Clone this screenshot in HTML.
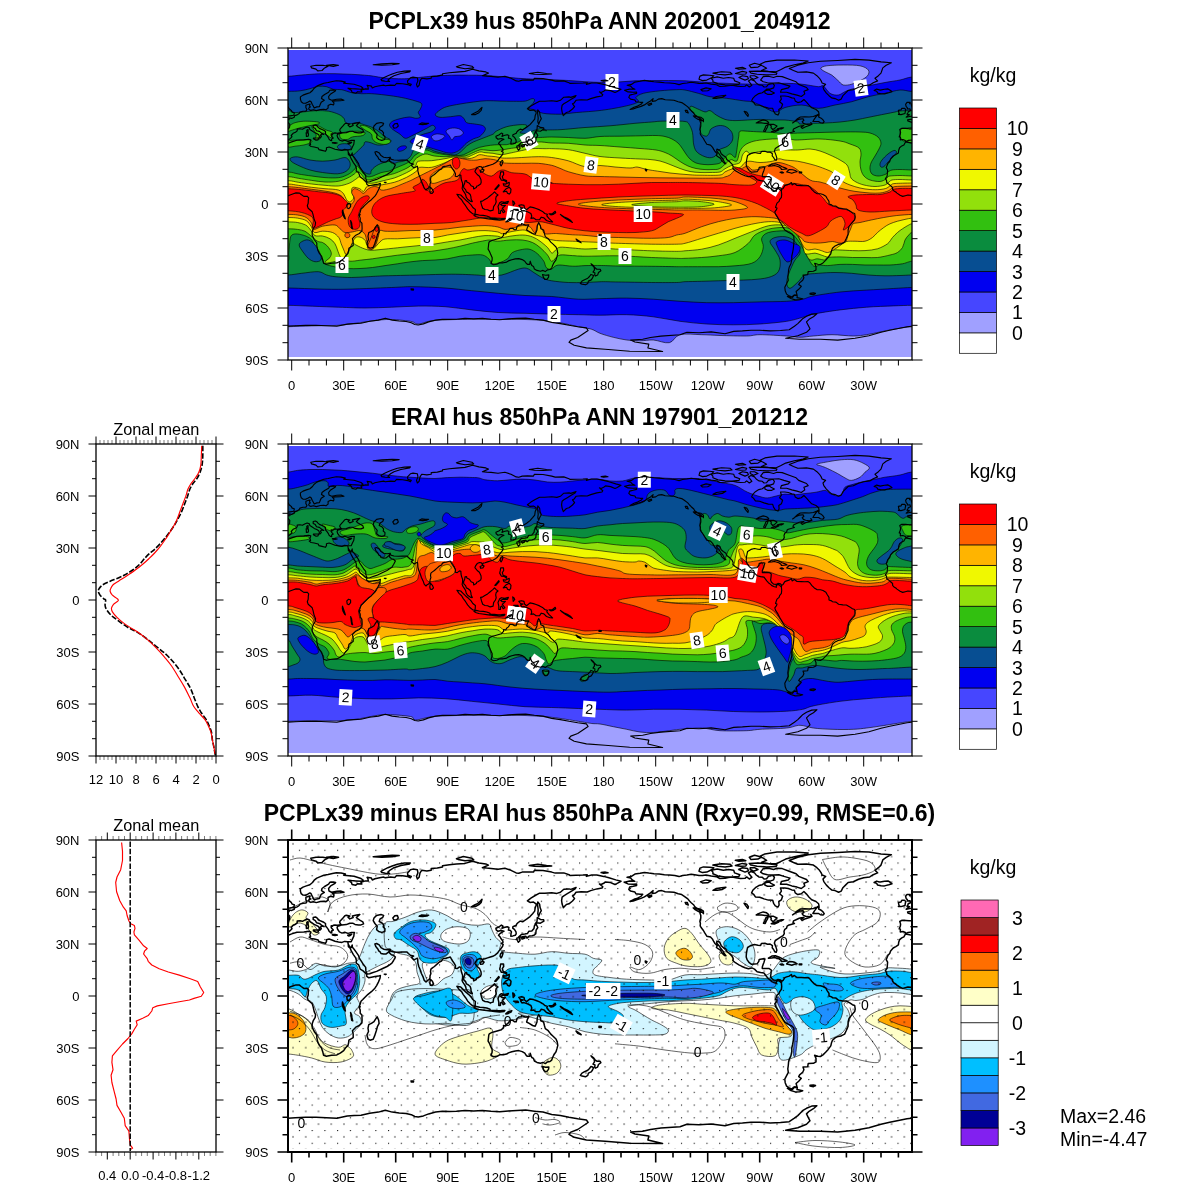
<!DOCTYPE html>
<html lang="en">
<head>
<meta charset="utf-8">
<title>hus 850hPa ANN</title>
<style>html,body{margin:0;padding:0;background:#fff}body{width:1200px;height:1200px;overflow:hidden}svg{display:block}</style>
</head>
<body>
<svg width="1200" height="1200" viewBox="0 0 1200 1200" font-family="'Liberation Sans', sans-serif" fill="#000">
<rect x="0" y="0" width="1200" height="1200" fill="#fff"/>
<defs><path id="coast" d="M281.5 141.9L288.2 143.2L291.7 141.9L296.9 140.2L303.8 139.9L308.7 139.3L310.8 139.9L309.9 142.5L310.6 144.5L309.2 145.1L311.1 146.5L314.2 147L318.2 148L318.9 149.6L322 150.4L325.5 151.3L326.5 149.4L326.4 147.7L329.1 147L331.9 148L335 149.2L338.5 149.9L342 150.4L344.6 149.4L347.7 149.7L348.2 152L348.4 154.6L349.9 155.8L351.3 158.9L353.4 162.6L355.7 165.9L356.4 168.5L356.2 171.1L358.6 172.8L360.2 177.1L363.1 178.9L365.7 181.5L366.8 182.3L366.6 184.1L368.8 185.8L371.4 185.3L374.9 184.6L378.4 184.1L380.4 183.4L380.1 186L378.4 190.1L376.6 193.6L374.9 196.2L371.4 199.7L368 202.3L364.5 205.7L362.8 207.5L361 209.2L360.2 212.1L359 215.3L360.2 217.9L360.2 221.3L361.9 223.1L362.1 228.3L361.9 230.9L359.3 233.5L355.8 235.2L352.4 238.7L353.2 242.1L353.2 245.6L348.9 248.2L348.6 250.8L348 253.4L345.4 256L343.7 258.6L340.2 261.2L336.8 262.9L331.6 263.3L326.4 264.3L323.6 263.3L322.9 260.3L321.5 256L319.4 253.4L317.7 249.9L316.8 245.6L316.8 243L314.2 239.5L312.2 235.2L312.2 231.7L313.4 228.3L315.1 225.7L315.6 222.7L314.2 219.6L313 214.4L312.2 211.8L308.2 208.3L307.3 205.7L308.2 203.1L308.3 200.2L308.7 197.9L307.1 196.2L303.8 196.4L301.2 194.5L299.5 193.1L296 192.9L293.4 193.8L290 195L288.2 195.7L286.5 195.2L283.9 195L281.3 195.7L278.7 196.4L276.1 195.3L273 193.1L271.8 192L270 191L268.6 189.3L268.6 187.5L266.6 185.8L265.7 184.9L262.8 182.7L262.6 180.6L261.4 178.5L263.1 176.3L263.4 172.8L263.6 170.2L262.2 167.6L264 163.3L265.7 161.5L266.6 158.9L269.2 156L271.8 154.6L274.4 152.9L274.7 150.3L275.6 147.7L277.8 145.9L279.9 144.9L281.5 141.9M905.5 141.9L912.2 143.2L915.7 141.9L920.9 140.2L927.8 139.9L932.7 139.3L934.8 139.9L933.9 142.5L934.6 144.5L933.2 145.1L935.1 146.5L938.2 147L942.2 148L942.9 149.6L946 150.4L949.5 151.3L950.5 149.4L950.4 147.7L953.1 147L955.9 148L959 149.2L962.5 149.9L966 150.4L968.6 149.4L971.7 149.7L972.2 152L972.4 154.6L973.9 155.8L975.3 158.9L977.4 162.6L979.7 165.9L980.4 168.5L980.2 171.1L982.6 172.8L984.2 177.1L987.1 178.9L989.7 181.5L990.8 182.3L990.6 184.1L992.8 185.8L995.4 185.3L998.9 184.6L1002.4 184.1L1004.4 183.4L1004.1 186L1002.4 190.1L1000.6 193.6L998.9 196.2L995.4 199.7L992 202.3L988.5 205.7L986.8 207.5L985 209.2L984.2 212.1L983 215.3L984.2 217.9L984.2 221.3L985.9 223.1L986.1 228.3L985.9 230.9L983.3 233.5L979.8 235.2L976.4 238.7L977.2 242.1L977.2 245.6L972.9 248.2L972.6 250.8L972 253.4L969.4 256L967.7 258.6L964.2 261.2L960.8 262.9L955.6 263.3L950.4 264.3L947.6 263.3L946.9 260.3L945.5 256L943.4 253.4L941.7 249.9L940.8 245.6L940.8 243L938.2 239.5L936.2 235.2L936.2 231.7L937.4 228.3L939.1 225.7L939.6 222.7L938.2 219.6L937 214.4L936.2 211.8L932.2 208.3L931.3 205.7L932.2 203.1L932.3 200.2L932.7 197.9L931.1 196.2L927.8 196.4L925.2 194.5L923.5 193.1L920 192.9L917.4 193.8L914 195L912.2 195.7L910.5 195.2L907.9 195L905.3 195.7L902.7 196.4L900.1 195.3L897 193.1L895.8 192L894 191L892.6 189.3L892.6 187.5L890.6 185.8L889.7 184.9L886.8 182.7L886.6 180.6L885.4 178.5L887.1 176.3L887.4 172.8L887.6 170.2L886.2 167.6L888 163.3L889.7 161.5L890.6 158.9L893.2 156L895.8 154.6L898.4 152.9L898.7 150.3L899.6 147.7L901.8 145.9L903.9 144.9L905.5 141.9M347.7 149.7L351.2 149.7L352.4 147.1L353.8 144.2L354.1 141.6L354.4 140.4L351.5 140.4L348 141.4L344.7 140.2L342 141.1L339.4 139.9L337.6 137.3L337.1 135.5L337.6 134.3L339.4 133.8L342 132.9L346.3 132.6L349.8 131.2L352.7 131.2L355 132.4L358.4 132.9L361 132.9L363.6 131.9L362.8 129.8L360.2 128.3L357.6 126.7L356.4 125.5L358.1 123.9L359.8 122.4L356.7 122.9L352.4 123.9L353.2 125.5L349.8 126.9L348 125.1L349.8 124.1L346.3 123.2L344.9 123.7L343.2 125.7L341.4 127.7L340.1 129.1L339.7 130.3L340.6 132.1L342 132.8L339.4 132.9L337.1 133.3L335 132.9L333.3 133.3L332.4 134.3L331.2 133.8L331.2 135.5L331.9 136.6L333.3 138.1L331.6 139L331.7 140.7L330.4 140.4L329.1 139.3L328.4 137.6L327.2 135.9L325.5 133.8L325.5 131.5L323.8 130.3L322 129.5L319.4 128.4L317.7 126.9L316.8 125.7L315.4 125L313.2 125.5L313.2 127.4L315.3 128.6L316.5 130.7L319.4 131.4L321.5 133.1L323.8 134.5L321.5 134L320.5 135.2L321.3 136.6L319.8 138.1L319.1 137.6L319.4 136.4L318.7 134.7L316.8 133.6L314.2 132.4L312.2 131L309.9 129.6L309.4 127.9L307.1 127L304.7 128.1L302.4 129.3L300 128.8L297.2 129.1L297.2 130.9L295.5 132.2L293.1 133.3L291.2 135.5L292 136.7L290.7 138.1L288.6 139.9L284.1 140.4L282.3 141.4L280.8 140.2L278.9 139.5L276.3 139.9L276.4 137.3L275.2 136.9L276.3 134.3L276.6 132.1L275.8 129.5L277.8 128.3L281.6 128.4L285.1 128.8L288.6 128.8L289.6 126.9L289.8 124.3L287.9 122.4L283.9 121L283.6 119.9L286.5 119.4L289.1 119.6L288.8 117.9L291.7 118.4L294.3 117.2L294.5 115.8L297.2 114.9L299.2 113.5L300 112.1L303 111.3L305.9 111.1L307 109.5L305.9 107.8L305.9 105.2L308.7 104.3L310.1 104L309.4 106.1L310.4 106.9L308.7 108.1L309 109.5L310.8 110.4L313.4 109.7L316.3 110.6L320.3 109.5L323.8 109.2L326 109.7L328.1 108.1L328.1 105.5L330.7 104.2L333.6 104.9L334 102.9L332.4 101.4L335 100.9L340.2 100.7L344 100.2L341.1 99.1L336.8 99.3L331.6 100.2L329 99L328.6 96.5L330.7 93.9L335 91.3L335.6 90.5L333.3 89.9L329.8 90.3L328.6 92.2L324.6 94.5L322 96.5L321.5 98.6L324.3 100.3L321.2 102.3L320.3 104.3L319.4 106.6L316.8 106.9L314.2 108L313.5 106.6L312.2 104.2L311.1 101.7L309.9 100.9L308.2 101.9L305.6 103.3L303 103.1L301.2 101.7L300.4 99.1L300.4 96.9L303 95.1L306.4 93.9L309.9 92.7L312.5 90.5L314.2 88.2L316.8 86.1L320.3 84.6L323.8 83.2L328.1 82.5L332.4 81.5L336.4 80.8L341.1 81.1L345.4 82.1L343.7 83.2L348.9 83.7L354.1 84.2L361 86.5L363.1 88.2L361 89.3L355.8 88.9L351.5 88.6L348 88.2L351.5 90.5L352 92.4L355.8 93.2L357.6 91.7L361.9 92L361 90.3L365.4 88.9L368.3 89.1L368 87L367.1 85.3L371.4 86.1L372.3 88L374.9 86.8L378.4 86L383.6 85.1L385.3 85.8L390.5 85.1L394.8 85.4L396.6 83.4L402.6 83.7L407.8 84.6L410.4 85.8L411.3 84.4L407.8 83.2L407.5 80.9L410.4 77.8L413 77.1L417.4 77.8L417.9 80.9L416.5 84.4L417.4 87L419.1 85.3L420 80.9L421.7 78.3L426.9 78.9L431.2 78.3L431.2 76.6L437.3 76.1L442.5 74.9L442.5 73.7L449.4 72.8L456.4 72.1L465 71.4L472.5 69.3L478.9 70.9L485.8 71.9L488.4 73.1L482.4 75.7L486.7 76.1L491 76.4L498 77.3L504.9 76.3L511 78.3L516.2 80.9L518.8 81.3L522.2 80.1L527.4 79.9L533.5 80.1L534.4 78.3L543 78.5L551.7 80.1L555.2 81.1L563.8 80.9L569 82.7L569.9 83.4L576 83.2L582.9 83L587.2 82.7L586.4 84.4L591.6 83L596.8 83L603.7 84.4L608.9 85.8L615.8 87.9L621 89.3L616.7 91.7L615 92.5L610.6 90.6L605.4 89.9L603.7 91.3L601.1 92.5L599.4 91.9L602.8 94.8L602 96L596.8 96.9L590.7 98.6L587.2 100L581.2 99.7L576 100.3L574.2 102.9L572.5 103.8L574.6 106.6L572.5 109L569 111.8L566.4 112.5L563.3 115.6L562.1 112.1L561.6 108.7L562.1 105.2L563.8 103.8L567.3 101.7L571.6 99.1L575.1 96.9L576 95.5L570.8 97.4L569 96.9L563.8 97.2L560.4 100.3L556.9 101.4L551.7 100.7L544.8 101.2L539.6 101.2L535.2 103.5L530.9 106.1L527.4 108.8L530 110.4L533.5 110.1L536.1 111.8L536.1 113.5L535.2 115.6L534.7 119.1L532.6 121.7L530 124.6L526.6 127.2L522.6 129.8L520.2 129.1L518.2 130.5L516.7 132.1L516.3 133.3L512.9 134.8L512.7 136.1L514.4 137.3L516 139.9L516.2 141.9L515.3 143.2L512.9 143.9L510.8 144.2L511 141.6L511.5 139.9L510.4 138.5L508.4 138.1L508.9 135.5L507.2 134.7L504 135.5L502 136.4L502.8 133.8L501.4 133.1L498.8 135L495.9 136.2L496.2 137.8L498 139.3L501.1 138.5L504 139.2L501.4 140.6L500 141.6L498.5 143.3L500.2 145.1L501.3 147.1L502.8 148.9L503 150.4L501.4 151.3L503.2 152.3L502.5 154.6L500.6 156.9L499 158.9L497.4 161.2L495 163.1L492.8 164.3L489.6 165.3L487.6 165.9L485 166.7L483.1 167.1L482.4 168.8L481.5 166.7L479.4 166.6L477.2 167.6L475.4 170.2L474.9 171.6L477.2 174.5L479.4 176.3L481 179.7L481.2 182.3L480.6 184.1L478 185.8L476.8 186.1L476.3 187.5L473.7 188.9L473.4 186.7L471.1 185.8L469.4 183.2L466.8 182L466.6 180.6L465 180.9L464.7 183.2L463.6 185.8L463.8 187.9L465.6 189.6L466.4 191.9L468.2 192.7L470.2 194.5L470.9 196.7L471.1 199.1L472.3 201.6L470.8 201.4L467.6 199.3L466.2 197.1L465.6 194.5L464.5 192.6L462.8 190.1L462.1 188.4L462.6 185.8L462.6 183.2L461.6 180.6L461 178L460.9 175.4L459.5 174.9L457.2 176.6L455.2 176.3L455.5 173.7L454.1 171.1L452.6 169L451.2 166.7L450.3 165L448.6 165.5L446 166.2L444.2 166.4L442.5 167.1L441.6 169L439.4 170L437.3 171.9L434.4 174.5L432.4 175.9L430.9 177.1L430.5 179.7L430.9 181.5L430 184.1L430 186.1L428.6 187.9L427.2 188.7L426 190L424.3 188.4L423.1 184.9L421.4 181.5L420.3 178L418.8 174.5L417.9 171.1L417.7 167.6L417.4 166.2L413.9 167.9L411.3 165.3L413.6 164.1L410.4 163.3L408.4 161.5L407 160L402.6 160.1L398.3 160.3L394 160L391 159.3L390.2 157.2L387 157.7L383.6 157.2L381 155.6L379.2 152.9L376.6 151.5L374.9 152L375.8 154.6L378 157.2L378.7 158.9L380.1 159.8L381 161.5L383.6 162.1L386.2 161.9L388.8 159.8L389.5 158.4L389.6 161L391.4 162.7L393.4 163.3L395.4 165L393.6 168.5L391.9 171.1L389.6 172.8L387 174.5L382.2 176.8L376.6 179.4L372.3 180.8L369.7 181.8L367.1 182L365.9 178.9L365.7 175.4L363.6 172.8L361.6 169.7L359.6 166.7L358.4 163.3L356.2 160.1L354.1 157.2L352.4 155.3L352.2 152.9L351.2 155.5L349.9 154.8L348.9 153.4L348.2 152M971.7 149.7L975.2 149.7L976.4 147.1L977.8 144.2L978.1 141.6L978.4 140.4L975.5 140.4L972 141.4L968.7 140.2L966 141.1L963.4 139.9L961.6 137.3L961.1 135.5L961.6 134.3L963.4 133.8L966 132.9L970.3 132.6L973.8 131.2L976.7 131.2L979 132.4L982.4 132.9L985 132.9L987.6 131.9L986.8 129.8L984.2 128.3L981.6 126.7L980.4 125.5L982.1 123.9L983.8 122.4L980.7 122.9L976.4 123.9L977.2 125.5L973.8 126.9L972 125.1L973.8 124.1L970.3 123.2L968.9 123.7L967.2 125.7L965.4 127.7L964.1 129.1L963.7 130.3L964.6 132.1L966 132.8L963.4 132.9L961.1 133.3L959 132.9L957.3 133.3L956.4 134.3L955.2 133.8L955.2 135.5L955.9 136.6L957.3 138.1L955.6 139L955.7 140.7L954.4 140.4L953.1 139.3L952.4 137.6L951.2 135.9L949.5 133.8L949.5 131.5L947.8 130.3L946 129.5L943.4 128.4L941.7 126.9L940.8 125.7L939.4 125L937.2 125.5L937.2 127.4L939.3 128.6L940.5 130.7L943.4 131.4L945.5 133.1L947.8 134.5L945.5 134L944.5 135.2L945.3 136.6L943.8 138.1L943.1 137.6L943.4 136.4L942.7 134.7L940.8 133.6L938.2 132.4L936.2 131L933.9 129.6L933.4 127.9L931.1 127L928.7 128.1L926.4 129.3L924 128.8L921.2 129.1L921.2 130.9L919.5 132.2L917.1 133.3L915.2 135.5L916 136.7L914.7 138.1L912.6 139.9L908.1 140.4L906.3 141.4L904.8 140.2L902.9 139.5L900.3 139.9L900.4 137.3L899.2 136.9L900.3 134.3L900.6 132.1L899.8 129.5L901.8 128.3L905.6 128.4L909.1 128.8L912.6 128.8L913.6 126.9L913.8 124.3L911.9 122.4L907.9 121L907.6 119.9L910.5 119.4L913.1 119.6L912.8 117.9L915.7 118.4L918.3 117.2L918.5 115.8L921.2 114.9L923.2 113.5L924 112.1L927 111.3L929.9 111.1L931 109.5L929.9 107.8L929.9 105.2L932.7 104.3L934.1 104L933.4 106.1L934.4 106.9L932.7 108.1L933 109.5L934.8 110.4L937.4 109.7L940.3 110.6L944.3 109.5L947.8 109.2L950 109.7L952.1 108.1L952.1 105.5L954.7 104.2L957.6 104.9L958 102.9L956.4 101.4L959 100.9L964.2 100.7L968 100.2L965.1 99.1L960.8 99.3L955.6 100.2L953 99L952.6 96.5L954.7 93.9L959 91.3L959.6 90.5L957.3 89.9L953.8 90.3L952.6 92.2L948.6 94.5L946 96.5L945.5 98.6L948.3 100.3L945.2 102.3L944.3 104.3L943.4 106.6L940.8 106.9L938.2 108L937.5 106.6L936.2 104.2L935.1 101.7L933.9 100.9L932.2 101.9L929.6 103.3L927 103.1L925.2 101.7L924.4 99.1L924.4 96.9L927 95.1L930.4 93.9L933.9 92.7L936.5 90.5L938.2 88.2L940.8 86.1L944.3 84.6L947.8 83.2L952.1 82.5L956.4 81.5L960.4 80.8L965.1 81.1L969.4 82.1L967.7 83.2L972.9 83.7L978.1 84.2L985 86.5L987.1 88.2L985 89.3L979.8 88.9L975.5 88.6L972 88.2L975.5 90.5L976 92.4L979.8 93.2L981.6 91.7L985.9 92L985 90.3L989.4 88.9L992.3 89.1L992 87L991.1 85.3L995.4 86.1L996.3 88L998.9 86.8L1002.4 86L1007.6 85.1L1009.3 85.8L1014.5 85.1L1018.8 85.4L1020.6 83.4L1026.6 83.7L1031.8 84.6L1034.4 85.8L1035.3 84.4L1031.8 83.2L1031.5 80.9L1034.4 77.8L1037 77.1L1041.4 77.8L1041.9 80.9L1040.5 84.4L1041.4 87L1043.1 85.3L1044 80.9L1045.7 78.3L1050.9 78.9L1055.2 78.3L1055.2 76.6L1061.3 76.1L1066.5 74.9L1066.5 73.7L1073.4 72.8L1080.4 72.1L1089 71.4L1096.5 69.3L1102.9 70.9L1109.8 71.9L1112.4 73.1L1106.4 75.7L1110.7 76.1L1115 76.4L1122 77.3L1128.9 76.3L1135 78.3L1140.2 80.9L1142.8 81.3L1146.2 80.1L1151.4 79.9L1157.5 80.1L1158.4 78.3L1167 78.5L1175.7 80.1L1179.2 81.1L1187.8 80.9L1193 82.7L1193.9 83.4L1200 83.2L1206.9 83L1211.2 82.7L1210.4 84.4L1215.6 83L1220.8 83L1227.7 84.4L1232.9 85.8L1239.8 87.9L1245 89.3L1240.7 91.7L1239 92.5L1234.6 90.6L1229.4 89.9L1227.7 91.3L1225.1 92.5L1223.4 91.9L1226.8 94.8L1226 96L1220.8 96.9L1214.7 98.6L1211.2 100L1205.2 99.7L1200 100.3L1198.2 102.9L1196.5 103.8L1198.6 106.6L1196.5 109L1193 111.8L1190.4 112.5L1187.3 115.6L1186.1 112.1L1185.6 108.7L1186.1 105.2L1187.8 103.8L1191.3 101.7L1195.6 99.1L1199.1 96.9L1200 95.5L1194.8 97.4L1193 96.9L1187.8 97.2L1184.4 100.3L1180.9 101.4L1175.7 100.7L1168.8 101.2L1163.6 101.2L1159.2 103.5L1154.9 106.1L1151.4 108.8L1154 110.4L1157.5 110.1L1160.1 111.8L1160.1 113.5L1159.2 115.6L1158.7 119.1L1156.6 121.7L1154 124.6L1150.6 127.2L1146.6 129.8L1144.2 129.1L1142.2 130.5L1140.7 132.1L1140.3 133.3L1136.9 134.8L1136.7 136.1L1138.4 137.3L1140 139.9L1140.2 141.9L1139.3 143.2L1136.9 143.9L1134.8 144.2L1135 141.6L1135.5 139.9L1134.4 138.5L1132.4 138.1L1132.9 135.5L1131.2 134.7L1128 135.5L1126 136.4L1126.8 133.8L1125.4 133.1L1122.8 135L1119.9 136.2L1120.2 137.8L1122 139.3L1125.1 138.5L1128 139.2L1125.4 140.6L1124 141.6L1122.5 143.3L1124.2 145.1L1125.3 147.1L1126.8 148.9L1127 150.4L1125.4 151.3L1127.2 152.3L1126.5 154.6L1124.6 156.9L1123 158.9L1121.4 161.2L1119 163.1L1116.8 164.3L1113.6 165.3L1111.6 165.9L1109 166.7L1107.1 167.1L1106.4 168.8L1105.5 166.7L1103.4 166.6L1101.2 167.6L1099.4 170.2L1098.9 171.6L1101.2 174.5L1103.4 176.3L1105 179.7L1105.2 182.3L1104.6 184.1L1102 185.8L1100.8 186.1L1100.3 187.5L1097.7 188.9L1097.4 186.7L1095.1 185.8L1093.4 183.2L1090.8 182L1090.6 180.6L1089 180.9L1088.7 183.2L1087.6 185.8L1087.8 187.9L1089.6 189.6L1090.4 191.9L1092.2 192.7L1094.2 194.5L1094.9 196.7L1095.1 199.1L1096.3 201.6L1094.8 201.4L1091.6 199.3L1090.2 197.1L1089.6 194.5L1088.5 192.6L1086.8 190.1L1086.1 188.4L1086.6 185.8L1086.6 183.2L1085.6 180.6L1085 178L1084.9 175.4L1083.5 174.9L1081.2 176.6L1079.2 176.3L1079.5 173.7L1078.1 171.1L1076.6 169L1075.2 166.7L1074.3 165L1072.6 165.5L1070 166.2L1068.2 166.4L1066.5 167.1L1065.6 169L1063.4 170L1061.3 171.9L1058.4 174.5L1056.4 175.9L1054.9 177.1L1054.5 179.7L1054.9 181.5L1054 184.1L1054 186.1L1052.6 187.9L1051.2 188.7L1050 190L1048.3 188.4L1047.1 184.9L1045.4 181.5L1044.3 178L1042.8 174.5L1041.9 171.1L1041.7 167.6L1041.4 166.2L1037.9 167.9L1035.3 165.3L1037.6 164.1L1034.4 163.3L1032.4 161.5L1031 160L1026.6 160.1L1022.3 160.3L1018 160L1015 159.3L1014.2 157.2L1011 157.7L1007.6 157.2L1005 155.6L1003.2 152.9L1000.6 151.5L998.9 152L999.8 154.6L1002 157.2L1002.7 158.9L1004.1 159.8L1005 161.5L1007.6 162.1L1010.2 161.9L1012.8 159.8L1013.5 158.4L1013.6 161L1015.4 162.7L1017.4 163.3L1019.4 165L1017.6 168.5L1015.9 171.1L1013.6 172.8L1011 174.5L1006.2 176.8L1000.6 179.4L996.3 180.8L993.7 181.8L991.1 182L989.9 178.9L989.7 175.4L987.6 172.8L985.6 169.7L983.6 166.7L982.4 163.3L980.2 160.1L978.1 157.2L976.4 155.3L976.2 152.9L975.2 155.5L973.9 154.8L972.9 153.4L972.2 152M781.4 191L779.6 189.3L777.9 188.4L776.2 189.8L776.5 191.3L774.4 190.7L771.8 189.6L770.6 188.4L768.4 186.7L767 185.1L764.9 182.3L764 181.1L760.6 180.6L757.1 179.7L754.5 177.1L751.9 175.9L748.4 176.8L745 175.7L741.5 174.2L738.9 172.8L735.4 170.7L732.8 168.5L733.2 166.7L732 164.1L729.4 161.5L726.8 159.5L725.9 157.2L723.3 155.5L721.2 153.7L719.8 150.3L716.9 149.1L716.7 151.1L719 153.7L720.7 156.3L722.8 158.9L724.2 161.5L725.9 163.8L724.7 163.6L721.6 160.7L720.7 158.4L718.1 156.7L716.4 155.5L717.2 153.7L715 151.5L713.4 148.9L712.6 147.3L710.5 145.1L706.8 144.2L704.6 140.7L703.4 138.5L701.1 135.5L700.2 133.8L700.4 131.2L699.9 129.5L700.8 126L700.8 123.4L699.7 120.3L702.5 120.3L703.4 121.7L703.4 119.1L700.8 117.3L697.3 116.5L694.7 114.7L693.8 113L691.2 110.7L689.5 109L687.8 106.9L684.3 104.3L681.7 102.6L678.2 101.7L673.9 100.3L669.6 100L665.2 99.7L661.8 98.6L658.3 99.1L655.7 100.9L652.2 101.4L653.1 98.6L650.5 100.9L647.9 102.6L644.4 104.9L641 106.4L636.6 107.8L633.2 109L630 109.5L634 107.3L637.5 106.1L641 104.3L642.7 102.3L640.1 102.3L635.8 101.7L634.9 100L630.6 99.1L628.8 97.4L629.7 95.1L633.2 94.3L636.6 93.4L636.6 92L633.2 92.2L628 91.9L624.5 90.3L629.7 89.1L634.9 89.3L632.3 87.9L630.6 86.1L627.1 85.3L631.4 84.4L634.9 82.1L640.1 81.3L644.4 80.4L648.8 81.1L654 81.8L659.2 82.1L664.4 82.7L669.6 83L674.8 83.5L679.1 84.6L682.6 83.5L686.9 83L691.2 82.3L694.7 82.7L699 83.4L702.5 83.5L706 83L711.2 84.1L716.4 84.7L719.8 86.5L725 86.3L728.5 85.6L732 85.1L737.2 86.1L740.6 86.5L745 86.3L746.7 84.9L749.3 87L751.9 85.3L750.2 83.2L748.4 80.9L751 79.5L754.5 80.9L756.2 83L758.8 84.9L762.3 85.3L764 87L766.6 86.7L768.4 84.4L772.7 83.2L774.4 85.3L773.6 87.9L770.1 89.1L766.6 89.1L764.9 90.8L762.3 92.7L758.8 93.6L755.4 95.7L752.8 98.3L751.6 100.9L753.6 102.3L755.4 104.9L759.7 105.2L764 106.9L768.4 108.1L772.7 108.3L773.6 111.3L775.3 113.9L777.9 115.1L779.1 113L778.8 109.5L781.4 107.8L782.6 104.3L779.6 101.7L781.4 99.1L780.5 96L784.8 96L788.3 96.5L791.8 97.9L794.4 98.3L795.2 100.9L797.8 102.6L801.3 101.7L803.9 99.5L806.5 102.1L809.1 105.2L811.7 107.8L816 109.5L818.6 111.8L819 113.9L816.9 115.1L813.4 116.5L809.1 117L804.8 116.8L800.4 117L797 119.1L794.4 121.7L792.6 122.9L795.2 121.1L799.6 119.1L803 118.7L803.9 120.3L802.2 121.7L803.4 123.4L805.6 124.3L809.1 124.8L811.7 124.3L810.8 122.5L812 124.3L809.4 125.5L805.6 126.7L802.2 128.4L801 127.2L803.9 125.5L801.3 125.7L799.2 126.3L796.1 127.7L793.5 128.9L793 130.7L794.4 131.5L791.8 132.2L788.3 133.3L787.1 134.1L786.6 136.1L784.8 137.3L784 139.5L784.3 141.6L783.1 143.7L780.5 145.2L777.9 146.8L775.3 148.5L774.4 151.1L775.8 154.6L776.9 158.1L776.2 160.3L774.8 159.8L773.6 157.5L772.2 155.8L772.4 153.7L770.1 152L767.5 152.3L764.9 151.3L761.4 151.5L760.6 153.4L758 153.2L754.5 152.5L751 153.4L747.6 155.5L747 158.1L746.4 161.5L746.2 165L747.2 167.9L749.3 170.7L751.6 172.3L754.5 171.9L757.1 171.8L758.8 169.3L759.2 167.4L763.2 166.7L764.9 167.1L764 170.2L763.2 172.3L762.3 174.9L762.3 176.6L765.8 176.6L769.2 176.6L771.3 178L771 181.5L770.6 184.1L771.5 186.3L773.6 188.1L776.2 188.4L777.9 187.4L780.5 187.9L781.7 189.3M781.7 189.3L783.1 188.4L784.8 185.6L786.6 184.9L789.2 184.1L791.4 182.5L792.1 184.9L794.4 183.5L797 185.5L801.3 185.6L804.8 185.8L808.2 185.6L810 187L811.7 189.3L814.3 191.9L816.9 193.6L820.4 193.8L823 194.5L825.9 196.2L827.3 198.8L829 201.4L829 204L831.6 204.9L832.5 205.7L836 206.1L838.6 208.3L842.9 208.9L846.4 209L849.8 210.9L852.4 212.7L854.7 213.5L855.2 217L854.7 219.6L851.6 223.1L849 226.5L848.1 230L848.1 234.3L846.4 238.3L844.6 242.1L841.2 243.9L838.2 244.4L835.1 245.9L832.5 248.2L831.5 250.8L830.8 253.9L828.2 257.4L825.6 260.3L823 262.9L820.4 264.5L817.8 264.3L814.6 263.3L816 266.4L816 269.9L813.4 271.3L808.2 271.6L807.7 274.7L803 275.1L803.9 277.7L802.7 280.3L799.6 282.9L798.7 284.6L801.3 286.3L798.7 289.3L796.1 291.5L797 294.7L794.4 295L792.6 297.3L789.2 295.9L786.6 294.1L785.2 290.7L784.8 287.2L786.6 283.7L788.3 280.3L787.8 276.8L788.3 273.3L788.6 269.9L789.2 267.3L790.9 263.8L791.8 259.5L791.8 256L792.6 252.5L793.2 249.1L793.7 244.7L794 240.4L793.8 236.1L791.8 234L788.3 232.3L784.8 230L783.1 227.4L781.7 224.8L779.6 221.3L777.9 217.9L775.6 214.4L774.8 211.8L776.5 209.7L777 208L775.5 207.5L776.2 205.4L777 203.1L779.1 201.4L779.6 199.7L781.4 197.4L781.7 194.5L781.4 191ZM488.8 243L489.3 241.8L491.9 240.4L494.5 239.7L498 238.7L501.4 237.8L503.7 235.2L503.5 233.5L505.8 234L506.6 232.3L508.4 230.9L510.1 228.3L512.7 228.3L514.4 229.7L516.2 229.7L517 226.5L518.8 225.1L521.4 224.8L521.5 223.6L525.7 225.1L528.8 224.8L527.4 227.4L526.6 230L529.2 231.4L532.6 233.5L535.2 234.3L537 230L537.3 225.7L538.7 222.5L540.4 225.7L540.8 228.8L543.6 230L544.4 233.5L545.3 236.6L548.2 238.7L550.8 242.1L553.1 244.2L556 247L557.2 249.9L557.8 253.4L556.9 256.9L556 259.8L554 262.6L552.6 265.5L551.7 268.1L550 269.5L547.4 269.9L545.3 271.6L543 270.4L540.4 271.3L537 270.4L534.4 269L533.5 266.4L531.8 265.5L530.9 263.3L530.2 261.2L529.7 264.3L527.4 264.3L526.2 263.3L524.8 261.2L522.2 259.6L518.8 258.6L515.3 258.9L511.8 259.8L508.4 260.9L506.6 262.1L503.2 262.8L499.7 262.8L496.8 264.3L493.6 264.7L491 263.5L492.1 260.3L492.2 257.7L491 255.1L489.6 251.7L488.1 249.1L488.4 246.5L488.8 243ZM789.2 68.5L797.8 65.3L808.2 62.7L820.4 61.3L837.7 60.5L855 59.4L868.9 60.1L881 61.9L891.4 62.7L886.2 65.3L882.8 67.9L881.9 70.5L881 73.1L878.4 75.7L875 78.3L877.6 80.9L873.2 82.7L869.8 84.9L863.7 85.8L858.5 87.3L853.3 89.8L848.1 90.5L845.5 93.1L842.9 95.7L841.2 99.1L838.6 100.2L835.1 98.6L831.6 97.9L829 95.7L826.4 93.1L823.8 89.6L823 87L825.6 84.4L822.1 83L821.2 80.9L819.5 78.3L816.9 75.7L813.4 73.1L806.5 71.9L797.8 72.3L793.5 70.5L789.2 68.5ZM-336.6 326.2L-328.8 325.7L-318.4 325.3L-308 325.3L-297.6 325.7L-287.2 326.2L-276.8 324.1L-269.9 323.6L-263 323.3L-254.3 321.3L-245.6 320.1L-238.7 318.2L-231.8 320.1L-224.8 321L-217.9 321.5L-212.7 322.7L-209.2 324.5L-205.8 325L-200.6 323.9L-195.4 321.9L-188.4 320.1L-181.5 319.3L-174.6 319.4L-167.6 319.3L-159 318.4L-150.3 318.9L-141.6 318.4L-133 319.3L-124.3 319.8L-115.6 318.9L-107 318.4L-98.3 318.1L-89.6 319.3L-81 320.1L-72.3 322.4L-63.6 323.6L-55 325.3L-46.3 326.7L-37.6 327.9L-35.9 330.5L-41.1 334L-46.3 337.5L-53.2 340.1L-55 342.3L-49.8 345.3L-37.6 347.9L-18.9 349.3L5.7 351.3L38.6 351.5L23.9 348L24.8 344.1L10.9 342L6.7 340.1L18.7 339.2L26.5 337.5L36.9 336.1L56 334.7L62.9 332.3L75 332.8L87.2 331.9L101 333.7L109.7 331.4L118.4 330.9L127 330.2L135.7 330.2L146.1 330.9L156.5 330.5L165.2 329.7L170.4 326.2L173.8 323.6L176.4 321L179 318.4L182.5 316.3L187.7 314.1L192.9 313.7L189.4 316.7L185.1 319.3L182.5 321.9L184.2 325.3L186 328.8L182.5 332.3L173.8 335.7L161.7 338.3L175.6 339.2L196.4 339.2L213.7 340.1L231 338.3L244.9 335.7L257 332.3L265.7 330.2L274.4 328.5L283 326.7L287.4 326.2L295.2 325.7M287.4 326.2L295.2 325.7L305.6 325.3L316 325.3L326.4 325.7L336.8 326.2L347.2 324.1L354.1 323.6L361 323.3L369.7 321.3L378.4 320.1L385.3 318.2L392.2 320.1L399.2 321L406.1 321.5L411.3 322.7L414.8 324.5L418.2 325L423.4 323.9L428.6 321.9L435.6 320.1L442.5 319.3L449.4 319.4L456.4 319.3L465 318.4L473.7 318.9L482.4 318.4L491 319.3L499.7 319.8L508.4 318.9L517 318.4L525.7 318.1L534.4 319.3L543 320.1L551.7 322.4L560.4 323.6L569 325.3L577.7 326.7L586.4 327.9L588.1 330.5L582.9 334L577.7 337.5L570.8 340.1L569 342.3L574.2 345.3L586.4 347.9L605.1 349.3L629.7 351.3L662.6 351.5L647.9 348L648.8 344.1L634.9 342L630.7 340.1L642.7 339.2L650.5 337.5L660.9 336.1L680 334.7L686.9 332.3L699 332.8L711.2 331.9L725 333.7L733.7 331.4L742.4 330.9L751 330.2L759.7 330.2L770.1 330.9L780.5 330.5L789.2 329.7L794.4 326.2L797.8 323.6L800.4 321L803 318.4L806.5 316.3L811.7 314.1L816.9 313.7L813.4 316.7L809.1 319.3L806.5 321.9L808.2 325.3L810 328.8L806.5 332.3L797.8 335.7L785.7 338.3L799.6 339.2L820.4 339.2L837.7 340.1L855 338.3L868.9 335.7L881 332.3L889.7 330.2L898.4 328.5L907 326.7L911.4 326.2L919.2 325.7M911.4 326.2L919.2 325.7L929.6 325.3L940 325.3L950.4 325.7L960.8 326.2L971.2 324.1L978.1 323.6L985 323.3L993.7 321.3L1002.4 320.1L1009.3 318.2L1016.2 320.1L1023.2 321L1030.1 321.5L1035.3 322.7L1038.8 324.5L1042.2 325L1047.4 323.9L1052.6 321.9L1059.6 320.1L1066.5 319.3L1073.4 319.4L1080.4 319.3L1089 318.4L1097.7 318.9L1106.4 318.4L1115 319.3L1123.7 319.8L1132.4 318.9L1141 318.4L1149.7 318.1L1158.4 319.3L1167 320.1L1175.7 322.4L1184.4 323.6L1193 325.3L1201.7 326.7L1210.4 327.9L1212.1 330.5L1206.9 334L1201.7 337.5L1194.8 340.1L1193 342.3L1198.2 345.3L1210.4 347.9L1229.1 349.3L1253.7 351.3L1286.6 351.5L1271.9 348L1272.8 344.1L1258.9 342L1254.7 340.1L1266.7 339.2L1274.5 337.5L1284.9 336.1L1304 334.7L1310.9 332.3L1323 332.8L1335.2 331.9L1349 333.7L1357.7 331.4L1366.4 330.9L1375 330.2L1383.7 330.2L1394.1 330.9L1404.5 330.5L1413.2 329.7L1418.4 326.2L1421.8 323.6L1424.4 321L1427 318.4L1430.5 316.3L1435.7 314.1L1440.9 313.7L1437.4 316.7L1433.1 319.3L1430.5 321.9L1432.2 325.3L1434 328.8L1430.5 332.3L1421.8 335.7L1409.7 338.3L1423.6 339.2L1444.4 339.2L1461.7 340.1L1479 338.3L1492.9 335.7L1505 332.3L1513.7 330.2L1522.4 328.5L1531 326.7L1535.4 326.2L1543.2 325.7M377.2 224.8L378.7 228.3L379.1 231.4L377.5 234.3L376.3 238.7L374.6 243.9L373.2 247.3L370 248.2L368 247L366.9 243L368.5 239.5L368 236.1L368.8 232.6L371.4 231.4L374 229.7L375.4 227.4L377.2 224.8ZM430.4 187.2L432.4 189.3L433.5 191.9L432.1 193.4L430.4 193.3L429.8 191L430.4 187.2ZM282.2 117.2L285.6 116.5L290 115.9L293.8 115.3L294.3 112.8L292.2 112.1L291.2 110.4L289.1 108.7L288.2 106.9L287.4 105.2L288.2 104L285.6 103.8L286.2 102.4L283 102.4L281.6 104.3L282.2 106.6L283.4 107.8L283.4 109L286 108.8L286.5 110.7L284.2 111.8L283.9 113L283 114.2L285.6 114.7L283.9 115.6L282.2 117.2ZM906.2 117.2L909.6 116.5L914 115.9L917.8 115.3L918.3 112.8L916.2 112.1L915.2 110.4L913.1 108.7L912.2 106.9L911.4 105.2L912.2 104L909.6 103.8L910.2 102.4L907 102.4L905.6 104.3L906.2 106.6L907.4 107.8L907.4 109L910 108.8L910.5 110.7L908.2 111.8L907.9 113L907 114.2L909.6 114.7L907.9 115.6L906.2 117.2ZM905 113.5L905.3 111.3L905.8 109.5L904.4 108.3L901.8 108.3L901 109.9L898.4 110.4L898.7 112.1L899.2 113.9L898.4 114.4L901 114.6L905 113.5ZM877.6 93.1L876.7 91.3L874.1 90.5L876.7 89.1L880.2 90.1L884.5 89.3L888 88.9L890.6 90.5L892 91.7L888.8 92.7L884.5 93.9L881 93.8L877.6 93.1ZM310.8 66.2L316 65.3L322.9 65.3L328.1 66.2L324.6 67.9L322 70.5L317.7 70.9L316 69.1L311.6 67.9L310.8 66.2ZM326.4 65.3L333.3 64.6L338.5 65.3L333.3 66.5L326.4 65.3ZM381 79.5L383.6 77.8L387.9 75.7L392.2 74L397.4 72.3L404.4 71.1L410.4 70.9L409.6 71.9L400.9 73.5L394 75.7L390.5 77.8L387.9 80.1L389.6 81.5L385.3 81.3L381.8 80.6L381 79.5ZM373.2 64.8L381.8 63.9L392.2 63.3L399.2 63.6L392.2 64.8L381.8 65.2L373.2 64.8ZM456.4 66.7L463.3 64.5L472 66.2L473.7 67.9L465 68.8L458.1 67.4L456.4 66.7ZM529.2 73.5L537.8 72.3L546.5 73.5L551.7 74L543 74.5L534.4 74.3L529.2 73.5ZM601.1 80.6L605.4 80.1L608 80.8L603.7 81.3L601.1 80.6ZM537.8 109.9L539.6 112.1L540.1 115.6L541.3 118.7L539.6 121.7L538.7 124.3L537.8 121.7L538.2 118.2L537.8 114.7L537.5 111.8L537.8 109.9ZM534.9 132.1L537 129.5L537.3 125.5L540.4 127.4L543.6 127.7L543.9 129.1L540.4 131.2L537 130.7L534.9 132.1ZM518.6 145.1L521.4 142.5L524.8 142.1L527.4 141.6L528.8 139.3L531.8 139L534 136.4L534.4 133.8L536.1 132.2L537.8 135.5L536.1 138.1L535.8 141.6L534.4 143L532.3 143.7L529.2 144L527.1 145.9L525.7 144.2L522.2 144.7L518.6 145.1ZM517 145.9L519.6 145.6L520 148.5L518.4 150.3L517.4 148.5L516.7 147.1L517 145.9ZM521.4 145.4L524.8 144.7L524.3 146.3L522.2 147.1L521.4 145.4ZM502.3 160.3L503 161.5L502 164.5L501.1 165.9L500 164.1L500.6 161.9L502.3 160.3ZM480.1 170.5L482.9 169.2L484.1 170L482.9 171.9L480.6 172.3L480.1 170.5ZM500.7 171.9L503.5 171.9L503.7 174.5L502.3 176.6L503.2 179.4L506.6 180.6L506.6 182.2L504 180.4L501.4 180.3L500.7 178.9L499.7 177.1L500.2 174.9L500.7 171.9ZM503.2 191.9L505.8 189.1L509.2 187.2L511 189.3L510.6 192.7L509.2 194.1L507.5 193.3L506.6 191.3L503.2 191.9ZM505.8 184.1L509.2 182.3L509.2 184.9L508 186.3L505.8 186.3L504 185.8L503.2 183.7L505.8 184.1ZM494.8 189.3L498.8 184.6L499.2 185.6L495.9 189.3L494.8 189.3ZM480.6 201.4L482.4 201.1L484.4 199.7L487.6 197.9L490.2 195.7L492.8 193.6L494.5 191.9L496.2 193.6L498 195L496.2 196.5L495.7 198.8L496.2 201.9L495.4 204L493.6 206.6L493.1 210.1L490.2 210.9L487.6 209.7L485 209.5L482.7 208.3L481.5 204.9L480.6 201.4ZM456.9 194.3L460.7 195L463.3 197.6L465.9 200.2L468.5 202.3L471.1 204.9L472.8 207.5L475.4 209.5L475.1 214.1L472.8 213.9L470.2 211.8L467.6 208.9L465.6 205.7L463.3 202.6L461.6 199.7L459 197.4L456.9 194.3ZM474 215.6L476.3 214.4L479.8 215.3L483.2 215.4L486.7 216L490 217.3L490.2 219.1L486.7 218.6L482.4 218L478.9 217.5L476.3 216.8L474 215.6ZM491 218.4L494.5 218.4L498 218.7L501.4 218.6L504.9 218.4L504 219.6L499.7 220.1L494.5 219.6L491 219.1L491 218.4ZM505.8 221.9L508.4 219.6L511.8 218.6L511 220.1L507.5 221.7L505.8 221.9ZM498.8 213.5L498.8 210.1L498 206.6L499.7 202.8L501.4 201.7L504.9 202.4L508.4 201.4L507.5 203.3L503.2 203.3L500.6 204.3L502.3 205.7L505.4 205.4L503.7 207.1L502.3 208.3L503.7 210.1L504.9 211.8L503.2 212.7L501.8 210.1L500.6 210.9L500.4 213.5L498.8 213.5ZM512.7 200.9L513.9 201.7L514.8 203.5L513.2 205.4L513 203L512.7 200.9ZM513.6 209.2L517.9 209.2L518.4 210.4L515.3 210.1L513.6 209.2ZM518.8 205.4L521.4 204.7L524 205.4L524.5 208L526.6 209.7L530 206.9L533.5 207.6L536.1 208.5L539.6 209.9L543 211.8L544.8 213.5L547.4 214.4L546.8 215.8L549.1 218.7L552.6 221.9L550 221.7L546.5 220.5L543.9 217.9L541.3 217.2L539.6 219.6L536.1 219.8L533.5 217.9L530.9 218.4L531.8 216.1L530.9 213.5L527.4 211.8L524 210.6L521.9 210.9L520.5 208.9L523.1 208L520.5 207.5L518.8 205.4ZM549.1 213.7L552.6 213.5L555.2 211.3L555.7 212.7L553.4 214.4L550.8 214.9L549.1 213.7ZM560.4 214.4L563.8 216.7L567.3 218.2L570.8 220.5L572.5 222.5L569.9 221L565.6 218.4L562.1 216.1L560.4 214.4ZM576 239L580.3 241.8L581.2 242.8L577.7 241.3L576 239ZM599 234.3L601.4 234.5L601.1 235.5L599 235.4L599 234.3ZM591 263.8L593.3 265.5L595 267.8L596.8 269.2L600.2 269.2L600.9 270.7L598.5 272.5L597.6 275.1L595.4 276.1L594.7 274.7L595 273L593 272.1L594.5 269.9L594.2 267.3L591.6 264.7L591 263.8ZM591 274.4L593.6 275.6L592.4 278.2L591.2 279.9L588.4 281.1L587.8 283.4L585.5 284.8L582 284.1L580.3 283.4L582 281.1L584.6 279.7L587.8 278.2L589.5 276.5L591 274.4ZM542.5 274.5L545.6 275.2L548.8 274.9L548.6 277.1L547 279.4L544.8 279.4L543.6 277.7L542.5 274.5ZM768.4 166.2L771.8 164.1L775.3 163.8L778.8 165L782.2 166.7L785.7 168.1L787.1 169L781.4 169.5L781 168.3L778.8 166.7L774.4 165.5L771.8 165.9L768.4 166.2ZM786.7 171.9L789.2 169.5L792.6 169.7L795.2 170.5L797.1 171.8L794.4 172.3L791.8 173.3L789.2 172.5L786.7 171.9ZM780 172.3L782.2 171.9L783.6 172.8L781.7 173.1L780 172.3ZM799.2 171.9L801.8 172.1L801.6 172.8L799.2 172.8L799.2 171.9ZM812.9 121.5L814.3 119.1L816.9 115.6L819.2 114.7L818.6 117L821.2 118.2L823 119.9L824.2 121.7L823 123.1L820.4 122.7L818.6 121.5L816 121.5L812.9 121.5ZM693.3 115.9L697.3 116.8L700.8 119.1L701.6 120.1L698.2 119.4L694.7 117.3L693.3 115.9ZM685.2 110.4L687.2 110.4L688.3 113L686 112.1L685.2 110.4ZM647.9 104.3L651.4 103.1L651.7 104.3L649.1 105.5L647.9 104.3ZM777 76.3L782.2 76.6L789.2 79.2L796.1 81.8L798.7 84.4L806.5 87.5L808.2 89.6L803.9 91.3L804.8 93.9L801.3 96.5L797 95.1L791.8 93.9L786.6 92.2L780.5 92.2L781.4 89.6L788.3 87.9L790 86.1L784 84.4L778.8 82.7L773.6 83L767.5 82.7L763.2 81.8L760.6 80.1L763.2 76.6L768.4 76.3L773.6 77.5L777 76.3ZM764.9 90.8L769.2 89.9L771 91.3L774.4 93.1L771.8 94.3L767.5 94.3L764.9 93.1L764.9 90.8ZM712.9 81.8L718.1 83.9L725 84.9L732 85.1L738.9 84.4L739.8 82.7L734.6 80.9L733.7 78.3L728.5 77.5L723.3 78.2L717.2 76.9L711.2 78.3L712.9 80.1L712.9 81.8ZM699 79.2L702.5 80.6L706.8 80.1L712 77.5L713.8 75.7L709.4 75.2L703.4 74.9L699.9 76.1L699 79.2ZM738.9 77.5L745 80.1L748.4 78.7L747.6 76.6L742.4 75.7L738.9 77.5ZM750.2 75.7L754.5 75.7L758 77.5L753.6 79.2L750.2 77.5L750.2 75.7ZM749.3 71.4L758 71.1L768.4 71.7L777 73L776.2 74.5L766.6 74.9L757.1 74.3L751 73.1L749.3 71.4ZM759.7 64.5L764.9 61.9L777 60.1L794.4 60L808.2 61L803 63.1L794.4 64.8L785.7 67.1L780.5 69.7L776.2 71.7L768.4 71.4L761.4 70.5L766.6 68.3L763.2 66.2L759.7 64.5ZM749.3 65.3L754.5 63.3L761.4 65L758 67.1L751 67.6L749.3 65.3ZM712.9 73.1L721.6 71.7L730.2 72.3L732 74L725 74.9L718.1 74.3L712.9 73.1ZM735.4 73.5L742.4 71.4L746.7 72.3L745.8 74L740.6 74.3L735.4 73.5ZM735.4 68.3L742.4 67.4L745.8 68.8L738.9 69.3L735.4 68.3ZM376.6 123.4L381 122.5L383.6 123.4L382.7 125.5L380.1 126.9L379.2 129.5L381.8 130.7L383.6 132.9L383.2 135L385 136.7L384.8 139.5L381.8 140.4L378.7 139.5L376.6 137.6L377.2 134.3L374.9 131.5L373.2 128.6L374 126L376.6 123.4ZM392.8 126L394.8 123.7L397.4 123.4L398.3 126L396.6 127.7L394 128.1L392.8 126ZM471.6 114.6L474.6 113L478 111.3L480.6 108.7L482 107.3L481.2 110.4L478.9 112.7L475.4 114.6L471.6 114.6ZM419.1 124.3L421.7 122.9L425.2 123.2L428.6 123.2L426.9 124.1L422.6 124.6L419.1 124.3ZM346.8 204.9L348.6 203.3L350.6 204L350.6 206.6L348.9 208.7L347.2 208L346.8 204.9ZM342.5 210.1L343.4 212.7L344.6 216.1L345.4 218.9L344.6 218.2L343 215.3L342.3 212.3L342.5 210.1ZM350.6 220.6L351.7 223.1L352 226.5L352.7 228.8L351.7 228.3L351.2 224.8L350.6 220.6ZM756.2 122.9L759.7 121.1L763.2 119.9L766.6 120.8L768.7 122.5L768.4 123.4L764.9 123.4L761.4 122.9L756.2 122.9ZM763.5 131.2L764.9 128.6L765.8 126L768.4 124.3L767.5 126.9L766.1 129.5L765.2 131.5L763.5 131.2ZM769.2 124.3L773.6 124.3L777 126L776.2 126.9L774.1 128.9L772.7 129.5L771 127.7L771.3 126L769.2 124.3ZM771.3 131.7L774.4 132.1L778.8 130L777 129.8L773.6 130.7L771.3 131.7ZM777.4 128.9L781.4 128.9L783.6 127.7L781.4 127.7L777.4 128.9ZM744.1 111.3L745.8 113.9L747.9 116.5L748.4 114.7L746.7 112.1L744.1 111.3ZM700.8 89.6L706 87.9L711.2 88.7L707.7 90.8L702.5 91L700.8 89.6ZM712.9 98.3L716.4 96.5L721.6 95.7L725.9 95.3L722.4 97.4L717.2 98.3L712.9 98.3ZM332.4 142.5L335 142.6L337.3 143L335 143.5L332.4 143L332.4 142.5ZM347.7 143.3L349.8 142.6L351.7 142.3L350.6 143.3L348.9 144L347.7 143.3ZM313.4 138.1L316 138L318.7 137.8L318 139.9L316 140.2L313.4 138.8L313.4 138.1ZM306.1 132.9L308.2 132.6L308.5 134.7L308.2 136.2L306.4 136.4L306.3 134.3L306.1 132.9ZM306.8 130.3L308 129.5L308.2 131.2L307.6 132.2L306.8 131.5L306.8 130.3ZM810 293.3L813.4 292.9L815.5 293.4L813.4 294.7L810 294.1L810 293.3ZM793.5 295.3L797.3 295.5L797 297.6L802.7 298.8L799.6 299.7L795.2 299.9L790.9 298.5L787.4 296.4L791.8 297.3L793.5 295.3ZM411 288.9L413.6 289.1L413.4 290.1L411.3 290L411 288.9ZM645.3 169L647 169.7L646.2 171.1L645.3 170L645.3 169ZM384.3 182.2L386.2 182.2L385.3 182.7L384.3 182.2ZM359.6 214.1L360.2 214.7L359.8 215.3L359.6 214.1Z"/></defs>
<clipPath id="clip0"><rect x="288" y="50" width="624" height="307"/></clipPath>
<g clip-path="url(#clip0)" stroke-linejoin="round">
<rect x="280" y="43" width="640" height="322" fill="#4646ff"/>
<path d="M270 76.3C273 76.3 282.7 76.6 288 76.3C293.3 76.1 296.6 75.4 301.7 75C306.7 74.6 312.8 74.1 318.3 73.8C323.9 73.6 329.4 73.6 335 73.7C340.6 73.8 346.1 74 351.7 74.3C357.2 74.6 363.9 75.1 368.3 75.5C372.8 75.9 375 76.5 378.3 77C381.7 77.5 384.4 78 388.3 78.3C392.2 78.6 397.8 78.8 401.7 78.8C405.6 78.8 408.1 78.6 411.7 78.3C415.3 78 419.4 77.4 423.3 77C427.2 76.6 430.3 76.3 435 76C439.7 75.7 446.1 75.3 451.7 75.2C457.2 75 462.8 75.1 468.3 75.2C473.9 75.2 479.4 75.2 485 75.5C490.6 75.8 496.1 76.2 501.7 76.7C507.2 77.1 512.8 77.9 518.3 78.3C523.9 78.8 529.4 78.9 535 79.2C540.6 79.4 546.1 79.4 551.7 79.7C557.2 79.9 562.8 80.2 568.3 80.5C573.9 80.8 579.4 81.3 585 81.7C590.6 82 596.1 82.4 601.7 82.5C607.2 82.6 612.8 82.3 618.3 82C623.9 81.7 629.4 81.1 635 80.8C640.6 80.6 646.1 80.6 651.7 80.5C657.2 80.4 662.8 80.4 668.3 80.5C673.9 80.6 679.4 80.6 685 80.8C690.6 81.1 696.1 81.6 701.7 82C707.2 82.4 712.8 82.7 718.3 83C723.9 83.3 729.4 83.5 735 83.7C740.6 83.9 746.1 84.1 751.7 84.2C757.2 84.2 762.8 84.3 768.3 84.2C773.9 84 779.4 83.3 785 83.3C790.6 83.3 796.1 83.6 801.7 84.2C807.2 84.7 814.7 86.4 818.3 86.7C821.9 86.9 821.4 84.7 823.3 85.8C825.3 86.9 827.5 91.8 830 93.3C832.5 94.9 835.8 95.3 838.3 95C840.8 94.7 842.8 92.6 845 91.7C847.2 90.7 847.8 90.1 851.7 89.2C855.6 88.2 862.8 86.9 868.3 85.8C873.9 84.7 879.7 83.5 885 82.5C890.3 81.5 895.5 80.9 900 80C904.5 79.1 907 77.5 912 77C917 76.5 927 77 930 77L930 305.3C927 305.3 918.1 305.2 912 305.3C905.9 305.4 900.9 305.6 893.3 305.9C885.8 306.2 875.6 306.5 866.7 307.2C857.8 307.9 848.9 308.7 840 309.9C831.1 311 819.6 312.9 813.3 314.1C807.1 315.4 807.1 316.1 802.7 317.3C798.2 318.5 793.8 320.2 786.7 321.3C779.6 322.4 768.9 323.4 760 324C751.1 324.6 742.2 324.8 733.3 324.8C724.4 324.8 715.6 324.6 706.7 324C697.8 323.4 688.9 322.5 680 321.3C671.1 320.1 662.2 317.9 653.3 316.8C644.4 315.7 635.6 314.9 626.7 314.7C617.8 314.4 608.1 315.2 600 315.2C591.9 315.2 586.4 314.8 578.3 314.7C570.3 314.5 560.6 314.4 551.7 314.1C542.8 313.9 533.9 313.6 525 313.3C516.1 313.1 507.2 313.1 498.3 312.5C489.4 312 480.6 310.8 471.7 309.9C462.8 308.9 453.9 307.3 445 306.7C436.1 306 427.2 306 418.3 306.1C409.4 306.2 400.6 306.9 391.7 307.2C382.8 307.5 373.9 308 365 308C356.1 308 351.1 307.6 338.3 307.2C325.5 306.8 299.6 305.6 288.2 305.3C276.8 305 273 305.3 270 305.3Z" fill="#0000f0" stroke="#000" stroke-width="0.6"/>
<path d="M270 326.7C273 326.7 281.3 326.8 288.2 326.7C295.1 326.5 303.3 326.1 311.7 325.9C320 325.6 330.3 325.9 338.3 325.3C346.3 324.8 351.7 323.6 359.7 322.7C367.7 321.7 377.9 319.7 386.3 319.5C394.8 319.2 405 320.6 410.3 321.3C415.7 322.1 414.3 324.1 418.3 324C422.3 323.9 425.4 321.3 434.3 320.5C443.2 319.7 461 319.4 471.7 319.2C482.3 319 489.4 319.4 498.3 319.5C507.2 319.5 516.1 319.2 525 319.5C533.9 319.8 542.8 320.1 551.7 321.3C560.6 322.5 571.7 325.3 578.3 326.7C585 328 588.1 328.2 591.7 329.3C595.3 330.4 596.4 332 600 333.3C603.6 334.7 608.9 336.2 613.3 337.3C617.8 338.4 622.2 339.4 626.7 340C631.1 340.6 635.6 340.8 640 340.8C644.4 340.8 648.4 339.7 653.3 340C658.2 340.3 664.9 343.6 669.3 342.7C673.8 341.8 674.7 336 680 334.7C685.3 333.3 694.7 334.5 701.3 334.7C708 334.8 712.4 335.2 720 335.5C727.6 335.7 740 336.1 746.7 336C753.3 335.9 753.3 334.7 760 334.7C766.7 334.7 780 335.6 786.7 336C793.3 336.4 795.6 337.3 800 337.3C804.4 337.3 808 336.4 813.3 336C818.7 335.6 825.3 334.7 832 334.7C838.7 334.7 847.6 336 853.3 336C859.1 336 862.2 335.3 866.7 334.7C871.1 334 875.6 332.9 880 332C884.4 331.1 888 330.2 893.3 329.3C898.7 328.4 905.9 327.1 912 326.7C918.1 326.2 927 326.7 930 326.7L930 380 L270 380 Z" fill="#a0a0ff" stroke="#000" stroke-width="0.6"/>
<path d="M820.8 68.3C821.1 67.4 822.9 66.4 826.7 65.8C830.4 65.3 837.8 65 843.3 65C848.9 65 855.8 65 860 65.8C864.2 66.7 867.1 68.3 868.3 70C869.6 71.7 868.9 74 867.5 75.8C866.1 77.6 862.6 79.4 860 80.8C857.4 82.2 854.4 83.5 851.7 84.2C848.9 84.9 845.6 85.6 843.3 85C841.1 84.4 840.3 82.5 838.3 80.8C836.4 79.2 833.9 76.5 831.7 75C829.4 73.5 826.8 72.8 825 71.7C823.2 70.6 820.6 69.3 820.8 68.3Z" fill="#a0a0ff" stroke="#000" stroke-width="0.6"/>
<path d="M270 91.3C273 91.3 283 91.4 288 91.3C293 91.3 296.3 91.3 300 90.8C303.7 90.4 306.9 89.4 310 88.7C313.1 87.9 315.6 86.7 318.3 86.3C321.1 86 324.2 86.2 326.7 86.7C329.2 87.2 330.8 88.8 333.3 89.3C335.8 89.8 338.6 89.1 341.7 89.7C344.7 90.2 348.3 92 351.7 92.7C355 93.3 358.3 93.5 361.7 93.7C365 93.8 367.8 93.4 371.7 93.7C375.6 93.9 380 94.4 385 95C390 95.6 396.7 96.5 401.7 97.5C406.7 98.5 411.7 99.8 415 100.8C418.3 101.9 420.8 102.3 421.7 103.7C422.6 105.1 420.9 107.7 420.3 109.2C419.8 110.6 418.3 111.2 418.3 112.5C418.3 113.8 420.8 116 420.3 117C419.9 118 417.7 118.3 415.8 118.3C414 118.3 411.8 116.9 409.2 117C406.5 117.1 402.8 117.9 400 118.7C397.2 119.4 394.2 120.3 392.5 121.3C390.8 122.4 389.5 123.7 389.5 125C389.5 126.3 390.8 127.6 392.5 129.2C394.2 130.7 397.9 132.6 400 134.2C402.1 135.7 403.4 138.1 405.3 138.3C407.3 138.6 409.2 136.9 411.7 135.8C414.1 134.7 417.5 132.9 420 131.7C422.5 130.4 424.6 129.4 426.7 128.3C428.7 127.3 431.1 125.4 432.5 125.3C433.9 125.3 435.5 126.9 435.3 128C435.2 129.1 433.7 130.6 431.7 131.7C429.7 132.7 426.3 133.1 423.3 134.2C420.4 135.2 416.3 136.8 414.2 138C412 139.2 410.5 140.4 410.3 141.3C410.2 142.3 410.6 142.8 413.3 143.7C416.1 144.6 423.3 145.8 426.7 146.7C430 147.5 431.1 148 433.3 148.7C435.6 149.3 437.8 150 440 150.7C442.2 151.3 444.4 152.3 446.7 152.7C448.9 153 451.1 153.4 453.3 152.9C455.6 152.4 457.8 151.3 460 149.6C462.2 147.9 464.4 144.7 466.7 142.9C468.9 141.2 471.1 140 473.3 138.9C475.6 137.8 478 137.8 480 136.3C482 134.7 484.9 131.4 485.3 129.6C485.8 127.8 484.4 126.5 482.7 125.6C480.9 124.7 477.3 124.5 474.7 124C472 123.5 468.4 123.6 466.7 122.7C464.9 121.8 465.1 119.8 464 118.7C462.9 117.5 462.2 116.1 460 115.7C457.8 115.4 454 116.4 450.7 116.7C447.3 116.9 442.6 117.7 440 117.3C437.4 117 435.3 115.9 435.3 114.7C435.3 113.4 438.1 111.3 440 110C441.9 108.7 443.3 107.7 446.7 106.7C450 105.7 455.6 104.8 460 104C464.4 103.2 468.9 102.6 473.3 102C477.8 101.4 482.2 100.8 486.7 100.7C491.1 100.5 495.6 101 500 101.1C504.4 101.2 509.1 101.3 513.3 101.3C517.6 101.3 522.2 101.5 525.3 101.1C528.4 100.6 530.4 98.8 532 98.7C533.6 98.5 534.7 99 534.7 100C534.7 101 533.1 103.3 532 104.7C530.9 106 527.5 107.1 528 108C528.5 108.9 532.4 109.1 535 110C537.6 110.9 539.2 112.6 543.3 113.3C547.5 114 554.4 114.3 560 114.2C565.6 114 569.7 113.1 576.7 112.5C583.6 111.9 593.3 111.4 601.7 110.3C610 109.2 620.6 107.3 626.7 105.8C632.8 104.4 636.8 103.1 638.3 101.7C639.9 100.3 635 98.9 635.8 97.5C636.7 96.1 639.3 94.4 643.3 93.3C647.4 92.2 654.4 91.4 660 90.8C665.6 90.2 672.5 89.8 676.7 89.7C680.8 89.5 681.4 89.4 685 90C688.6 90.6 694.2 92.2 698.3 93.3C702.5 94.4 705.3 95.8 710 96.7C714.7 97.5 721.1 97.6 726.7 98.3C732.2 99 739.2 100.3 743.3 100.8C747.5 101.4 748.9 101 751.7 101.7C754.4 102.4 756.1 103.3 760 105C763.9 106.7 770.8 111.6 775 112C779.2 112.4 780.6 108.7 785 107.5C789.4 106.3 796.1 104.9 801.7 105C807.2 105.1 812.8 108.3 818.3 108.3C823.9 108.3 829.4 106.1 835 105C840.6 103.9 846.1 103.1 851.7 101.7C857.2 100.3 862.8 98.1 868.3 96.7C873.9 95.3 879.7 94.4 885 93.3C890.3 92.2 895.5 90.3 900 90C904.5 89.7 907 91.2 912 91.5C917 91.8 927 91.5 930 91.5L930 287.5C927 287.5 918.1 287.3 912 287.5C905.9 287.6 900.9 288.1 893.3 288.5C885.8 289 875.6 289.6 866.7 290.1C857.8 290.7 848.9 291 840 292C831.1 293 819.6 294.8 813.3 296C807.1 297.2 807.1 298.3 802.7 299.2C798.2 300.1 793.8 300.9 786.7 301.3C779.6 301.8 768.9 301.6 760 301.9C751.1 302.1 742.2 302.5 733.3 302.7C724.4 302.8 715.6 302.9 706.7 302.7C697.8 302.4 688.9 301.9 680 301.3C671.1 300.8 662.2 299.7 653.3 299.2C644.4 298.7 635.6 298.2 626.7 298.1C617.8 298 608.1 298.5 600 298.7C591.9 298.8 586.4 299.6 578.3 299.2C570.3 298.8 560.6 297.2 551.7 296.5C542.8 295.9 533.9 296 525 295.5C516.1 294.9 507.2 294.1 498.3 293.3C489.4 292.5 480.6 291.6 471.7 290.7C462.8 289.8 454.8 288.7 445 288C435.2 287.3 421.9 286.8 413 286.7C404.1 286.6 404.1 287 391.7 287.5C379.2 287.9 355.6 289.2 338.3 289.3C321.1 289.4 299.6 288.2 288.2 288C276.8 287.8 273 288 270 288Z" fill="#074e92" stroke="#000" stroke-width="0.6"/>
<path d="M270 110.6C273 110.6 284.2 110.3 288.1 110.6C292.1 110.9 291.1 112.3 293.8 112.5C296.4 112.7 300 112.2 303.8 111.9C307.5 111.6 312.1 110.7 316.2 110.6C320.4 110.5 325 110.6 328.8 111.2C332.5 111.9 336.2 113.2 338.8 114.4C341.2 115.5 342.6 116.8 343.8 118.1C344.9 119.5 344.6 121.6 345.6 122.5C346.7 123.4 348 123.7 350 123.8C352 123.8 355 122.5 357.5 122.8C360 123 362.5 124.2 365 125C367.5 125.8 370 126.2 372.5 127.5C375 128.8 377.9 130.9 380 132.5C382.1 134.1 383.3 135.7 385 136.9C386.7 138 389.1 138.5 390 139.4C390.9 140.2 391.5 141 390.6 141.9C389.8 142.7 387.2 143.9 385 144.4C382.8 144.9 380 145.3 377.5 145C375 144.7 372.1 143 370 142.5C367.9 142 366 141.5 365 141.9C364 142.3 364.6 143.9 363.8 145C362.9 146.1 361.5 147.3 360 148.8C358.5 150.2 356.1 152.5 355 153.8C353.9 155 352.3 154 353.1 156.2C353.9 158.5 357.7 164.6 359.7 167.3C361.6 170.1 363.2 171.6 365 172.7C366.8 173.8 369.2 174.4 370.3 174C371.4 173.6 370.3 171.6 371.7 170C373 168.4 375.4 166.1 378.3 164.7C381.2 163.2 386.3 161.6 389 161.3C391.7 161.1 392.8 163.2 394.3 163.3C395.9 163.4 396.6 162.4 398.3 162C400.1 161.6 403 161.6 405 160.7C407 159.8 409 158.2 410.3 156.7C411.7 155.1 412.2 152.4 413 151.3C413.8 150.2 412.5 150.4 415 150C417.5 149.6 424.7 148.4 428 148.7C431.3 148.9 432.2 150.6 434.7 151.3C437.1 152.1 440 152.8 442.7 153.3C445.3 153.9 448.4 154.4 450.7 154.7C452.9 154.9 454.2 155.2 456 154.7C457.8 154.1 459.6 152.8 461.3 151.3C463.1 149.9 464.7 147.6 466.7 146C468.7 144.4 471.1 143.1 473.3 142C475.6 140.9 477.8 140.2 480 139.3C482.2 138.4 484.4 137.6 486.7 136.7C488.9 135.8 491.8 134.9 493.3 134C494.9 133.1 493.8 132.6 496 131.3C498.2 130.1 502.7 127.8 506.7 126.7C510.7 125.6 516.7 124.9 520 124.7C523.3 124.4 526 124.6 526.7 125.3C527.3 126.1 525.1 128.1 524 129.3C522.9 130.6 519.3 132 520 132.7C520.7 133.3 525.8 133.7 528 133.3C530.2 133 531.1 131.4 533.3 130.7C535.6 129.9 539.1 128.7 541.3 128.7C543.6 128.7 546.3 130.4 546.7 130.7C547 130.9 541.1 130.2 543.3 130C545.6 129.8 553.1 130.1 560 129.7C566.9 129.3 576.7 128.1 585 127.5C593.3 126.9 601.7 126.5 610 125.8C618.3 125.1 628.1 124 635 123.3C641.9 122.7 647.5 122.3 651.7 122C655.8 121.7 656.5 121.4 660 121.2C663.5 121.1 668.3 121 672.5 121C676.7 121 682.3 121 685 121.5C687.7 122 687.5 121.9 688.8 123.8C690 125.6 691.7 129 692.5 132.5C693.3 136 692.9 141.7 693.8 145C694.6 148.3 695.2 150.4 697.5 152.5C699.8 154.6 704.6 156.9 707.5 157.5C710.4 158.1 713.1 157.5 715 156.2C716.9 155 716.7 151.7 718.8 150C720.8 148.3 725.2 147.9 727.5 146.2C729.8 144.6 731.8 142.3 732.5 140C733.2 137.7 732.9 134.7 731.9 132.5C730.8 130.3 728.4 128 726.2 126.9C724.1 125.7 721.2 125.3 718.8 125.6C716.2 125.9 712.9 127.4 711.2 128.8C709.6 130.1 709.6 132.5 708.8 133.8C707.9 135 707.5 136.2 706.2 136.2C705 136.2 702.3 135.4 701.2 133.8C700.2 132.1 700 128.5 700 126.2C700 124 702.1 121.9 701.2 120C700.4 118.1 696.9 116.9 695 115C693.1 113.1 690.6 110.2 690 108.8C689.4 107.3 690 106.2 691.2 106.2C692.5 106.2 695.2 107.8 697.5 108.8C699.8 109.7 702.9 111.6 705 111.9C707.1 112.2 708.1 110.1 710 110.6C711.9 111.1 713.8 113.5 716.2 115C718.8 116.5 721.9 118.4 725 119.4C728.1 120.3 731.2 120.5 735 120.6C738.8 120.7 743.3 120.2 747.5 120C751.7 119.8 755.8 119.4 760 119.4C764.2 119.4 768.3 119.9 772.5 120C776.7 120.1 780.8 119.7 785 120C789.2 120.3 795 121.2 797.5 121.9C800 122.5 797.9 123.7 800 124C802.1 124.3 805.8 123.7 810 123.5C814.2 123.3 820 123.2 825 123C830 122.8 835 122.5 840 122C845 121.5 850 120.8 855 120C860 119.2 865 118 870 117C875 116 880.8 114.8 885 114C889.2 113.2 892.5 112.5 895 112C897.5 111.5 897.2 111.2 900 111C902.8 110.8 907 110.6 912 110.5C917 110.4 927 110.5 930 110.5L930 275C927 275 917 274.9 912 275C907 275.1 904.5 275.4 900 275.5C895.5 275.6 890.3 275.9 885 275.8C879.7 275.8 873.9 275.4 868.3 275C862.8 274.6 857.2 273.8 851.7 273.3C846.1 272.9 840.6 272.5 835 272.5C829.4 272.5 823.3 272.9 818.3 273.3C813.3 273.8 808.3 273.6 805 275C801.7 276.4 800.8 279.4 798.3 281.7C795.8 283.9 791.9 288.1 790 288.3C788.1 288.6 786.9 285.6 786.7 283.3C786.4 281.1 787.5 277.8 788.3 275C789.2 272.2 790.6 269.2 791.7 266.7C792.8 264.2 793.6 262.2 795 260C796.4 257.8 799.4 255.6 800 253.3C800.6 251.1 799.4 248.9 798.3 246.7C797.2 244.4 795.6 241.7 793.3 240C791.1 238.3 788.1 237.1 785 236.7C781.9 236.3 777.5 236.7 775 237.5C772.5 238.3 770 239.6 770 241.7C770 243.8 773.3 246.9 775 250C776.7 253.1 779.4 256.4 780 260C780.6 263.6 780.3 268.8 778.3 271.7C776.4 274.6 772.8 276.2 768.3 277.5C763.9 278.8 757.2 279.2 751.7 279.7C746.1 280.1 740.6 280.1 735 280.3C729.4 280.5 723.9 280.7 718.3 280.8C712.8 281 707.2 281.2 701.7 281.3C696.1 281.5 689.2 281.5 685 281.7C680.8 281.9 682.2 282.4 676.7 282.5C671.1 282.6 661.4 282.6 651.7 282.5C641.9 282.4 626.7 282.1 618.3 282C610 281.9 607.2 281.6 601.7 281.7C596.1 281.8 590.6 282.4 585 282.5C579.4 282.6 573.9 282.8 568.3 282.5C562.8 282.2 555.8 281.5 551.7 280.8C547.5 280.1 546.1 279.6 543.3 278.3C540.6 277.1 537.8 275 535 273.3C532.2 271.7 529.4 269 526.7 268.3C523.9 267.6 522.5 268.1 518.3 269.2C514.2 270.3 507.2 273.9 501.7 275C496.1 276.1 489.2 275.8 485 275.8C480.8 275.8 482.2 275.3 476.7 275C471.1 274.7 461.4 274.2 451.7 274.2C441.9 274.2 429.4 274.7 418.3 275C407.2 275.3 393.3 275.6 385 275.8C376.7 276.1 373.9 276.4 368.3 276.7C362.8 276.9 357.2 277.5 351.7 277.5C346.1 277.5 339.2 277.1 335 276.7C330.8 276.2 329.4 275.8 326.7 275C323.9 274.2 322.5 271.9 318.3 271.7C314.2 271.4 306.7 272.8 301.7 273.3C296.6 273.9 293.3 274.7 288 275C282.7 275.3 273 275 270 275Z" fill="#0a8c3e" stroke="#000" stroke-width="0.6"/>
<path d="M270 172C273.1 172 283.6 171.7 288.3 172C293.1 172.3 294.4 173.3 298.3 174C302.2 174.7 307.2 175.4 311.7 176C316.1 176.6 320.6 177.3 325 177.6C329.4 177.9 334.8 178.1 338.3 177.7C341.9 177.4 344.1 176.3 346.3 175.3C348.6 174.4 350.2 173.1 351.7 172C353.1 170.9 354.1 169.7 355 168.7C355.9 167.7 356.2 166 357 166C357.8 166 358.6 167.3 359.7 168.7C360.8 170 362.3 172.7 363.7 174C365 175.3 366.1 176.3 367.7 176.7C369.2 177 370.8 176.7 373 176C375.2 175.3 378.3 173.5 381 172.7C383.7 171.8 386.6 171.8 389 171.1C391.4 170.3 393.4 169 395.7 168C397.9 167 400.3 166.2 402.3 165.3C404.3 164.4 406.1 163.7 407.7 162.7C409.2 161.7 410.4 160.6 411.7 159.3C412.9 158.1 412.8 156.9 415 155.3C417.2 153.8 421.8 150.4 425 150C428.2 149.6 431 151.9 434.3 152.7C437.7 153.4 441.4 154.2 445 154.7C448.6 155.2 452.6 155.6 455.7 155.6C458.8 155.6 461 155.5 463.7 154.7C466.3 153.8 469 151.9 471.7 150.7C474.3 149.4 476.6 148.2 479.7 147.3C482.8 146.4 487.2 145.8 490.3 145.3C493.4 144.9 495.7 144.8 498.3 144.7C501 144.6 504.1 144.9 506.3 144.7C508.6 144.4 509.7 143.8 511.7 143.3C513.7 142.9 516.1 142.9 518.3 142C520.6 141.1 522.8 139.1 525 138C527.2 136.9 530 135.4 531.7 135.3C533.3 135.2 531.7 137.2 535 137.5C538.3 137.8 546.1 137 551.7 137C557.2 137 562.8 137.3 568.3 137.5C573.9 137.7 579.7 138.5 585 138.3C590.3 138.2 594.2 136.9 600 136.5C605.8 136.1 613.3 136.3 620 136.2C626.7 136.1 634 135.9 640 135.8C646 135.7 651.8 135.4 656 135.5C660.2 135.6 662.3 135.9 665 136.5C667.7 137.1 669.8 137.9 672 139C674.2 140.1 676.3 141.5 678 143C679.7 144.5 680.7 146.2 682 148C683.3 149.8 684.7 152.2 686 154C687.3 155.8 688.3 157.5 690 159C691.7 160.5 693.7 162.1 696 163C698.3 163.9 701.3 164.2 704 164.5C706.7 164.8 709.3 164.8 712 164.5C714.7 164.2 717.8 164.2 720 163C722.2 161.8 723.3 159 725 157.5C726.7 156 728.3 153.8 730 153.8C731.7 153.8 734 157.5 735 157.5C736 157.5 735.8 155.8 736.2 153.8C736.7 151.7 737.1 147.9 737.5 145C737.9 142.1 738.3 138.5 738.8 136.2C739.2 134 738.5 132.1 740 131.2C741.5 130.4 744.2 131.1 747.5 131.2C750.8 131.4 755.8 131.7 760 131.9C764.2 132.1 768.3 132.2 772.5 132.5C776.7 132.8 780.8 133.6 785 133.8C789.2 133.9 791.7 133.3 797.5 133.1C803.3 132.9 812.9 132.7 820 132.5C827.1 132.3 833.3 132.1 840 132C846.7 131.9 855 131.8 860 132C865 132.2 867 132.2 870 133C873 133.8 876.2 135.3 878 137C879.8 138.7 880.8 141 881 143C881.2 145 880 146.8 879 149C878 151.2 876.3 153.7 875 156C873.7 158.3 871.8 160.8 871 163C870.2 165.2 869.8 167.2 870 169C870.2 170.8 870.7 172.8 872 174C873.3 175.2 875.8 175.9 878 176C880.2 176.1 883.3 175.2 885 174.5C886.7 173.8 886.8 172.8 888 172C889.2 171.2 890 170.4 892 170C894 169.6 896.7 169.5 900 169.5C903.3 169.5 907 169.9 912 170C917 170.1 927 170 930 170L930 260.6C928.5 260.6 924.3 260.5 921.2 260.6C918.2 260.7 914 261 911.9 261.2C909.8 261.5 910.3 261.5 908.8 261.9C907.2 262.3 905.6 263.2 902.5 263.8C899.4 264.3 894.2 264.8 890 265C885.8 265.2 881.7 265 877.5 265C873.3 265 869.2 265.1 865 265C860.8 264.9 856.7 264.5 852.5 264.4C848.3 264.3 844.2 264.2 840 264.4C835.8 264.6 830.8 265.5 827.5 265.6C824.2 265.7 822.5 265.1 820 265C817.5 264.9 815.8 268.6 812.5 265C809.2 261.4 803.5 248.6 800 243.3C796.5 238.1 794.2 235.4 791.7 233.3C789.2 231.2 788.9 231 785 230.8C781.1 230.7 772.2 231.2 768.3 232.5C764.4 233.8 762.5 236 761.7 238.3C760.8 240.7 763.6 243.6 763.3 246.7C763.1 249.7 761.9 253.9 760 256.7C758.1 259.4 755.8 261.8 751.7 263.3C747.5 264.9 740.6 265.3 735 265.8C729.4 266.4 723.9 266.5 718.3 266.7C712.8 266.8 707.2 266.7 701.7 266.7C696.1 266.7 689.2 266.7 685 266.7C680.8 266.7 682.2 266.7 676.7 266.7C671.1 266.6 661.4 266.4 651.7 266.3C641.9 266.2 626.7 266.1 618.3 266C610 265.9 607.2 265.6 601.7 265.5C596.1 265.4 589.9 265.5 585 265.6C580.1 265.8 576.7 266.4 572.5 266.2C568.3 266.1 562.9 265 560 265C557.1 265 556.5 265.5 555 266.2C553.5 267 552.7 269.2 551.2 269.4C549.8 269.6 547.5 268.9 546.2 267.5C545 266.1 545.2 263.5 543.8 261.2C542.3 259 539.8 255.7 537.5 253.8C535.2 251.8 532.5 250.1 530 249.4C527.5 248.6 525.4 248.9 522.5 249.4C519.6 249.9 515 250.9 512.5 252.5C510 254.1 509.6 257.1 507.5 258.8C505.4 260.4 502.5 261.7 500 262.5C497.5 263.3 494.4 264.4 492.5 263.8C490.6 263.1 490.4 260.2 488.8 258.8C487.1 257.3 485.2 255.6 482.5 255C479.8 254.4 476.2 254.8 472.5 255C468.8 255.2 464.2 255.6 460 256.2C455.8 256.9 451.7 258.1 447.5 258.8C443.3 259.4 439.2 259.7 435 260C430.8 260.3 426.7 260.3 422.5 260.6C418.3 260.9 414.2 261.4 410 261.9C405.8 262.4 401.7 263.1 397.5 263.8C393.3 264.4 389.2 265 385 265.6C380.8 266.2 376.7 267 372.5 267.5C368.3 268 364.2 268.3 360 268.5C355.8 268.7 351.7 268.8 347.5 268.5C343.3 268.2 338.8 267.6 335 266.9C331.2 266.1 327.1 265.1 325 264C322.9 262.9 323.5 261.7 322.5 260C321.5 258.3 320 256 318.8 253.8C317.5 251.5 316.1 248.5 315 246.2C313.9 244 313.3 241.7 311.9 240C310.4 238.3 308.6 237.2 306.2 236.2C303.9 235.2 299.9 234.2 297.5 234C295.1 233.8 293.1 234 291.9 235C290.6 236 290.5 237.1 290 240C289.5 242.9 289.2 249 288.8 252.5C288.3 256 290.4 259.8 287.2 261.2C284.1 262.7 272.9 261.2 270 261.2Z" fill="#32c010" stroke="#000" stroke-width="0.6"/>
<path d="M270 176.7C273.1 176.7 283.6 176.4 288.3 176.7C293.1 176.9 294.4 177.6 298.3 178.3C302.2 178.9 307.2 179.8 311.7 180.4C316.1 181 320.6 181.8 325 182C329.4 182.2 334.6 182 338.3 181.3C342.1 180.7 345 179.2 347.7 178C350.3 176.8 352.7 175.1 354.3 174C356 172.9 356.6 171.3 357.7 171.3C358.8 171.3 359.8 172.8 361 174C362.2 175.2 363.4 177.7 365 178.7C366.6 179.7 368.1 180.2 370.3 180C372.6 179.8 375.7 178.1 378.3 177.3C381 176.6 383.7 176.1 386.3 175.5C389 174.8 391.7 174.5 394.3 173.6C397 172.7 399.9 171.4 402.3 170.3C404.8 169.2 407.2 168.2 409 166.9C410.8 165.7 411.8 164.4 413 162.9C414.2 161.5 414.3 159.8 416.3 158.3C418.3 156.8 422 154.4 425 154C428 153.6 431 155.6 434.3 156C437.7 156.4 441.4 156.6 445 156.7C448.6 156.7 452.3 156.2 455.7 156.1C459 156 462.3 156.5 465 156C467.7 155.5 469.2 154.3 471.7 153.3C474.1 152.3 477.4 150.6 479.7 150C481.9 149.4 482.8 149.9 485 150C487.2 150.1 490.3 150.7 493 150.7C495.7 150.7 498.3 150.3 501 150C503.7 149.7 506.1 149.1 509 148.7C511.9 148.2 515.7 147.9 518.3 147.3C521 146.8 521.7 146.2 525 145.3C528.3 144.4 533.9 142.4 538.3 142C542.8 141.6 546.7 142.8 551.7 143C556.7 143.2 562.8 143 568.3 143.3C573.9 143.7 579.7 144.6 585 145C590.3 145.4 594.2 145.2 600 145.5C605.8 145.8 613.3 146.5 620 147C626.7 147.5 634 148 640 148.5C646 149 651.8 149.3 656 150C660.2 150.7 662.3 151.5 665 152.5C667.7 153.5 669.5 154.5 672 156C674.5 157.5 677.3 159.8 680 161.5C682.7 163.2 685.3 164.8 688 166C690.7 167.2 693.3 167.9 696 168.5C698.7 169.1 701.3 169.3 704 169.5C706.7 169.7 709.3 169.7 712 169.5C714.7 169.3 717 170.1 720 168.5C723 166.9 727.5 161.2 730 160C732.5 158.8 733.8 161.2 735 161.2C736.2 161.2 736.7 161.7 737.5 160C738.3 158.3 738.8 153.8 740 151.2C741.2 148.8 742.7 146.7 745 145C747.3 143.3 750.2 142.2 753.8 141.2C757.3 140.3 762.1 139.8 766.2 139.4C770.4 139 774.6 138.8 778.8 138.8C782.9 138.8 788.1 139.2 791.2 139.4C794.4 139.6 792.7 140.1 797.5 140C802.3 139.9 812.9 138.8 820 139C827.1 139.2 835 140.2 840 141C845 141.8 846.8 142.8 850 144C853.2 145.2 857.2 146.3 859 148C860.8 149.7 860.8 151.7 861 154C861.2 156.3 860 159.3 860 162C860 164.7 860.3 167.7 861 170C861.7 172.3 862.5 174.3 864 176C865.5 177.7 867.3 179.1 870 180C872.7 180.9 877.3 181.7 880 181.5C882.7 181.3 884.7 179.8 886 179C887.3 178.2 887.3 177.5 888 177C888.7 176.5 888 176.2 890 176C892 175.8 896.3 175.5 900 175.5C903.7 175.5 907 175.9 912 176C917 176.1 927 176 930 176L930 231.2C928.5 231.2 924.3 231 921.2 231.2C918.2 231.5 914 231.9 911.9 232.5C909.8 233.1 909.9 233.8 908.8 235C907.6 236.2 906 237.9 905 240C904 242.1 903.8 245.4 902.5 247.5C901.2 249.6 899.6 251.2 897.5 252.5C895.4 253.8 893.3 254.2 890 255C886.7 255.8 881.7 257.1 877.5 257.5C873.3 257.9 869.2 257.5 865 257.5C860.8 257.5 856.7 257.6 852.5 257.5C848.3 257.4 844.2 256.9 840 256.9C835.8 256.9 830 257 827.5 257.5C825 258 826.7 259.8 825 260C823.3 260.2 820.2 259 817.5 258.8C814.8 258.5 811.7 261.9 808.8 258.8C805.8 255.6 802.8 244.8 800 240C797.2 235.2 794.4 232.1 791.7 230C788.9 227.9 787.2 227.6 783.3 227.5C779.4 227.4 773.1 227.9 768.3 229.2C763.6 230.4 758.3 232.6 755 235C751.7 237.4 751.7 240.4 748.3 243.3C745 246.2 740 250.4 735 252.5C730 254.6 723.9 255 718.3 255.8C712.8 256.7 707.2 257.1 701.7 257.5C696.1 257.9 689.2 258.2 685 258.3C680.8 258.5 682.2 258.5 676.7 258.3C671.1 258.2 661.4 257.9 651.7 257.5C641.9 257.1 629.4 256 618.3 255.8C607.2 255.6 592.6 256.3 585 256.2C577.4 256.2 576.7 255.8 572.5 255.6C568.3 255.4 562.9 254.5 560 255C557.1 255.5 556.5 257.7 555 258.8C553.5 259.8 552.5 261.9 551.2 261.2C550 260.6 549.4 257.3 547.5 255C545.6 252.7 542.5 249.6 540 247.5C537.5 245.4 535.4 243.8 532.5 242.5C529.6 241.2 526.2 240.4 522.5 240C518.8 239.6 514.2 239.8 510 240C505.8 240.2 500.8 241.2 497.5 241.2C494.2 241.2 492.1 240.1 490 240C487.9 239.9 487.9 240.1 485 240.6C482.1 241.1 476.7 242.2 472.5 243.1C468.3 244.1 464.2 245.3 460 246.2C455.8 247.2 451.7 248 447.5 248.8C443.3 249.5 439.2 250.2 435 250.8C430.8 251.3 426.7 251.8 422.5 252.2C418.3 252.8 414.2 253.2 410 253.8C405.8 254.2 401.7 254.7 397.5 255.2C393.3 255.8 389.2 256.3 385 256.9C380.8 257.5 376.7 258.2 372.5 258.8C368.3 259.3 363.8 259.8 360 260.2C356.2 260.7 352.9 261.4 350 261.2C347.1 261.1 345 259.3 342.5 259.4C340 259.4 337.8 260.9 335 261.5C332.2 262.1 327.1 263.3 325.6 263.1C324.2 263 325.5 261.6 326.2 260.6C327 259.7 329.2 258.9 330 257.5C330.8 256.1 331.7 254.4 331.2 252.5C330.8 250.6 329 247.9 327.5 246.2C326 244.6 324.2 243.3 322.5 242.5C320.8 241.7 319.5 242.4 317.5 241.2C315.5 240.1 312.7 237.3 310.6 235.6C308.5 234 307.2 232.3 305 231.2C302.8 230.2 300.3 229.8 297.5 229.4C294.7 229 292.7 228.9 288.1 228.8C283.5 228.6 273 228.8 270 228.8Z" fill="#92e00c" stroke="#000" stroke-width="0.6"/>
<path d="M270 180.7C273.1 180.7 283.6 180.4 288.3 180.7C293.1 180.9 294.4 181.7 298.3 182.3C302.2 182.8 307.2 183.5 311.7 184C316.1 184.5 320.6 185 325 185.3C329.4 185.7 334.3 186.3 338.3 186C342.3 185.7 346.1 184.4 349 183.3C351.9 182.2 353.9 180.4 355.7 179.3C357.4 178.2 358.4 176.7 359.7 176.7C360.9 176.7 361.9 178.3 363 179.3C364.1 180.3 364.9 182 366.3 182.7C367.8 183.3 369.7 183.4 371.7 183.3C373.7 183.2 375.9 182.6 378.3 182C380.8 181.4 383.7 180.7 386.3 180C389 179.3 391.7 178.9 394.3 178C397 177.1 399.7 175.9 402.3 174.7C405 173.4 408.1 172.1 410.3 170.7C412.6 169.2 414.3 167.6 415.7 166C417 164.4 415.7 162.2 418.3 161.3C421 160.4 427.2 161.1 431.7 160.7C436.1 160.2 441 159.3 445 158.7C449 158 452.1 156.9 455.7 156.7C459.2 156.4 463.7 157.6 466.3 157.3C469 157.1 469.4 156.2 471.7 155.3C473.9 154.4 477.4 152.4 479.7 152C481.9 151.6 482.8 152.4 485 152.7C487.2 152.9 490.3 153 493 153.3C495.7 153.7 498.3 154.7 501 154.7C503.7 154.7 506.1 153.9 509 153.3C511.9 152.8 514.6 152.1 518.3 151.3C522.1 150.6 527.2 149.1 531.7 148.7C536.1 148.2 541.7 148.7 545 148.7C548.3 148.7 547.8 148.5 551.7 148.7C555.6 148.8 562.8 148.9 568.3 149.7C573.9 150.4 579.7 152.2 585 153.3C590.3 154.5 594.2 155.7 600 156.5C605.8 157.3 613.3 157.6 620 158C626.7 158.4 635 158.8 640 159C645 159.2 646.7 159.2 650 159.5C653.3 159.8 656.7 160.2 660 161C663.3 161.8 666.7 163.2 670 164.5C673.3 165.8 676.7 167.3 680 168.5C683.3 169.7 686.7 170.8 690 171.5C693.3 172.2 696.7 172.3 700 172.5C703.3 172.7 706.7 172.6 710 172.5C713.3 172.4 717.5 172.6 720 172C722.5 171.4 722.9 169.9 725 168.8C727.1 167.6 730 166 732.5 165C735 164 738.3 164.2 740 162.5C741.7 160.8 741.5 156.9 742.5 155C743.5 153.1 745 151.5 746.2 151.2C747.5 151 748.5 153.5 750 153.8C751.5 154 752.9 152.9 755 152.5C757.1 152.1 759.6 151.4 762.5 151.2C765.4 151.1 769.8 152.1 772.5 151.9C775.2 151.7 774.6 150.3 778.8 150C782.9 149.7 792.3 150.2 797.5 150C802.7 149.8 806.2 148.8 810 149C813.8 149.2 816.7 150 820 151C823.3 152 826.7 153.5 830 155C833.3 156.5 837.2 158.3 840 160C842.8 161.7 845.4 163 847 165C848.6 167 848.8 169.8 849.5 172C850.2 174.2 849.9 176.3 851 178C852.1 179.7 853.8 180.8 856 182C858.2 183.2 860.8 184.2 864 185C867.2 185.8 871.5 186.5 875 186.5C878.5 186.5 882.7 185.8 885 185C887.3 184.2 887.8 182.8 889 182C890.2 181.2 890.2 180.4 892 180C893.8 179.6 896.7 179.5 900 179.5C903.3 179.5 907 179.9 912 180C917 180.1 927 180 930 180L930 222.5C928.5 222.5 924.3 222.3 921.2 222.5C918.2 222.7 914 223.3 911.9 223.8C909.8 224.2 910.3 224.2 908.8 225C907.2 225.8 904.4 227.5 902.5 228.8C900.6 230 899.2 231 897.5 232.5C895.8 234 894.2 235.6 892.5 237.5C890.8 239.4 890 241.9 887.5 243.8C885 245.6 881.2 247.6 877.5 248.8C873.8 249.9 869.2 250.3 865 250.6C860.8 250.9 856.7 250.7 852.5 250.6C848.3 250.5 843.3 250.1 840 250C836.7 249.9 834.2 249.6 832.5 250.2C830.8 250.9 830.8 252.6 830 253.8C829.2 254.9 829 256.7 827.5 256.9C826 257.1 823.3 255.6 821.2 255C819.2 254.4 817.1 253.3 815 253.1C812.9 253 810.4 254 808.8 254C807.1 254 805.9 254.3 805 253.3C804.1 252.4 804.4 251.4 803.3 248.3C802.2 245.3 800.3 238.5 798.3 235C796.4 231.5 794.4 229.2 791.7 227.5C788.9 225.8 785.6 225.3 781.7 225C777.8 224.7 773.3 224.7 768.3 225.8C763.3 226.9 757.2 229.6 751.7 231.7C746.1 233.8 740.6 236.1 735 238.3C729.4 240.6 723.9 243.2 718.3 245C712.8 246.8 707.2 248.2 701.7 249.2C696.1 250.1 689.2 250.5 685 250.8C680.8 251.2 682.2 251.3 676.7 251.3C671.1 251.3 661.4 251.2 651.7 250.8C641.9 250.5 626.7 249.6 618.3 249.2C610 248.8 607.2 248.4 601.7 248.3C596.1 248.3 589.9 249.1 585 249C580.1 248.9 576.7 248.3 572.5 248C568.3 247.7 562.8 246.9 560 247.2C557.2 247.6 557 249 555.6 250C554.3 251 553.2 253.5 551.9 253.1C550.5 252.7 549.5 249.5 547.5 247.5C545.5 245.5 542.5 243 540 241.2C537.5 239.5 535.4 237.9 532.5 236.9C529.6 235.8 526.2 235.1 522.5 235C518.8 234.9 513.3 235.8 510 236.2C506.7 236.7 504.6 237.5 502.5 237.5C500.4 237.5 500.4 236.6 497.5 236.2C494.6 235.9 489.2 235.4 485 235.6C480.8 235.8 476.7 236.8 472.5 237.5C468.3 238.2 464.2 239.3 460 240C455.8 240.7 451.7 241.2 447.5 241.9C443.3 242.5 439.2 243.4 435 244C430.8 244.6 426.7 244.8 422.5 245.2C418.3 245.7 414.2 246.1 410 246.5C405.8 246.9 402.5 247.2 397.5 247.8C392.5 248.3 384.6 249.2 380 249.6C375.4 250 372.9 250.5 370 250.2C367.1 250 364.9 249 362.5 248.1C360.1 247.2 357.3 245.6 355.6 244.8C354 243.9 353.4 242.5 352.5 243.1C351.6 243.8 350.9 246.8 350 248.8C349.1 250.7 348 253.2 346.9 255C345.7 256.8 344.3 259.2 343.1 259.4C342 259.6 340.9 257.8 340 256.2C339.1 254.7 338.3 252.1 337.5 250C336.7 247.9 336.2 245.6 335 243.8C333.8 241.9 332.1 240 330 238.8C327.9 237.5 325 236.5 322.5 236C320 235.5 317 236.6 315 235.6C313 234.6 312.2 231.8 310.6 230C309.1 228.2 307.8 226.2 305.6 225C303.4 223.8 300.4 223 297.5 222.5C294.6 222 292.7 222 288.1 221.9C283.5 221.8 273 221.9 270 221.9Z" fill="#f0f800" stroke="#000" stroke-width="0.6"/>
<path d="M270 184C273.1 184 283.6 183.8 288.3 184C293.1 184.2 294.4 184.8 298.3 185.3C302.2 185.9 307.2 186.8 311.7 187.3C316.1 187.9 320.6 188.2 325 188.7C329.4 189.1 335.2 189.1 338.3 190C341.4 190.9 342.3 192.4 343.7 194C345 195.6 345.3 198 346.3 199.3C347.3 200.7 348.4 202.2 349.7 202C350.9 201.8 353.3 199.8 353.7 198C354 196.2 351.8 193.1 351.7 191.3C351.6 189.6 351.7 187.8 353 187.3C354.3 186.9 357.9 188 359.7 188.7C361.4 189.3 362.3 191.8 363.7 191.3C365 190.9 365.2 187 367.7 186C370.1 185 375.2 185.7 378.3 185.3C381.4 185 383.7 184.5 386.3 184C389 183.5 391.7 183 394.3 182.3C397 181.5 399.7 180.5 402.3 179.3C405 178.2 407.9 176.8 410.3 175.3C412.8 173.9 415.4 172 417 170.7C418.6 169.3 417.2 167.9 419.7 167.3C422.1 166.8 427.4 168.1 431.7 167.3C435.9 166.6 441 164.2 445 162.7C449 161.1 451.9 158.7 455.7 158C459.4 157.3 464.6 158.8 467.7 158.7C470.8 158.6 472.3 158 474.3 157.3C476.3 156.7 477.4 154.9 479.7 154.7C481.9 154.4 485 155.7 487.7 156C490.3 156.3 493.2 156.3 495.7 156.7C498.1 157 499.7 157.8 502.3 158C505 158.2 507.9 158.1 511.7 158C515.4 157.9 520.6 157.6 525 157.3C529.4 157.1 533.9 156.6 538.3 156.7C542.8 156.7 546.7 156.8 551.7 157.5C556.7 158.2 562.8 159.3 568.3 160.8C573.9 162.4 579.7 165.9 585 166.7C590.3 167.4 595 165.4 600 165.5C605 165.6 610 166.6 615 167C620 167.4 626.3 168 630 168C633.7 168 634.8 166.9 637 167C639.2 167.1 640.8 168 643 168.5C645.2 169 647.2 169.5 650 170C652.8 170.5 656.7 171 660 171.5C663.3 172 666.7 172.6 670 173C673.3 173.4 676.7 173.7 680 174C683.3 174.3 686.7 174.6 690 174.8C693.3 175 695 175.2 700 175.2C705 175.2 715.8 175.6 720 175C724.2 174.4 722.9 172.9 725 171.9C727.1 170.8 730 169.5 732.5 168.8C735 168 737.9 168.5 740 167.5C742.1 166.5 743.3 163.5 745 162.5C746.7 161.5 747.5 161.2 750 161.2C752.5 161.2 756.2 162.5 760 162.5C763.8 162.5 769.4 161.9 772.5 161.2C775.6 160.6 776.7 159 778.8 158.8C780.8 158.5 781.9 159.6 785 160C788.1 160.4 793.3 160.6 797.5 161.2C801.7 161.9 806.2 163 810 164C813.8 165 816.7 165.8 820 167C823.3 168.2 827.8 170 830 171C832.2 172 831 171.3 833 173C835 174.7 839.2 179 842 181C844.8 183 847 183.8 850 185C853 186.2 856.7 187.2 860 188C863.3 188.8 866.7 189.2 870 189.5C873.3 189.8 877.2 189.8 880 189.5C882.8 189.2 885.2 188.8 887 188C888.8 187.2 889.7 185.8 891 185C892.3 184.2 891.5 183.8 895 183.5C898.5 183.2 906.2 183.1 912 183C917.8 182.9 927 183 930 183L930 217.5C928.5 217.5 924.3 217.4 921.2 217.5C918.2 217.6 914.6 217.8 911.9 218.1C909.2 218.4 907.4 218.9 905 219.4C902.6 219.9 900 220.5 897.5 221.2C895 222 892.3 222.7 890 223.8C887.7 224.8 885.8 226 883.8 227.5C881.7 229 879.4 230.8 877.5 232.5C875.6 234.2 874.6 236 872.5 237.5C870.4 239 867.9 240.6 865 241.2C862.1 241.9 858.1 241.2 855 241.2C851.9 241.3 848.8 240.9 846.2 241.6C843.8 242.4 842.2 244.2 840 245.6C837.8 247.1 835.2 249.1 833.1 250.2C831 251.4 829.5 252.4 827.5 252.5C825.5 252.6 823.3 251.2 821.2 250.6C819.2 250 817.1 249.1 815 249C812.9 248.9 810.4 250.1 808.8 250C807.1 249.9 806.2 249.4 805 248.3C803.8 247.2 803.1 245.8 801.7 243.3C800.3 240.8 798.9 236.2 796.7 233.3C794.4 230.4 791.1 227.6 788.3 225.8C785.6 224 783.3 223.2 780 222.5C776.7 221.8 773.1 221.4 768.3 221.7C763.6 221.9 757.2 223.1 751.7 224.2C746.1 225.3 740.6 226.8 735 228.3C729.4 229.9 723.9 231.7 718.3 233.3C712.8 235 707.2 236.7 701.7 238.3C696.1 240 689.2 242.4 685 243.3C680.8 244.3 682.2 244 676.7 244.2C671.1 244.3 661.4 244.3 651.7 244.2C641.9 244 626.7 243.6 618.3 243.3C610 243.1 607.2 242.8 601.7 242.5C596.1 242.2 589.9 242 585 241.8C580.1 241.5 576.7 241.4 572.5 241.2C568.3 241.1 563.1 240.9 560 240.8C556.9 240.6 555.8 240.6 553.8 240.2C551.7 239.9 549.6 239.4 547.5 238.8C545.4 238.1 543.3 236.9 541.2 236.2C539.2 235.6 537.3 235.8 535 235C532.7 234.2 529.6 232.1 527.5 231.2C525.4 230.4 525.4 229.9 522.5 230C519.6 230.1 513.3 231.2 510 231.9C506.7 232.5 504.6 233.8 502.5 233.8C500.4 233.8 500.4 232.4 497.5 231.9C494.6 231.4 489.2 230.7 485 230.6C480.8 230.5 476.7 230.8 472.5 231.2C468.3 231.7 464.2 232.5 460 233.1C455.8 233.8 451.7 234.3 447.5 235C443.3 235.7 439.2 237.1 435 237.5C430.8 237.9 426.7 237.4 422.5 237.5C418.3 237.6 414.2 237.9 410 238.1C405.8 238.3 401.7 238.6 397.5 238.8C393.3 238.9 387.9 238.5 385 239C382.1 239.5 382.1 240.1 380 241.9C377.9 243.6 374.6 248.6 372.5 249.4C370.4 250.1 368.8 247.8 367.5 246.2C366.2 244.7 366.2 241.8 365 240.2C363.8 238.7 361.7 237.5 360 237.1C358.3 236.8 356.7 236.4 355 238.1C353.3 239.9 351.5 244.8 350 247.5C348.5 250.2 347.3 254 346.2 254.4C345.2 254.8 344.6 251.8 343.8 250C342.9 248.2 342.1 245.8 341.2 243.8C340.4 241.7 340.2 239.4 338.8 237.5C337.3 235.6 335.2 233.5 332.5 232.5C329.8 231.5 325.5 231.2 322.5 231.2C319.5 231.2 316.3 233.3 314.4 232.5C312.5 231.7 312.4 228.2 311 226.2C309.6 224.3 308.5 222 306.2 220.6C304 219.3 300.5 218.6 297.5 218.1C294.5 217.6 292.7 217.6 288.1 217.5C283.5 217.4 273 217.5 270 217.5Z" fill="#ffb400" stroke="#000" stroke-width="0.6"/>
<path d="M270 186.7C273.1 186.7 283.6 186.5 288.3 186.7C293.1 186.8 294.4 187.2 298.3 187.6C302.2 188 307.2 188.8 311.7 189.3C316.1 189.9 321 190.4 325 191.1C329 191.7 332.8 192.4 335.7 193.3C338.6 194.3 340.8 195.2 342.3 196.7C343.9 198.1 343.9 200.7 345 202C346.1 203.3 347.7 204.6 349 204.7C350.3 204.8 352.1 203.8 353 202.7C353.9 201.6 354.6 199.7 354.3 198C354.1 196.3 351.7 194.2 351.7 192.7C351.7 191.1 353 189 354.3 188.7C355.7 188.3 358.1 189.9 359.7 190.7C361.2 191.4 362.3 193.6 363.7 193.3C365 193.1 366.1 190.4 367.7 189.3C369.2 188.2 371.2 187 373 186.7C374.8 186.3 377 186.8 378.3 187.3C379.7 187.9 379.7 189.6 381 190C382.3 190.4 384.1 190.2 386.3 189.7C388.6 189.3 391.7 188.3 394.3 187.3C397 186.4 399.7 185.1 402.3 184C405 182.9 407.9 181.8 410.3 180.7C412.8 179.6 415.4 178.1 417 177.3C418.6 176.6 417.2 177.2 419.7 176C422.1 174.8 427.4 172.1 431.7 170C435.9 167.9 441 165.3 445 163.3C449 161.3 451.7 158.6 455.7 158C459.7 157.4 465.4 159.7 469 160C472.6 160.3 474.3 160.2 477 160C479.7 159.8 481.9 158.7 485 158.7C488.1 158.7 492.8 159.3 495.7 160C498.6 160.7 499.7 162.1 502.3 162.7C505 163.2 507.9 163.2 511.7 163.3C515.4 163.4 520.6 163.3 525 163.3C529.4 163.3 533.9 163 538.3 163.3C542.8 163.7 548.1 164.5 551.7 165.3C555.3 166.2 557.2 167.3 560 168.3C562.8 169.4 564.2 170.4 568.3 171.7C572.5 172.9 579.7 175 585 175.8C590.3 176.6 594.2 176.3 600 176.5C605.8 176.7 613.3 176.8 620 177C626.7 177.2 633.3 177.4 640 177.5C646.7 177.6 653.3 177.7 660 177.8C666.7 177.9 673.3 177.9 680 178C686.7 178.1 693.3 178.2 700 178.2C706.7 178.2 715.8 178.2 720 178C724.2 177.8 723.3 177.4 725 176.9C726.7 176.4 728.3 176.1 730 175C731.7 173.9 733.1 171 735 170C736.9 169 739.2 169.4 741.2 168.8C743.3 168.1 745.6 166 747.5 166.2C749.4 166.5 750.4 169.6 752.5 170C754.6 170.4 757.3 169.6 760 168.8C762.7 167.9 765.6 166 768.8 165C771.9 164 775 162.3 778.8 162.5C782.5 162.7 788.1 165 791.2 166.2C794.4 167.5 794.4 167.7 797.5 170C800.6 172.3 806.2 178 810 180C813.8 182 816.7 181.2 820 182C823.3 182.8 826.7 184 830 185C833.3 186 836.7 187.1 840 188C843.3 188.9 846.7 189.8 850 190.5C853.3 191.2 856.7 191.6 860 192C863.3 192.4 866.7 192.8 870 193C873.3 193.2 877 193.3 880 193C883 192.7 886 191.8 888 191C890 190.2 890.7 188.8 892 188C893.3 187.2 892.7 186.8 896 186.5C899.3 186.2 906.3 186.1 912 186C917.7 185.9 927 186 930 186L930 214C928.5 214 924.3 213.9 921.2 214C918.2 214.1 916 214.1 911.9 214.4C907.7 214.6 900.9 215.1 896.2 215.6C891.6 216.1 887.9 216.8 883.8 217.5C879.6 218.2 875.2 219.2 871.2 220C867.3 220.8 863 221.9 860 222.5C857 223.1 854.6 222.9 853.1 223.8C851.7 224.6 852.1 225.6 851.2 227.5C850.4 229.4 849.1 232.6 848.1 235C847.2 237.4 847 240.5 845.6 241.9C844.3 243.2 842.2 243.2 840 243.1C837.8 243.1 835 241.6 832.5 241.5C830 241.4 827.9 242.2 825 242.5C822.1 242.8 818.3 243.3 815 243.1C811.7 243 807.2 242.5 805 241.7C802.8 240.9 803.6 240 801.7 238.3C799.7 236.7 796.1 233.9 793.3 231.7C790.6 229.4 787.5 227.1 785 225C782.5 222.9 781.1 220.4 778.3 219.2C775.6 217.9 772.8 217.9 768.3 217.5C763.9 217.1 757.2 216.5 751.7 216.7C746.1 216.8 740.6 217.5 735 218.3C729.4 219.2 723.9 220.3 718.3 221.7C712.8 223.1 707.2 224.7 701.7 226.7C696.1 228.6 689.2 231.9 685 233.3C680.8 234.7 679.4 234.3 676.7 235C673.9 235.7 672.5 236.9 668.3 237.5C664.2 238.1 657.2 238.2 651.7 238.3C646.1 238.4 640.6 238.1 635 238C629.4 237.9 623.9 237.7 618.3 237.5C612.8 237.3 607.2 237.4 601.7 237C596.1 236.6 589.9 235.8 585 235.4C580.1 235 576.7 235 572.5 234.8C568.3 234.5 563.1 234 560 233.8C556.9 233.5 556.2 233.5 553.8 233.5C551.2 233.5 547 234.5 545 233.8C543 233 543 230.4 541.9 228.8C540.7 227.1 539.3 223.1 538.1 223.8C537 224.4 536.4 232.2 535 232.8C533.6 233.3 532.1 228.1 530 226.9C527.9 225.7 525.4 225.4 522.5 225.6C519.6 225.8 515.4 227.5 512.5 228.1C509.6 228.8 507.5 229.6 505 229.4C502.5 229.2 500.8 227.5 497.5 226.9C494.2 226.2 489.2 225.7 485 225.6C480.8 225.5 476.7 226 472.5 226.2C468.3 226.5 464.2 226.8 460 227.2C455.8 227.7 451.7 228.3 447.5 228.8C443.3 229.2 439.2 229.7 435 230C430.8 230.3 426.7 230.3 422.5 230.4C418.3 230.5 414.2 230.5 410 230.6C405.8 230.8 401.7 231.1 397.5 231.2C393.3 231.4 387.9 231.4 385 231.2C382.1 231.1 381.1 229.6 380 230.6C378.9 231.7 379 234.9 378.1 237.5C377.3 240.1 376.4 244.4 375 246.2C373.6 248.1 371.4 249.6 370 248.8C368.6 247.9 367.7 243.6 366.9 241.2C366 238.9 366.1 236.1 365 234.4C363.9 232.6 362.1 231 360 230.6C357.9 230.2 355 231.6 352.5 231.9C350 232.2 347.1 233 345 232.5C342.9 232 341.7 230 340 228.8C338.3 227.5 337.9 225.4 335 225C332.1 224.6 326 225.5 322.5 226.2C319 227 315.6 229.9 313.8 229.4C311.9 228.9 312.8 225.1 311.5 223.1C310.2 221.1 308.6 218.9 306.2 217.5C303.9 216.1 300.5 215.5 297.5 215C294.5 214.5 292.7 214.5 288.1 214.4C283.5 214.3 273 214.4 270 214.4Z" fill="#ff6000" stroke="#000" stroke-width="0.6"/>
<path d="M848 196.8C848.3 196 851.3 195.4 855 195C858.7 194.6 865.8 194.6 870 194.5C874.2 194.4 876.7 194.9 880 194.5C883.3 194.1 887.8 192.8 890 192C892.2 191.2 891.3 190.1 893 189.5C894.7 188.9 896.8 188.7 900 188.5C903.2 188.3 907 188.4 912 188.5C917 188.6 927 185.4 930 189C933 192.6 933 206.5 930 210C927 213.5 918.7 209.8 912 210C905.3 210.2 897 210.7 890 211C883 211.3 875.3 212.2 870 212C864.7 211.8 860.3 211.2 858 210C855.7 208.8 856.8 206.7 856 205C855.2 203.3 854.3 201.4 853 200C851.7 198.6 847.7 197.6 848 196.8Z" fill="#ff0000" stroke="#000" stroke-width="0.6"/>
<path d="M271.7 188.3C274.4 184.6 283.3 188.4 288.3 188.7C293.3 188.9 296.7 189.2 301.7 189.7C306.7 190.2 313.3 191.1 318.3 191.7C323.3 192.3 328.1 192.6 331.7 193.3C335.3 194 337.8 194.7 340 195.8C342.2 196.9 343.8 198.9 345 200C346.2 201.1 347.2 201.4 347.5 202.5C347.8 203.6 347.4 205.4 346.7 206.7C346 207.9 344 208.6 343.3 210C342.6 211.4 343.1 213.8 342.5 215C341.9 216.2 341.2 216.8 340 217.5C338.8 218.2 337.2 218.3 335 219.2C332.8 220 329.4 221.2 326.7 222.5C323.9 223.8 320.6 225.7 318.3 226.7C316.1 227.6 314.3 228.6 313.3 228.3C312.4 228.1 312.5 226.1 312.5 225C312.5 223.9 313.5 223.1 313.3 221.7C313.2 220.3 313.6 218.2 311.7 216.7C309.7 215.1 305.6 213.5 301.7 212.5C297.8 211.5 293.3 211.1 288.3 210.8C283.3 210.6 274.4 214.6 271.7 210.8C268.9 207.1 268.9 192 271.7 188.3Z" fill="#ff0000" stroke="#000" stroke-width="0.6"/>
<path d="M367.5 195.8C368.5 196.1 369.9 196.8 369.2 198.3C368.5 199.9 364.9 203.1 363.3 205C361.8 206.9 360.8 208.1 360 210C359.2 211.9 358.3 214.4 358.3 216.7C358.3 218.9 360 221.4 360 223.3C360 225.3 359.4 227.4 358.3 228.3C357.2 229.3 354.9 229.6 353.3 229.2C351.8 228.8 350 227.6 349.2 225.8C348.3 224 347.9 220.7 348.3 218.3C348.8 216 350.6 213.9 351.7 211.7C352.8 209.4 353.9 206.9 355 205C356.1 203.1 356.9 201.4 358.3 200C359.7 198.6 361.8 197.4 363.3 196.7C364.9 196 366.5 195.6 367.5 195.8Z" fill="#ff0000" stroke="#000" stroke-width="0.6"/>
<path d="M371.7 211.7C371.7 209.2 372.8 205.8 375 203.3C377.2 200.8 380.6 198.3 385 196.7C389.4 195 396.7 194.3 401.7 193.3C406.7 192.4 413.1 191.8 415 190.8C416.9 189.8 412.2 188.6 413 187.3C413.8 186.1 418.1 184.7 419.7 183.3C421.2 182 421.4 179.3 422.3 179.3C423.2 179.3 424.3 181.8 425 183.3C425.7 184.9 425.4 187.2 426.3 188.7C427.2 190.1 429 192 430.3 192C431.7 192 433 189.7 434.3 188.7C435.7 187.7 436.6 187 438.3 186C440.1 185 441.8 183.8 445 182.8C448.2 181.8 455 181.7 457.5 180C460.1 178.3 459.3 174.6 460.3 172.7C461.4 170.8 462.4 169.1 463.7 168.7C464.9 168.2 465.9 170 467.7 170C469.4 170 472.8 169.1 474.3 168.7C475.9 168.2 476.1 167.1 477 167.3C477.9 167.6 478.3 168.9 479.7 170C481 171.1 483 173 485 174C487 175 489.4 176.4 491.7 176C493.9 175.6 496.3 172.3 498.3 171.3C500.3 170.3 501.4 169.8 503.7 170C505.9 170.2 508.1 172 511.7 172.7C515.2 173.3 521.7 173.1 525 174C528.3 174.9 529.4 176.9 531.7 178C533.9 179.1 535 179.9 538.3 180.7C541.7 181.4 549.4 182.2 551.7 182.7C553.9 183.1 548.9 183.1 551.7 183.3C554.4 183.6 562.8 183.9 568.3 184.2C573.9 184.4 579.4 184.6 585 184.7C590.6 184.8 596.1 184.8 601.7 184.7C607.2 184.6 612.8 184.4 618.3 184.2C623.9 183.9 629.4 183.6 635 183.3C640.6 183.1 646.1 182.6 651.7 182.5C657.2 182.4 662.8 182.5 668.3 182.5C673.9 182.5 676.7 182.4 685 182.5C693.3 182.6 710 183 718.3 183.3C726.7 183.7 729.4 184.4 735 184.7C740.6 184.9 748.1 185.5 751.7 185C755.3 184.5 756.7 182.8 756.7 181.7C756.7 180.6 753.9 179.7 751.7 178.3C749.4 176.9 745.8 174.9 743.3 173.3C740.8 171.8 738.3 170.3 736.7 169.2C735 168.1 732.8 166.8 733.3 166.7C733.9 166.5 737.5 167.4 740 168.3C742.5 169.3 745.6 171.4 748.3 172.5C751.1 173.6 754.2 174.3 756.7 175C759.2 175.7 760.3 175.6 763.3 176.7C766.4 177.8 771.4 180.3 775 181.7C778.6 183.1 781.9 184.7 785 185C788.1 185.3 790.6 183.4 793.3 183.3C796.1 183.3 799.2 184.2 801.7 184.7C804.2 185.1 805.8 184.7 808.3 185.8C810.8 187 814.2 189.6 816.7 191.7C819.2 193.8 821.4 196.2 823.3 198.3C825.3 200.4 826.4 202.8 828.3 204.2C830.3 205.6 832.2 205.8 835 206.7C837.8 207.5 842.2 208.2 845 209.2C847.8 210.1 850 211.2 851.7 212.5C853.3 213.8 854.7 215.1 855 216.7C855.3 218.2 854.4 220 853.3 221.7C852.2 223.3 850 225.3 848.3 226.7C846.7 228.1 843.9 230.6 843.3 230C842.8 229.4 845.3 225.6 845 223.3C844.7 221.1 843.3 217.5 841.7 216.7C840 215.8 836.9 217.5 835 218.3C833.1 219.2 831.4 220.3 830 221.7C828.6 223.1 828.6 225 826.7 226.7C824.7 228.3 821.4 230.1 818.3 231.7C815.3 233.2 811.1 235.6 808.3 235.8C805.6 236.1 804.4 234.6 801.7 233.3C798.9 232.1 794.4 230 791.7 228.3C788.9 226.7 787.2 225 785 223.3C782.8 221.7 780 220 778.3 218.3C776.7 216.7 777.5 215.3 775 213.3C772.5 211.4 767.2 208.6 763.3 206.7C759.4 204.7 756.4 203.2 751.7 201.7C746.9 200.1 740.6 198.5 735 197.5C729.4 196.5 723.9 196.2 718.3 195.8C712.8 195.5 707.2 195.5 701.7 195.3C696.1 195.2 690.6 195 685 195C679.4 195 673.9 195.2 668.3 195.3C662.8 195.5 657.2 195.7 651.7 195.8C646.1 196 640.6 196.1 635 196.3C629.4 196.5 623.9 196.7 618.3 197C612.8 197.3 607.2 197.6 601.7 198C596.1 198.4 590.6 198.7 585 199.2C579.4 199.6 573.1 200.1 568.3 200.8C563.6 201.5 556.7 202.5 556.7 203.3C556.7 204.2 563.6 205 568.3 205.8C573.1 206.7 579.4 207.7 585 208.3C590.6 208.9 596.1 209.2 601.7 209.5C607.2 209.8 612.8 210.1 618.3 210.3C623.9 210.6 629.4 210.8 635 211C640.6 211.2 646.1 211.3 651.7 211.7C657.2 212 663.1 212.6 668.3 213C673.6 213.4 681.9 213.4 683.3 214.3C684.7 215.2 679.2 217.1 676.7 218.3C674.2 219.6 671.1 220.3 668.3 221.7C665.6 223.1 662.8 225.1 660 226.7C657.2 228.2 655.8 229.9 651.7 230.8C647.5 231.8 640.6 232.2 635 232.5C629.4 232.8 623.9 232.6 618.3 232.5C612.8 232.4 607.2 232.3 601.7 232C596.1 231.7 590.6 231.4 585 230.8C579.4 230.2 573.9 229.4 568.3 228.3C562.8 227.2 556.4 225.3 551.7 224.2C546.9 223.1 543.9 221.9 540 221.7C536.1 221.4 531.9 222.6 528.3 222.5C524.7 222.4 522.8 221.5 518.3 220.8C513.9 220.1 507.2 218.9 501.7 218.3C496.1 217.8 490.6 217.2 485 217.5C479.4 217.8 473.9 219.2 468.3 220C462.8 220.8 457.2 221.9 451.7 222.5C446.1 223.1 440.6 223.1 435 223.3C429.4 223.6 423.9 224 418.3 224.2C412.8 224.3 407.2 224.4 401.7 224.2C396.1 223.9 389.4 223.5 385 222.5C380.6 221.5 377.2 220.1 375 218.3C372.8 216.5 371.7 214.2 371.7 211.7Z" fill="#ff0000" stroke="#000" stroke-width="0.6"/>
<path d="M367.5 246.2C368 244.4 370 240.6 371.2 237.5C372.5 234.4 373.9 229.6 375 227.5C376.1 225.4 377.4 224.6 378.1 225C378.9 225.4 379.5 227.9 379.4 230C379.3 232.1 378.2 235 377.5 237.5C376.8 240 376 243 375 245C374 247 372.4 248.8 371.2 249.4C370.1 250 368.8 249.3 368.1 248.8C367.5 248.2 367 248.1 367.5 246.2Z" fill="#ff6000" stroke="#000" stroke-width="0.6"/>
<path d="M375.2 228.1C375.6 227.5 377 226.6 377.5 226.9C378 227.1 378.6 229 378.5 229.8C378.4 230.5 377.4 231.4 376.9 231.5C376.3 231.6 375.5 231.2 375.2 230.6C375 230.1 374.9 228.8 375.2 228.1Z" fill="#ff0000" stroke="#000" stroke-width="0.6"/>
<path d="M372.5 236C372.9 235.6 373.9 235 374.4 235.2C374.8 235.5 375.4 236.7 375.2 237.2C375.1 237.8 374.2 238.4 373.8 238.5C373.2 238.6 372.5 238.2 372.2 237.8C372 237.3 372.1 236.4 372.5 236Z" fill="#ff0000" stroke="#000" stroke-width="0.6"/>
<path d="M345.2 233.8C345.7 233.2 346.8 232.6 347.5 232.8C348.2 232.9 349.4 233.7 349.8 234.4C350.1 235.1 349.9 236.3 349.4 236.9C348.9 237.4 347.6 237.9 346.9 237.8C346.1 237.6 345.3 236.9 345 236.2C344.7 235.6 344.8 234.3 345.2 233.8Z" fill="#ff6000" stroke="#000" stroke-width="0.6"/>
<path d="M453 158.7C453.8 157.5 456.5 157.2 457.7 157.7C458.8 158.3 459.7 160.4 459.9 162C460.2 163.6 459.7 166.2 459 167.3C458.3 168.5 456.7 169.4 455.7 168.9C454.6 168.5 453.2 166.4 452.7 164.7C452.3 163 452.2 159.8 453 158.7Z" fill="#ff0000" stroke="#000" stroke-width="0.6"/>
<path d="M578.3 204.2C578.3 203.3 586.7 202.4 593.3 201.7C600 201 608.6 200.5 618.3 200C628.1 199.5 641.9 199 651.7 198.7C661.4 198.4 671.1 198.4 676.7 198.2C682.2 197.9 680.8 197.1 685 197C689.2 196.9 696.1 197.2 701.7 197.5C707.2 197.8 712.8 198 718.3 198.7C723.9 199.4 730.1 200.2 735 201.7C739.9 203.1 747.5 206.1 747.5 207.5C747.5 208.9 739.9 209.5 735 210C730.1 210.5 723.9 210.3 718.3 210.3C712.8 210.3 707.2 210.1 701.7 210C696.1 209.9 689.2 210 685 210C680.8 210 682.2 210.1 676.7 210C671.1 209.9 661.4 209.6 651.7 209.3C641.9 209.1 628.1 208.8 618.3 208.3C608.6 207.9 600 207.4 593.3 206.7C586.7 206 578.3 205 578.3 204.2Z" fill="#ffb400" stroke="#000" stroke-width="0.6"/>
<path d="M601.7 204.7C601.7 204 610 203.1 618.3 202.5C626.7 201.9 641.9 201.2 651.7 200.8C661.4 200.4 671.1 200.4 676.7 200.2C682.2 199.9 680.8 199.2 685 199.2C689.2 199.1 696.1 199.6 701.7 200C707.2 200.4 713.3 200.8 718.3 201.7C723.3 202.5 731.7 204 731.7 205C731.7 206 723.3 206.9 718.3 207.5C713.3 208.1 707.2 208.2 701.7 208.3C696.1 208.5 689.2 208.3 685 208.3C680.8 208.3 682.2 208.4 676.7 208.3C671.1 208.2 661.4 208.1 651.7 207.8C641.9 207.6 626.7 207.2 618.3 206.7C610 206.1 601.7 205.4 601.7 204.7Z" fill="#f0f800" stroke="#000" stroke-width="0.6"/>
<path d="M631.7 204.7C631.7 204 644.2 203 651.7 202.5C659.2 202 671.1 201.9 676.7 201.7C682.2 201.4 680.8 200.8 685 200.8C689.2 200.8 696.8 201.1 701.7 201.7C706.5 202.2 714.2 203.3 714.2 204.2C714.2 205 706.5 206.2 701.7 206.7C696.8 207.2 689.2 207.1 685 207.2C680.8 207.2 682.2 207.2 676.7 207.2C671.1 207.1 659.2 207.1 651.7 206.7C644.2 206.2 631.7 205.4 631.7 204.7Z" fill="#92e00c" stroke="#000" stroke-width="0.6"/>
<path d="M290.6 158.1C291.7 157.4 294.3 156.6 297.5 156.9C300.7 157.2 305.8 159.3 310 160C314.2 160.7 318.3 161.2 322.5 161.2C326.7 161.2 331.2 160.6 335 160C338.8 159.4 342.6 157.3 345 157.5C347.4 157.7 348.5 159.8 349.4 161.2C350.2 162.7 350.5 164.6 350 166.2C349.5 167.9 348.3 170 346.2 171.2C344.2 172.5 341.5 173.5 337.5 173.8C333.5 174 327.1 173.1 322.5 172.5C317.9 171.9 314.2 171.2 310 170C305.8 168.8 300.6 166.5 297.5 165C294.4 163.5 292.4 162.4 291.2 161.2C290.1 160.1 289.6 158.9 290.6 158.1Z" fill="#074e92" stroke="#000" stroke-width="0.6"/>
<path d="M337.5 146.2C337.9 145.4 339.6 144.4 341.2 144C342.9 143.6 345.8 143.5 347.5 144C349.2 144.5 351 145.9 351.2 146.9C351.5 147.8 350.2 149.2 348.8 149.8C347.3 150.3 344.2 150.4 342.5 150.2C340.8 150.1 339.6 149.7 338.8 149C337.9 148.3 337.1 147.1 337.5 146.2Z" fill="#074e92" stroke="#000" stroke-width="0.6"/>
<path d="M431.3 136.7C431.6 135.6 434.1 134.3 436 134C437.9 133.7 441.2 134.2 442.7 134.7C444.1 135.1 445.1 135.8 444.7 136.7C444.2 137.6 441.7 139.3 440 140C438.3 140.7 436.1 141.2 434.7 140.7C433.2 140.1 431.1 137.8 431.3 136.7Z" fill="#4646ff" stroke="#000" stroke-width="0.6"/>
<path d="M446 131.3C446.2 130 448.6 128.7 450.7 128.3C452.8 127.8 456.6 127.9 458.7 128.7C460.8 129.4 463.1 131.4 463.3 132.7C463.6 133.9 461.4 135.3 460 136C458.6 136.7 456 136 454.7 136.7C453.3 137.3 452.9 140.1 452 140C451.1 139.9 450.3 137.4 449.3 136C448.3 134.6 445.8 132.6 446 131.3Z" fill="#4646ff" stroke="#000" stroke-width="0.6"/>
<path d="M397.5 148.8C397.9 147.9 399.9 146.7 401.2 146.2C402.6 145.8 404.8 145.7 405.6 146C406.5 146.3 406.8 147.4 406.2 148.1C405.7 148.9 403.8 150.1 402.5 150.6C401.2 151.1 399.6 151.6 398.8 151.2C397.9 150.9 397.1 149.6 397.5 148.8Z" fill="#0000f0" stroke="#000" stroke-width="0.6"/>
<path d="M288.1 127.5C289.1 126.1 291.1 124.2 293.8 123.1C296.4 122.1 299.8 121.5 303.8 121.2C307.7 121 315 121.5 317.5 121.9C320 122.3 320 123.1 318.8 123.8C317.5 124.4 312.9 125 310 125.6C307.1 126.2 304.2 126.8 301.2 127.5C298.3 128.2 294.7 129.4 292.5 130C290.3 130.6 288.9 131.7 288.1 131.2C287.4 130.8 287.2 128.9 288.1 127.5Z" fill="#32c010" stroke="#000" stroke-width="0.6"/>
<path d="M311.9 126.2C312.5 125.5 315.1 125 317.5 125.6C319.9 126.2 323.8 128.9 326.2 130C328.8 131.1 331.7 131.2 332.5 132.5C333.3 133.8 332.1 137 331.2 137.5C330.4 138 329 136.4 327.5 135.6C326 134.9 323.8 132.6 322.5 133.1C321.2 133.6 321.2 137.7 320 138.8C318.8 139.8 315.6 140 315 139.4C314.4 138.8 316.5 136.6 316.2 135C316 133.4 314.5 131.5 313.8 130C313 128.5 311.2 127 311.9 126.2Z" fill="#32c010" stroke="#000" stroke-width="0.6"/>
<path d="M340 133.8C341 132.6 344.6 132.3 347.5 131.9C350.4 131.5 354.6 131.1 357.5 131.2C360.4 131.4 364.2 131.8 365 132.5C365.8 133.2 364.6 134.9 362.5 135.6C360.4 136.4 355 136.2 352.5 136.9C350 137.5 349.4 139.1 347.5 139.4C345.6 139.7 342.5 139.7 341.2 138.8C340 137.8 339 134.9 340 133.8Z" fill="#32c010" stroke="#000" stroke-width="0.6"/>
<path d="M360 125.6C360.2 125 364.2 125.5 366.2 126.2C368.3 127 370.6 128.5 372.5 130C374.4 131.5 375.6 133.5 377.5 135C379.4 136.5 381.7 137.9 383.8 138.8C385.8 139.6 389.1 139.3 390 140C390.9 140.7 390.4 142.4 389.4 143.1C388.3 143.9 385.9 144.5 383.8 144.4C381.6 144.3 378.1 143.4 376.2 142.5C374.4 141.6 373.3 140.2 372.5 138.8C371.7 137.3 372.5 135.2 371.2 133.8C370 132.3 366.9 131.4 365 130C363.1 128.6 359.8 126.2 360 125.6Z" fill="#32c010" stroke="#000" stroke-width="0.6"/>
<path d="M288.1 141.2C289.7 140.1 293.9 140.2 297.5 140C301.1 139.8 307.7 139.6 310 140C312.3 140.4 312.3 141.7 311.2 142.5C310.2 143.3 306.5 144.4 303.8 145C301 145.6 297.6 145.9 295 146.2C292.4 146.6 289.3 147.7 288.1 146.9C287 146 286.6 142.4 288.1 141.2Z" fill="#32c010" stroke="#000" stroke-width="0.6"/>
<path d="M901 129C902 127.9 903.7 128.4 906 128.3C908.3 128.2 913.5 126.2 915 128.5C916.5 130.8 916.5 139.8 915 142C913.5 144.2 908.2 141.8 906 141.5C903.8 141.2 903 141.1 902 140C901 138.9 900.2 136.8 900 135C899.8 133.2 900 130.1 901 129Z" fill="#32c010" stroke="#000" stroke-width="0.6"/>
<path d="M301.7 241.7C303.2 240.8 306.1 239.4 308.3 240C310.6 240.6 313.1 242.8 315 245C316.9 247.2 319 250.8 320 253.3C321 255.8 321.7 258.6 320.8 260C320 261.4 317.1 261.9 315 261.7C312.9 261.4 310.6 260.3 308.3 258.3C306.1 256.4 303.2 252.2 301.7 250C300.1 247.8 299.2 246.4 299.2 245C299.2 243.6 300.1 242.5 301.7 241.7Z" fill="#074e92" stroke="#000" stroke-width="0.6"/>
<path d="M776.7 241.7C777.9 240.6 782.2 239.7 785 240C787.8 240.3 790.8 242.2 793.3 243.3C795.8 244.4 799.2 245 800 246.7C800.8 248.3 799.7 251.1 798.3 253.3C796.9 255.6 793.6 258.6 791.7 260C789.7 261.4 788.3 262.5 786.7 261.7C785 260.8 783.2 257.5 781.7 255C780.1 252.5 778.3 248.9 777.5 246.7C776.7 244.4 775.4 242.8 776.7 241.7Z" fill="#0000f0" stroke="#000" stroke-width="0.6"/>
<path d="M880 164C880.2 162.8 880.7 161.7 882 160C883.3 158.3 886 155.6 888 154C890 152.4 892.6 150.8 894 150.5C895.4 150.2 896.5 151.1 896.5 152C896.5 152.9 895.4 154.3 894 156C892.6 157.7 889.7 160.2 888 162C886.3 163.8 885.2 165.7 884 166.5C882.8 167.3 881.7 167.4 881 167C880.3 166.6 879.8 165.2 880 164Z" fill="#074e92" stroke="#000" stroke-width="0.6"/>
<path d="M430.3 176.7C431.2 174.9 433.2 172.9 435.7 171.3C438.1 169.8 442.3 167.9 445 167.3C447.7 166.8 450.1 167.1 451.7 168C453.2 168.9 454.6 171 454.3 172.7C454.1 174.3 452.3 176.7 450.3 178C448.3 179.3 445 179.8 442.3 180.7C439.7 181.6 436.3 183.1 434.3 183.3C432.3 183.6 431 183.1 430.3 182C429.7 180.9 429.4 178.4 430.3 176.7Z" fill="#ffb400" stroke="#000" stroke-width="0.6"/>
<path d="M421.7 180C422 179.1 423.9 179.7 425 180.7C426.1 181.7 427.7 184.6 428.3 186C429 187.4 429.3 188.7 429 189.3C428.7 190 427.3 190.6 426.3 190C425.3 189.4 423.8 187.7 423 186C422.2 184.3 421.3 180.9 421.7 180Z" fill="#ff0000" stroke="#000" stroke-width="0.6"/>
<g transform="translate(612 82) rotate(0)"><rect x="-6.5" y="-8" width="13" height="16" fill="#fff"/><text x="0" y="5" font-size="14" text-anchor="middle">2</text></g>
<g transform="translate(861 88) rotate(-8)"><rect x="-6.5" y="-8" width="13" height="16" fill="#fff"/><text x="0" y="5" font-size="14" text-anchor="middle">2</text></g>
<g transform="translate(420 144) rotate(18)"><rect x="-6.5" y="-8" width="13" height="16" fill="#fff"/><text x="0" y="5" font-size="14" text-anchor="middle">4</text></g>
<g transform="translate(673 120) rotate(0)"><rect x="-6.5" y="-8" width="13" height="16" fill="#fff"/><text x="0" y="5" font-size="14" text-anchor="middle">4</text></g>
<g transform="translate(492 275) rotate(0)"><rect x="-6.5" y="-8" width="13" height="16" fill="#fff"/><text x="0" y="5" font-size="14" text-anchor="middle">4</text></g>
<g transform="translate(733 282) rotate(0)"><rect x="-6.5" y="-8" width="13" height="16" fill="#fff"/><text x="0" y="5" font-size="14" text-anchor="middle">4</text></g>
<g transform="translate(529 141) rotate(-30)"><rect x="-6.5" y="-8" width="13" height="16" fill="#fff"/><text x="0" y="5" font-size="14" text-anchor="middle">6</text></g>
<g transform="translate(785 142) rotate(-10)"><rect x="-6.5" y="-8" width="13" height="16" fill="#fff"/><text x="0" y="5" font-size="14" text-anchor="middle">6</text></g>
<g transform="translate(342 265) rotate(0)"><rect x="-6.5" y="-8" width="13" height="16" fill="#fff"/><text x="0" y="5" font-size="14" text-anchor="middle">6</text></g>
<g transform="translate(625 256) rotate(0)"><rect x="-6.5" y="-8" width="13" height="16" fill="#fff"/><text x="0" y="5" font-size="14" text-anchor="middle">6</text></g>
<g transform="translate(591 165) rotate(8)"><rect x="-6.5" y="-8" width="13" height="16" fill="#fff"/><text x="0" y="5" font-size="14" text-anchor="middle">8</text></g>
<g transform="translate(836 180) rotate(32)"><rect x="-6.5" y="-8" width="13" height="16" fill="#fff"/><text x="0" y="5" font-size="14" text-anchor="middle">8</text></g>
<g transform="translate(427 238) rotate(0)"><rect x="-6.5" y="-8" width="13" height="16" fill="#fff"/><text x="0" y="5" font-size="14" text-anchor="middle">8</text></g>
<g transform="translate(604 242) rotate(0)"><rect x="-6.5" y="-8" width="13" height="16" fill="#fff"/><text x="0" y="5" font-size="14" text-anchor="middle">8</text></g>
<g transform="translate(541 182) rotate(5)"><rect x="-9.3" y="-8" width="18.6" height="16" fill="#fff"/><text x="0" y="5" font-size="14" text-anchor="middle">10</text></g>
<g transform="translate(516 215) rotate(10)"><rect x="-9.3" y="-8" width="18.6" height="16" fill="#fff"/><text x="0" y="5" font-size="14" text-anchor="middle">10</text></g>
<g transform="translate(643 214) rotate(0)"><rect x="-9.3" y="-8" width="18.6" height="16" fill="#fff"/><text x="0" y="5" font-size="14" text-anchor="middle">10</text></g>
<g transform="translate(772 185) rotate(32)"><rect x="-9.3" y="-8" width="18.6" height="16" fill="#fff"/><text x="0" y="5" font-size="14" text-anchor="middle">10</text></g>
<g transform="translate(554 314) rotate(0)"><rect x="-6.5" y="-8" width="13" height="16" fill="#fff"/><text x="0" y="5" font-size="14" text-anchor="middle">2</text></g>
<use href="#coast" y="0" fill="none" stroke="#000" stroke-width="1.15" stroke-linejoin="round" stroke-linecap="round"/>

</g>
<clipPath id="clip1"><rect x="288" y="446" width="624" height="307"/></clipPath>
<g clip-path="url(#clip1)" stroke-linejoin="round">
<rect x="280" y="439" width="640" height="322" fill="#4646ff"/>
<path d="M270 472C273 472 283.5 472.3 288.1 472C292.7 471.7 293.9 470.8 297.5 470.4C301.1 470 305.8 469.6 310 469.5C314.2 469.4 318.3 469.4 322.5 469.5C326.7 469.6 330.8 469.8 335 470C339.2 470.2 343.3 470.4 347.5 470.8C351.7 471.1 355.8 471.6 360 472C364.2 472.4 368.3 472.8 372.5 473.2C376.7 473.7 380.8 474.2 385 474.8C389.2 475.2 393.3 475.8 397.5 476.2C401.7 476.7 405.8 477 410 477.2C414.2 477.5 418.3 477.8 422.5 478C426.7 478.2 430.8 478.6 435 478.5C439.2 478.4 443.3 477.8 447.5 477.6C451.7 477.4 455.8 477.3 460 477.2C464.2 477.2 469.4 477.4 472.5 477.5C475.6 477.6 476.7 477.5 478.8 477.9C480.8 478.2 481.9 479.3 485 479.8C488.1 480.2 493.3 480.8 497.5 480.8C501.7 480.8 505.8 480 510 479.8C514.2 479.5 518.3 479.1 522.5 479.1C526.7 479.2 530.8 479.5 535 480C539.2 480.5 543.3 481.6 547.5 482C551.7 482.4 555.8 482.4 560 482.2C564.2 482.1 568.3 481.4 572.5 481C576.7 480.6 580.8 480.1 585 479.8C589.2 479.4 593.3 478.9 597.5 479.1C601.7 479.3 605.8 480.7 610 481C614.2 481.3 618.3 481.5 622.5 481C626.7 480.5 630.8 478.5 635 477.9C639.2 477.2 643.3 477.2 647.5 477.2C651.7 477.2 655.8 477.7 660 477.9C664.2 478.1 668.3 478.4 672.5 478.5C676.7 478.6 680.8 478.5 685 478.5C689.2 478.5 693.3 478.2 697.5 478.5C701.7 478.8 705.8 479.6 710 480.4C714.2 481.1 718.3 482 722.5 482.9C726.7 483.7 730.8 483.8 735 485.4C739.2 486.9 743.3 490.4 747.5 492.2C751.7 494.1 756.7 495.7 760 496.6C763.3 497.6 764.8 498 767.5 497.9C770.2 497.8 773.3 496.6 776.2 496C779.2 495.4 781.9 494.3 785 494.1C788.1 493.9 791.7 494.9 795 494.8C798.3 494.6 801.5 493.9 805 493.5C808.5 493.1 812.9 492.8 816.2 492.2C819.6 491.7 822.7 490.2 825 490.4C827.3 490.6 827.9 492.6 830 493.5C832.1 494.4 835.4 496 837.5 496C839.6 496 841.2 495 842.5 493.5C843.8 492 843.1 488.8 845 487.2C846.9 485.7 850.2 485.2 853.8 484.1C857.3 483.1 862.1 481.9 866.2 481C870.4 480.1 875.6 479.1 878.8 478.5C881.9 477.9 881.5 477.8 885 477.2C888.5 476.7 895.5 475.9 900 475C904.5 474.1 907 472.5 912 472C917 471.5 927 472 930 472L930 696C927 696 918.1 695.9 912 696C905.9 696.1 900.9 696.4 893.3 696.8C885.8 697.2 875.6 697.9 866.7 698.7C857.8 699.4 848.9 700.1 840 701.3C831.1 702.5 819.6 704.5 813.3 705.9C807.1 707.2 807.1 708.4 802.7 709.3C798.2 710.2 793.8 710.8 786.7 711.2C779.6 711.6 768.9 712 760 712C751.1 712 742.2 711.8 733.3 711.5C724.4 711.2 715.6 710.5 706.7 710.1C697.8 709.8 688.9 709.5 680 709.3C671.1 709.2 662.2 709.2 653.3 709.3C644.4 709.5 635.6 710.1 626.7 710.1C617.8 710.1 608.1 709.6 600 709.3C591.9 709.1 586.4 708.8 578.3 708.5C570.3 708.2 560.6 707.8 551.7 707.5C542.8 707.2 533.9 707.2 525 706.7C516.1 706.1 507.2 704.9 498.3 704C489.4 703.1 480.6 702.2 471.7 701.3C462.8 700.4 453.9 699.2 445 698.7C436.1 698.1 427.2 697.8 418.3 697.9C409.4 697.9 400.6 698.8 391.7 698.9C382.8 699.1 373.9 698.9 365 698.7C356.1 698.4 347.2 697.9 338.3 697.3C329.4 696.8 320 695.4 311.7 695.2C303.3 695 295.1 695.9 288.2 696C281.3 696.1 273 696 270 696Z" fill="#0000f0" stroke="#000" stroke-width="0.6"/>
<path d="M270 721.3C273 721.3 281.3 721.4 288.2 721.3C295.1 721.2 303.3 720.9 311.7 720.8C320 720.7 330.3 721.2 338.3 720.8C346.3 720.4 352.1 719.7 359.7 718.7C367.2 717.6 375.2 715 383.7 714.7C392.1 714.3 405 715.6 410.3 716.5C415.7 717.4 411.7 720 415.7 720C419.7 720 425 717.3 434.3 716.5C443.7 715.7 461 715.4 471.7 715.2C482.3 715 489.4 715.4 498.3 715.5C507.2 715.5 516.1 715.2 525 715.5C533.9 715.8 542.8 716.4 551.7 717.3C560.6 718.3 571.7 720.3 578.3 721.3C585 722.4 588.1 723 591.7 723.5C595.3 723.9 596.4 723.5 600 724C603.6 724.5 608.9 725.8 613.3 726.7C617.8 727.6 622.2 728.4 626.7 729.3C631.1 730.2 635.6 731.5 640 732C644.4 732.5 648.4 732.8 653.3 732.5C658.2 732.3 664.9 731.2 669.3 730.7C673.8 730.1 674.7 729.8 680 729.3C685.3 728.9 694.7 727.8 701.3 728C708 728.2 712.4 730.2 720 730.7C727.6 731.1 740 730.9 746.7 730.7C753.3 730.4 753.3 729.8 760 729.3C766.7 728.9 780 728.7 786.7 728C793.3 727.3 795.6 725.3 800 725.3C804.4 725.3 808 727.3 813.3 728C818.7 728.7 825.3 729.1 832 729.3C838.7 729.6 847.6 729.6 853.3 729.3C859.1 729.1 862.2 728.5 866.7 728C871.1 727.5 875.6 726.8 880 726.1C884.4 725.5 888 724.8 893.3 724C898.7 723.2 905.9 721.8 912 721.3C918.1 720.9 927 721.3 930 721.3L930 776 L270 776 Z" fill="#a0a0ff" stroke="#000" stroke-width="0.6"/>
<path d="M816.9 464.1C818.1 463.4 824.7 462.4 828.8 461.6C832.8 460.9 837.1 460.1 841.2 459.8C845.4 459.4 850 459.1 853.8 459.8C857.5 460.4 861.1 462.1 863.8 463.5C866.4 464.9 869.2 466.4 869.4 467.9C869.6 469.3 866.6 470.7 865 472.2C863.4 473.8 862.3 475.9 860 477.2C857.7 478.6 853.8 480.3 851.2 480.4C848.8 480.5 847.3 479 845 477.9C842.7 476.7 840.4 475.1 837.5 473.5C834.6 471.9 830.2 469.8 827.5 468.5C824.8 467.2 823 466.7 821.2 466C819.5 465.3 815.6 464.9 816.9 464.1Z" fill="#a0a0ff" stroke="#000" stroke-width="0.6"/>
<path d="M270 489.1C273 489.1 283.5 489.4 288.1 489.1C292.7 488.9 294.3 488.2 297.5 487.5C300.7 486.8 304.4 485.7 307.5 484.8C310.6 483.8 313.3 482.3 316.2 481.6C319.2 481 323 480.5 325 480.8C327 481 327.5 481.9 328.1 482.9C328.8 483.9 327.2 486.2 328.8 486.6C330.3 487 334.4 485.4 337.5 485.4C340.6 485.3 343.8 485.7 347.5 486.2C351.2 486.8 355.8 487.8 360 488.5C364.2 489.2 368.3 489.8 372.5 490.4C376.7 491 380.8 491.6 385 492.2C389.2 492.9 393.3 493.5 397.5 494.1C401.7 494.8 405.8 495.3 410 496C414.2 496.7 418.3 497.7 422.5 498.5C426.7 499.3 430.8 500.4 435 501C439.2 501.6 443.3 501.8 447.5 502C451.7 502.2 455.8 502.4 460 502.5C464.2 502.6 468.3 502.9 472.5 502.9C476.7 502.8 481.2 502.6 485 502.2C488.8 501.9 491.7 501 495 501C498.3 501 501.5 501.6 505 502.2C508.5 502.9 512.5 503.9 516.2 504.8C520 505.6 524.4 506.6 527.5 507.2C530.6 507.9 533.1 507.9 535 508.5C536.9 509.1 537.7 510 538.8 511C539.8 512 539.8 513.9 541.2 514.8C542.7 515.6 544.4 515.7 547.5 516C550.6 516.3 555.8 516.6 560 516.6C564.2 516.6 568.3 516.3 572.5 516C576.7 515.7 580.8 515.4 585 514.8C589.2 514.1 593.3 513 597.5 512.2C601.7 511.5 605.8 511.1 610 510.4C614.2 509.6 618.3 508.8 622.5 507.9C626.7 506.9 631.2 505.9 635 504.8C638.8 503.6 642.9 502.7 645 501C647.1 499.3 646.5 496.3 647.5 494.8C648.5 493.2 649.6 492.5 651.2 491.6C652.9 490.8 655.2 490 657.5 489.8C659.8 489.5 663.1 489.5 665 490.4C666.9 491.2 667.5 493.8 668.8 494.8C670 495.7 671.5 496.2 672.5 496C673.5 495.8 674.6 494.5 675 493.5C675.4 492.5 674.2 490.6 675 489.8C675.8 488.9 677.3 488.4 680 488.5C682.7 488.6 687.3 489.5 691.2 490.4C695.2 491.2 699.6 492.5 703.8 493.5C707.9 494.5 712.1 495.6 716.2 496.6C720.4 497.7 725.6 499 728.8 499.8C731.9 500.5 731.9 500.2 735 501C738.1 501.8 743.3 503.6 747.5 504.8C751.7 505.9 756.2 507 760 507.9C763.8 508.7 766.9 509.3 770 509.8C773.1 510.2 776.2 510.5 778.8 510.4C781.2 510.3 781.9 509.4 785 509.1C788.1 508.8 793.3 508.7 797.5 508.5C801.7 508.3 806.5 508.1 810 507.9C813.5 507.7 815.6 507.6 818.8 507.2C821.9 506.9 825.6 506.4 828.8 506C831.9 505.6 834 505.4 837.5 504.6C841 503.7 845.8 502.2 850 500.8C854.2 499.5 859 497.9 862.5 496.7C866 495.4 868.1 494.3 870.8 493.3C873.6 492.4 876.4 491.5 879.2 490.8C881.9 490.2 884 489.9 887.5 489.6C891 489.3 895.9 489.2 900 489.2C904.1 489.1 907.1 489.2 912.1 489.2C917.1 489.2 927 489.2 930 489.2L930 679C927 679 917 679 912 679C907 679 904.5 679 900 679C895.5 679 889.6 679 885 679.1C880.4 679.2 876.7 679.3 872.5 679.5C868.3 679.7 864.2 680 860 680.4C855.8 680.7 851.7 681.3 847.5 681.6C843.3 681.9 839.2 682.5 835 682.2C830.8 682 826.2 681 822.5 680.4C818.8 679.8 815.4 678.7 812.5 678.5C809.6 678.3 807.1 678.5 805 679.1C802.9 679.8 801.9 680.3 800 682.2C798.1 684.2 795.8 689.3 793.8 691C791.7 692.7 789.6 692.4 787.5 692.2C785.4 692.1 783.8 690.8 781.2 690.4C778.8 689.9 776 689.7 772.5 689.5C769 689.3 764.2 689.2 760 689.1C755.8 689 751.7 688.9 747.5 688.8C743.3 688.6 739.2 688.5 735 688.5C730.8 688.5 726.7 688.5 722.5 688.5C718.3 688.5 714.2 688.7 710 688.8C705.8 688.8 701.7 688.8 697.5 688.9C693.3 688.9 689.2 689 685 689.1C680.8 689.2 676.7 689.4 672.5 689.5C668.3 689.6 664.2 689.9 660 690C655.8 690.1 651.7 690.2 647.5 690.4C643.3 690.5 639.2 690.8 635 691C630.8 691.2 626.7 691.4 622.5 691.6C618.3 691.8 614.2 692.2 610 692.2C605.8 692.3 601.7 692.1 597.5 692C593.3 691.9 589.2 691.8 585 691.6C580.8 691.5 576.7 691.2 572.5 691C568.3 690.8 564.2 690.6 560 690.4C555.8 690.2 551.7 690 547.5 689.8C543.3 689.5 539.2 689.4 535 689.1C530.8 688.9 526.7 688.6 522.5 688.2C518.3 687.9 514.2 687.5 510 687C505.8 686.5 501.7 685.9 497.5 685.4C493.3 684.8 489.2 684.2 485 683.8C480.8 683.3 476.7 683.2 472.5 682.9C468.3 682.6 464.2 682.3 460 682C455.8 681.7 451.7 681.7 447.5 681.2C443.3 680.8 439.2 679.7 435 679.5C430.8 679.3 426.7 679.9 422.5 680C418.3 680.1 414.2 680.4 410 680.4C405.8 680.4 401.7 680.1 397.5 680C393.3 679.9 389.2 679.7 385 679.8C380.8 679.8 376.7 680.3 372.5 680.4C368.3 680.5 364.2 680.4 360 680.4C355.8 680.3 351.7 680.1 347.5 680C343.3 679.9 339.2 679.7 335 679.5C330.8 679.3 326.7 678.9 322.5 678.8C318.3 678.6 314.2 678.5 310 678.5C305.8 678.5 301.1 678.4 297.5 678.5C293.9 678.6 292.7 679 288.1 679.1C283.5 679.2 273 679.1 270 679.1Z" fill="#074e92" stroke="#000" stroke-width="0.6"/>
<path d="M270 516C273 516 284.4 516.4 288.1 516C291.9 515.6 290.9 514.3 292.5 513.5C294.1 512.7 295.6 511.7 297.5 511C299.4 510.3 300.6 509.5 303.8 509.1C306.9 508.7 312.1 508.6 316.2 508.5C320.4 508.4 324.6 508.3 328.8 508.5C332.9 508.7 337.1 508.8 341.2 509.5C345.4 510.2 349.6 511.4 353.8 512.9C357.9 514.4 363.1 517.1 366.2 518.5C369.4 519.9 370.2 520.2 372.5 521C374.8 521.8 377.7 522.2 380 523.5C382.3 524.8 384 527.1 386.2 528.5C388.5 529.9 390.8 531 393.3 531.7C395.9 532.3 399.6 532.9 401.7 532.5C403.8 532.1 404 530.3 405.8 529.2C407.6 528.1 410.1 526.7 412.5 525.8C414.9 525 417.4 524.9 420 524.2C422.6 523.5 426.1 522.2 428.3 521.7C430.6 521.1 432.2 520.7 433.3 520.8C434.4 521 434.9 521.7 435 522.5C435.1 523.3 435 524.9 434.2 525.8C433.3 526.8 431.2 527.6 430 528.3C428.8 529 427.8 529.3 426.7 530C425.6 530.7 424.3 531.5 423.3 532.5C422.4 533.5 420.7 534.7 420.8 535.8C421 536.9 422.6 537.9 424.2 539.2C425.7 540.4 427.9 542.2 430 543.3C432.1 544.4 434.4 545.5 436.7 545.8C438.9 546.2 440.8 545.8 443.3 545.4C445.8 545 448.9 544.1 451.7 543.3C454.4 542.6 457.8 541.7 460 540.8C462.2 540 463.8 539.4 465 538.3C466.2 537.2 466.2 535.3 467.5 534.2C468.8 533.1 470.7 532.5 472.5 531.7C474.3 530.8 476.2 530 478.3 529.2C480.4 528.3 482.2 527.1 485 526.7C487.8 526.2 491.7 526.3 495 526.6C498.3 526.9 502.5 528.6 505 528.5C507.5 528.4 507.1 526.2 510 526C512.9 525.8 519.2 527.2 522.5 527.2C525.8 527.2 527.9 526.6 530 526C532.1 525.4 533.1 523.5 535 523.5C536.9 523.5 539.2 525.4 541.2 526C543.3 526.6 544.4 526.9 547.5 527.2C550.6 527.6 555.8 527.7 560 527.9C564.2 528 568.3 528.1 572.5 528.2C576.7 528.4 580.8 528.9 585 528.5C589.2 528.1 593.3 526.6 597.5 526C601.7 525.4 605.8 525.2 610 524.8C614.2 524.3 618.3 523.8 622.5 523.5C626.7 523.2 630.8 523.1 635 522.9C639.2 522.7 643.3 522.4 647.5 522.2C651.7 522.1 655.8 521.9 660 522C664.2 522.1 669.2 522.2 672.5 522.9C675.8 523.5 677.9 524.6 680 526C682.1 527.4 684 528.9 685 531C686 533.1 686.2 535.8 686.2 538.5C686.2 541.2 684.6 545 685 547.2C685.4 549.5 687.1 550.7 688.8 552.2C690.4 553.8 692.3 555.7 695 556.6C697.7 557.6 702.1 558 705 557.9C707.9 557.8 710.4 556.9 712.5 556C714.6 555.1 716.2 553.7 717.5 552.2C718.8 550.8 721 548.5 720 547.2C719 546 713.3 546 711.2 544.8C709.2 543.5 709 541.6 707.5 539.8C706 537.9 703.8 535.8 702.5 533.5C701.2 531.2 700.2 528.9 700 526C699.8 523.1 700.6 518.1 701.2 516C701.9 513.9 702.7 513.7 703.8 513.5C704.8 513.3 706.5 513.8 707.5 514.8C708.5 515.7 709.2 518.9 710 519.1C710.8 519.3 711.2 516.9 712.5 516C713.8 515.1 715.8 513.5 717.5 513.5C719.2 513.5 720.6 515.4 722.5 516C724.4 516.6 726.7 517.2 728.8 517.2C730.8 517.2 731.9 516 735 516C738.1 516 744.2 516.8 747.5 517.2C750.8 517.7 752.9 517.9 755 518.5C757.1 519.1 758.1 520.6 760 521C761.9 521.4 763.1 521 766.2 521C769.4 521 774.6 520.8 778.8 521C782.9 521.2 788.1 521.9 791.2 522.2C794.4 522.6 794.4 522.9 797.5 522.9C800.6 522.9 805.8 522.7 810 522.2C814.2 521.8 817.9 520.9 822.5 520.4C827.1 519.9 833.6 519.9 837.5 519.2C841.4 518.4 843.1 516.7 845.8 515.8C848.6 514.9 850.7 514.4 854.2 513.8C857.6 513.1 862.5 512.5 866.7 512.1C870.8 511.7 875.3 511.3 879.2 511.2C883.1 511.2 887.2 511.4 890 511.7C892.8 511.9 894.2 512.1 895.8 512.9C897.5 513.8 898.8 515.8 900 516.7C901.2 517.6 902.2 518.3 903.3 518.3C904.4 518.3 905.2 516.9 906.7 516.7C908.1 516.4 908.2 516.7 912.1 516.7C916 516.7 927 516.7 930 516.7L930 667.1C927 667.1 918.5 666.9 912.1 667.1C905.7 667.3 896.2 668.1 891.7 668.3C887.2 668.6 888.2 668.4 885 668.5C881.8 668.6 876.7 669 872.5 669.1C868.3 669.3 864.2 669.5 860 669.5C855.8 669.5 851.7 669.4 847.5 669.1C843.3 668.9 838.8 668.3 835 667.9C831.2 667.5 828.1 667 825 666.6C821.9 666.2 818.8 665.5 816.2 665.4C813.8 665.3 812.3 665.6 810 666C807.7 666.4 804.8 667.5 802.5 667.9C800.2 668.3 797.7 667.4 796.2 668.5C794.8 669.6 794.8 672.7 793.8 674.8C792.7 676.8 790.9 680.2 790 681C789.1 681.8 788.3 681.4 788.1 679.8C787.9 678.1 788.2 673.9 788.8 671C789.3 668.1 790.2 664.8 791.2 662.2C792.3 659.8 794 658.7 795 656C796 653.3 797.5 649.1 797.5 646C797.5 642.9 796.2 639.8 795 637.2C793.8 634.8 792.1 632.9 790 631C787.9 629.1 785.4 627.2 782.5 626C779.6 624.8 775.6 623.8 772.5 623.5C769.4 623.2 765.6 623.3 763.8 624.1C761.9 625 761.4 626.3 761.2 628.5C761.1 630.7 762.3 633.3 763.1 637.2C764 641.2 766.2 648.1 766.2 652.2C766.2 656.4 764.4 659.4 763.1 662.2C761.9 665.1 761.4 667.8 758.8 669.1C756.1 670.5 751.5 670.1 747.5 670.4C743.5 670.7 739.2 670.8 735 671C730.8 671.2 726.7 671.5 722.5 671.6C718.3 671.7 714.2 671.6 710 671.6C705.8 671.6 701.7 671.7 697.5 671.6C693.3 671.6 689.2 671.4 685 671.4C680.8 671.3 676.7 671.3 672.5 671.4C668.3 671.4 664.2 671.5 660 671.6C655.8 671.7 651.7 671.9 647.5 672C643.3 672.1 639.2 672.3 635 672.5C630.8 672.7 626.7 673.1 622.5 673.2C618.3 673.4 614.2 673.6 610 673.5C605.8 673.4 601.7 673.1 597.5 672.9C593.3 672.7 589.2 672.5 585 672.2C580.8 672 576.7 671.8 572.5 671.6C568.3 671.4 563.1 671.3 560 671C556.9 670.7 555.8 670.4 553.8 669.8C551.7 669.1 549.6 667.8 547.5 667.2C545.4 666.7 543.1 667 541.2 666.6C539.4 666.2 538.1 665.5 536.2 664.8C534.4 664 531.7 663.3 530 662.2C528.3 661.2 527.9 659.4 526.2 658.5C524.6 657.6 522.7 656.4 520 656.6C517.3 656.8 513.1 658.6 510 659.8C506.9 660.9 504 663 501.2 663.5C498.5 664 495.8 663.5 493.8 662.9C491.7 662.2 490.2 660.9 488.8 659.8C487.3 658.6 486.7 657 485 656C483.3 655 481.2 654 478.8 653.5C476.2 653 473.1 652.5 470 652.9C466.9 653.3 463.8 654.4 460 656C456.2 657.6 451.7 660.5 447.5 662.2C443.3 664 439.2 665.6 435 666.6C430.8 667.7 426.7 668 422.5 668.5C418.3 669 412.9 669.7 410 669.8C407.1 669.8 409.2 669 405 669C400.8 669 391.7 669.8 385 670C378.3 670.2 371.7 670.4 365 670.5C358.3 670.6 350 670.6 345 670.5C340 670.4 338 670.4 335 670C332 669.6 328.8 669 327 668C325.2 667 324.6 665.3 324 664C323.4 662.7 323.6 661.3 323.5 660C323.4 658.7 324.1 657.5 323.5 656C322.9 654.5 321.2 652.7 320 651C318.8 649.3 317.2 647.7 316 646C314.8 644.3 314 642.7 313 641C312 639.3 311.2 637.7 310 636C308.8 634.3 307.5 632.5 306 631C304.5 629.5 302.8 628 301 627C299.2 626 297.1 625.4 295 625C292.9 624.6 292.7 624.6 288.5 624.5C284.3 624.4 273.1 624.5 270 624.5Z" fill="#0a8c3e" stroke="#000" stroke-width="0.6"/>
<path d="M270 567.9C273 567.9 283.5 567.6 288.1 567.9C292.7 568.2 293.9 569.3 297.5 569.8C301.1 570.2 305.8 570.5 310 570.8C314.2 571 318.3 570.9 322.5 571C326.7 571.1 331.5 571.8 335 571.6C338.5 571.4 341.2 570.7 343.8 569.8C346.2 568.8 348.1 567.2 350 566C351.9 564.8 353.3 563.1 355 562.2C356.7 561.4 358.3 560.4 360 561C361.7 561.6 363.3 564.8 365 566C366.7 567.2 368.3 568.3 370 568.5C371.7 568.7 372.5 568.1 375 567.2C377.5 566.4 382.3 564.8 385 563.5C387.7 562.2 389.2 560.5 391.2 559.8C393.3 559 395.4 559.4 397.5 559.1C399.6 558.8 401.9 558.6 403.8 557.9C405.6 557.1 407.3 556.6 408.8 554.8C410.2 552.9 411.5 548.8 412.5 546.7C413.5 544.5 414 543.1 415 541.7C416 540.3 416.7 538.3 418.3 538.3C420 538.3 422.8 540.6 425 541.7C427.2 542.8 429.4 544.1 431.7 545C433.9 545.9 436.1 546.8 438.3 547.1C440.6 547.4 442.8 547 445 546.7C447.2 546.3 449.2 545.7 451.7 545C454.2 544.3 457.5 543.3 460 542.5C462.5 541.7 465.1 541.1 466.7 540C468.2 538.9 467.9 536.9 469.2 535.8C470.4 534.7 472.4 534.1 474.2 533.3C476 532.6 478.2 531.8 480 531.2C481.8 530.7 482.9 529.2 485 530C487.1 530.8 490.4 534.4 492.5 536C494.6 537.6 495.8 538.6 497.5 539.8C499.2 540.9 500.4 542.6 502.5 542.9C504.6 543.2 506.7 542.6 510 541.6C513.3 540.7 518.3 538.4 522.5 537.2C526.7 536.1 530.8 535.2 535 534.8C539.2 534.3 543.3 534.6 547.5 534.8C551.7 534.9 555.8 535.1 560 535.4C564.2 535.7 568.3 536.2 572.5 536.6C576.7 537 580.8 538.2 585 537.9C589.2 537.6 593.3 535.2 597.5 534.8C601.7 534.3 605.8 535.2 610 535.4C614.2 535.6 618.3 535.8 622.5 536C626.7 536.2 630.8 536.3 635 536.6C639.2 536.9 644.2 537.4 647.5 537.9C650.8 538.4 652.5 538.8 655 539.8C657.5 540.7 660.2 542 662.5 543.5C664.8 545 666.7 546.1 668.8 548.5C670.8 550.9 672.7 555.6 675 557.9C677.3 560.2 679.6 561.2 682.5 562.2C685.4 563.3 689 563.7 692.5 564.1C696 564.5 699.8 564.8 703.8 564.8C707.7 564.7 712.9 564.4 716.2 563.8C719.6 563.1 722.1 562.3 723.8 561C725.4 559.7 725.4 557.9 726.2 556C727.1 554.1 727.3 551.8 728.8 549.8C730.2 547.7 733.3 547.2 735 543.5C736.7 539.8 736.7 530 738.8 527.2C740.8 524.5 744 526.8 747.5 527C751 527.2 755.8 528.2 760 528.5C764.2 528.8 768.8 528.1 772.5 528.5C776.2 528.9 780 530.3 782.5 531C785 531.7 785 532.9 787.5 532.9C790 532.9 793.8 531.7 797.5 531C801.2 530.3 805.8 529.2 810 528.5C814.2 527.8 818.3 527.2 822.5 526.6C826.7 526 830.8 525.4 835 525C839.2 524.6 843.3 524.5 847.5 524.5C851.7 524.5 855.4 523.8 860 525C864.6 526.2 872.1 529.7 875 531.7C877.9 533.6 877.1 534.9 877.5 536.7C877.9 538.5 878.1 540.6 877.5 542.5C876.9 544.4 875.6 546.2 874.2 548.3C872.8 550.4 870.4 552.8 869.2 555C867.9 557.2 866.9 559.7 866.7 561.7C866.4 563.6 866.7 565.3 867.5 566.7C868.3 568.1 869.7 569.3 871.7 570C873.6 570.7 876.9 570.9 879.2 570.8C881.4 570.8 883.6 570.3 885 569.6C886.4 568.9 886.4 567.2 887.5 566.7C888.6 566.2 889.6 566.6 891.7 566.7C893.8 566.7 896.6 566.9 900 567.1C903.4 567.2 907.1 567.4 912.1 567.5C917.1 567.6 927 567.5 930 567.5L930 622.1C927 622.1 916 621.9 912.1 622.1C908.2 622.3 908.1 622.6 906.7 623.3C905.2 624.1 904 625.3 903.3 626.7C902.6 628.1 902.4 629.7 902.5 631.7C902.6 633.6 903.6 635.8 904.2 638.3C904.7 640.8 905.8 644.2 905.8 646.7C905.8 649.2 905.4 651.5 904.2 653.3C902.9 655.1 901.1 656.5 898.3 657.5C895.6 658.5 891.4 659 887.5 659.6C883.6 660.1 879.9 660.6 875 660.8C870.1 661.1 863.9 661.3 858.3 661.2C852.8 661.2 845.6 660.5 841.7 660.4C837.8 660.4 838.2 661.1 835 661C831.8 660.9 825.8 660 822.5 659.8C819.2 659.5 817.1 659.1 815 659.8C812.9 660.4 812.1 662.8 810 663.5C807.9 664.2 805 664.3 802.5 664.1C800 663.9 797.5 666.7 795 662.2C792.5 657.8 789.6 642.5 787.5 637.2C785.4 632 784.2 632.9 782.5 631C780.8 629.1 779.6 627.4 777.5 626C775.4 624.6 772.9 623.3 770 622.9C767.1 622.5 762.9 623.8 760 623.5C757.1 623.2 753.5 620.4 752.5 621C751.5 621.6 753.1 624.8 753.8 627.2C754.4 629.8 756 632.9 756.2 636C756.5 639.1 756 643.1 755 646C754 648.9 752.3 651.6 750 653.5C747.7 655.4 743.8 656.2 741.2 657.2C738.8 658.3 738.1 659 735 659.8C731.9 660.5 726.7 661.2 722.5 661.6C718.3 662 714.2 662 710 662C705.8 662 701.7 661.8 697.5 661.6C693.3 661.5 689.2 661.4 685 661.2C680.8 661.1 676.7 661.1 672.5 661C668.3 660.9 664.2 660.6 660 660.4C655.8 660.1 651.7 659.8 647.5 659.5C643.3 659.2 639.2 658.9 635 658.8C630.8 658.6 626.7 658.6 622.5 658.5C618.3 658.4 614.2 658.4 610 658.2C605.8 658.1 601.7 658 597.5 657.9C593.3 657.7 589.2 657.1 585 657.2C580.8 657.4 576.7 658.1 572.5 658.5C568.3 658.9 563.1 659.3 560 659.8C556.9 660.2 555.6 660.3 553.8 661C551.9 661.7 550 664.3 548.8 664.1C547.5 663.9 547.1 661.5 546.2 659.8C545.4 658 545.2 655.6 543.8 653.5C542.3 651.4 539.8 648.8 537.5 647.2C535.2 645.7 532.5 644.8 530 644.1C527.5 643.5 524.8 643.2 522.5 643.5C520.2 643.8 518.3 644.8 516.2 646C514.2 647.2 511.9 649.3 510 651C508.1 652.7 507.1 654.8 505 656C502.9 657.2 499.6 658.3 497.5 658.5C495.4 658.7 493.8 658.7 492.5 657.2C491.2 655.8 490.6 652 490 649.8C489.4 647.5 489.6 645.1 488.8 643.5C487.9 641.9 487.7 640.6 485 640.4C482.3 640.2 476.7 641.4 472.5 642.2C468.3 643.1 464.2 644.2 460 645.4C455.8 646.5 451.7 648.5 447.5 649.1C443.3 649.8 439.2 648.8 435 649.1C430.8 649.4 426.7 650.4 422.5 651C418.3 651.6 412.9 652 410 652.9C407.1 653.8 407.5 655.6 405 656.5C402.5 657.4 398.3 657.4 395 658C391.7 658.6 388.3 659.5 385 660C381.7 660.5 378.3 660.7 375 661C371.7 661.3 368.3 661.9 365 662C361.7 662.1 358.3 661.8 355 661.5C351.7 661.2 348 660.4 345 660C342 659.6 339.3 659.1 337 659C334.7 658.9 332.7 659.7 331 659.5C329.3 659.3 327.3 658.9 327 658C326.7 657.1 328.8 655.2 329 654C329.2 652.8 328.7 652.2 328 651C327.3 649.8 326.5 648.2 325 647C323.5 645.8 320.7 645 319 644C317.3 643 316.2 642.2 315 641C313.8 639.8 312.8 638.4 312 637C311.2 635.6 310.9 634 310 632.5C309.1 631 307.9 629.4 306.5 628C305.1 626.6 303.4 625 301.5 624C299.6 623 297.2 622.3 295 621.8C292.8 621.3 292.7 621.1 288.5 621C284.3 620.9 273.1 621 270 621Z" fill="#32c010" stroke="#000" stroke-width="0.6"/>
<path d="M270 571.6C273 571.6 283.5 571.4 288.1 571.6C292.7 571.8 293.9 572.5 297.5 572.9C301.1 573.3 305.8 573.9 310 574.1C314.2 574.4 318.3 574.4 322.5 574.5C326.7 574.6 331.5 575 335 574.8C338.5 574.5 341.2 573.8 343.8 572.9C346.2 571.9 347.9 570.3 350 569.1C352.1 568 354.2 565.5 356.2 566C358.3 566.5 360.6 570.8 362.5 572.2C364.4 573.7 365.4 574.5 367.5 574.8C369.6 575 372.1 574.3 375 573.5C377.9 572.7 381.9 570.8 385 569.8C388.1 568.7 390.6 567.7 393.8 567.2C396.9 566.8 400.8 567.9 403.8 567.2C406.7 566.6 409.2 567.3 411.2 563.5C413.3 559.7 414.5 547.9 415.8 544.2C417.2 540.4 417.6 541 419.2 540.8C420.7 540.7 422.9 542.4 425 543.3C427.1 544.3 429.4 545.8 431.7 546.7C433.9 547.5 436.1 548.1 438.3 548.3C440.6 548.5 442.8 548.2 445 547.9C447.2 547.6 449.2 547.3 451.7 546.7C454.2 546 457.4 545 460 544.2C462.6 543.3 465.8 542.8 467.5 541.7C469.2 540.6 468.8 538.6 470 537.5C471.2 536.4 473.3 535.8 475 535C476.7 534.2 478.3 533.3 480 532.9C481.7 532.5 482.5 530.7 485 532.5C487.5 534.3 492.5 541.2 495 543.5C497.5 545.8 498.3 545.5 500 546C501.7 546.5 503.3 546.7 505 546.6C506.7 546.5 507.1 546.1 510 545.4C512.9 544.6 518.3 543.2 522.5 542.2C526.7 541.3 530.8 540.2 535 539.8C539.2 539.3 543.3 539.5 547.5 539.5C551.7 539.5 555.8 539.6 560 540C564.2 540.4 568.3 541 572.5 541.6C576.7 542.2 580.8 543.4 585 543.5C589.2 543.6 593.3 542.4 597.5 542.5C601.7 542.6 605.8 543.6 610 544.1C614.2 544.6 618.3 545.1 622.5 545.4C626.7 545.7 631.2 545.8 635 546C638.8 546.2 642.1 546 645 546.6C647.9 547.2 650 548.2 652.5 549.8C655 551.3 657.7 554.1 660 556C662.3 557.9 663.8 559.5 666.2 561C668.8 562.5 671.9 563.8 675 564.8C678.1 565.7 681.2 566.2 685 566.6C688.8 567.1 693.3 567.4 697.5 567.5C701.7 567.6 705.8 567.6 710 567.5C714.2 567.4 719.4 567.2 722.5 566.6C725.6 566.1 727.5 565.3 728.8 564.1C730 563 729.4 561.5 730 559.8C730.6 558 731.7 555.4 732.5 553.5C733.3 551.6 733.5 550.8 735 548.5C736.5 546.2 738.1 541.8 741.2 539.8C744.4 537.7 749.6 536.5 753.8 536C757.9 535.5 762.1 536 766.2 536.6C770.4 537.2 774.6 539.4 778.8 539.8C782.9 540.1 787.1 539.3 791.2 538.5C795.4 537.7 799.6 535.6 803.8 534.8C807.9 533.9 812.1 533.6 816.2 533.5C820.4 533.4 824.6 533.7 828.8 534.1C832.9 534.5 837.1 534.9 841.2 536C845.4 537.1 851.2 539.8 853.8 541C856.3 542.2 855.8 542 856.7 543.3C857.6 544.7 858.9 546.9 859.2 549.2C859.4 551.4 858.6 554.3 858.3 556.7C858.1 559 857.4 561.2 857.5 563.3C857.6 565.4 858.1 567.5 859.2 569.2C860.3 570.8 862.1 572.4 864.2 573.3C866.2 574.3 869.2 574.7 871.7 575C874.2 575.3 876.9 575.3 879.2 575C881.4 574.7 883.5 574 885 573.3C886.5 572.6 886.5 571.3 888.3 570.8C890.1 570.3 891.9 570.4 895.8 570.4C899.8 570.4 906.4 570.8 912.1 570.8C917.8 570.9 927 570.8 930 570.8L930 616.7C927 616.7 916.4 616.5 912.1 616.7C907.8 616.9 906.9 617.2 904.2 617.9C901.5 618.7 897.9 620.1 895.8 621.2C893.8 622.4 892.4 623.5 891.7 625C891 626.5 891.2 628.1 891.7 630C892.2 631.9 894.2 634.6 894.6 636.7C895 638.8 894.9 640.7 894.2 642.5C893.4 644.3 891.8 646.1 890 647.5C888.2 648.9 885.8 649.9 883.3 650.8C880.8 651.8 877.8 652.8 875 653.3C872.2 653.9 870.8 654 866.7 654.2C862.5 654.3 855.3 654 850 654.2C844.7 654.4 839.2 655.1 835 655.4C830.8 655.7 827.5 655.7 825 656C822.5 656.3 822.1 656.8 820 657.2C817.9 657.7 815 657.9 812.5 658.5C810 659.1 807.7 660.8 805 661C802.3 661.2 799.6 664.3 796.2 659.8C792.9 655.2 787.7 638.9 785 633.5C782.3 628.1 781.7 628.9 780 627.2C778.3 625.6 777.3 624.8 775 623.5C772.7 622.2 769.4 620.2 766.2 619.8C763.1 619.3 759.6 620.8 756.2 621C752.9 621.2 747.7 619.5 746.2 621C744.8 622.5 747.4 626.8 747.5 629.8C747.6 632.7 747.7 635.8 746.9 638.5C746 641.2 744.5 644.1 742.5 646C740.5 647.9 738.3 648.7 735 649.8C731.7 650.8 726.7 651.5 722.5 652.2C718.3 653 714.2 653.7 710 654.1C705.8 654.5 701.7 654.7 697.5 654.8C693.3 654.8 689.2 654.6 685 654.5C680.8 654.4 676.7 654.3 672.5 654.1C668.3 653.9 664.2 653.5 660 653.2C655.8 653 651.7 652.8 647.5 652.5C643.3 652.2 639.2 651.9 635 651.6C630.8 651.4 626.7 651.1 622.5 651C618.3 650.9 614.2 650.9 610 650.8C605.8 650.6 601.7 650.3 597.5 650C593.3 649.7 589.2 649.4 585 649.1C580.8 648.9 575.6 648.7 572.5 648.5C569.4 648.3 568.3 647.9 566.2 647.9C564.2 647.9 561.9 647.6 560 648.5C558.1 649.4 556.5 653.3 555 653.5C553.5 653.7 552.9 651.4 551.2 649.8C549.6 648.1 547.7 645.4 545 643.5C542.3 641.6 538.8 639.6 535 638.5C531.2 637.4 526.7 636.8 522.5 636.6C518.3 636.4 514.2 637 510 637.2C505.8 637.5 500.6 638.1 497.5 637.9C494.4 637.7 493.3 636.6 491.2 636C489.2 635.4 488.1 634.2 485 634.1C481.9 634.1 476.7 635 472.5 635.8C468.3 636.5 464.2 637.5 460 638.5C455.8 639.5 451.7 640.9 447.5 641.6C443.3 642.4 439.2 642.4 435 642.9C430.8 643.4 426.7 644 422.5 644.8C418.3 645.5 412.9 646.5 410 647.2C407.1 648 407.5 648.4 405 649C402.5 649.6 398.3 650.5 395 651C391.7 651.5 388.3 651.6 385 652C381.7 652.4 378.3 653.4 375 653.5C371.7 653.6 368.3 652.6 365 652.5C361.7 652.4 358 652.8 355 653C352 653.2 349 653.6 347 654C345 654.4 344.3 655 343 655.5C341.7 656 340.2 657.1 339 657C337.8 656.9 336.8 656.2 336 655C335.2 653.8 335.2 651.8 334 650C332.8 648.2 330.8 645.7 329 644C327.2 642.3 325 641.2 323 640C321 638.8 318.7 638.2 317 637C315.3 635.8 314 634.4 313 633C312 631.6 311.9 629.9 311 628.5C310.1 627.1 309 625.8 307.5 624.5C306 623.2 304.1 621.9 302 621C299.9 620.1 297.2 619.5 295 619C292.8 618.5 292.7 618.2 288.5 618C284.3 617.8 273.1 618 270 618Z" fill="#92e00c" stroke="#000" stroke-width="0.6"/>
<path d="M270 574.8C273 574.8 283.5 574.6 288.1 574.8C292.7 574.9 293.9 575.4 297.5 575.8C301.1 576.1 305.8 576.7 310 577C314.2 577.3 318.3 577.4 322.5 577.5C326.7 577.6 331.2 577.9 335 577.5C338.8 577.1 342.3 576.4 345 575.4C347.7 574.4 349.4 572.7 351.2 571.6C353.1 570.6 354.6 568.7 356.2 569.1C357.9 569.5 359.6 572.7 361.2 574.1C362.9 575.6 364 577.2 366.2 577.9C368.5 578.5 371.9 578.3 375 577.9C378.1 577.5 381.2 576.3 385 575.4C388.8 574.4 393.8 573.2 397.5 572.2C401.2 571.3 404.8 570.8 407.5 569.8C410.2 568.7 411.7 570.5 413.8 566C415.8 561.5 418.1 546.4 420 542.9C421.9 539.4 423.1 544.1 425 545C426.9 545.9 429.4 547.5 431.7 548.3C433.9 549.2 436.1 549.8 438.3 550C440.6 550.2 442.8 549.9 445 549.6C447.2 549.3 449.2 549 451.7 548.3C454.2 547.7 457.2 546.7 460 545.8C462.8 545 466.4 544 468.3 543.3C470.3 542.6 470.3 541.9 471.7 541.7C473.1 541.4 475 541.6 476.7 541.7C478.3 541.7 480.3 541.9 481.7 542.1C483.1 542.2 483.4 541.8 485 542.5C486.6 543.2 489.2 545 491.2 546C493.3 547 495.6 547.9 497.5 548.5C499.4 549.1 500.4 549.8 502.5 549.8C504.6 549.8 506.7 549 510 548.5C513.3 548 518.3 547.1 522.5 546.6C526.7 546.1 530.8 545.6 535 545.4C539.2 545.1 543.3 544.9 547.5 545C551.7 545.1 555.8 545.4 560 545.8C564.2 546.1 568.3 546.7 572.5 547.2C576.7 547.8 580.8 548.6 585 549.1C589.2 549.6 593.3 549.9 597.5 550.4C601.7 550.9 605.8 551.5 610 552C614.2 552.5 618.3 553.2 622.5 553.5C626.7 553.8 631.2 553.6 635 553.8C638.8 553.9 642.1 553.5 645 554.1C647.9 554.7 650 555.9 652.5 557.2C655 558.6 657.5 560.8 660 562.2C662.5 563.7 664.4 565 667.5 566C670.6 567 674.8 567.7 678.8 568.2C682.7 568.8 687.1 568.9 691.2 569.1C695.4 569.3 699.6 569.5 703.8 569.5C707.9 569.5 712.1 569.3 716.2 569.1C720.4 569 725.8 569.2 728.8 568.5C731.7 567.8 732.3 568.3 733.8 564.8C735.2 561.2 736 550.6 737.5 547.2C739 543.9 739.8 545.3 742.5 544.8C745.2 544.2 749.8 543.9 753.8 544.1C757.7 544.3 762.5 545.5 766.2 546C770 546.5 773.1 547.1 776.2 547.2C779.4 547.4 781.5 547 785 546.6C788.5 546.2 793.3 545.1 797.5 544.8C801.7 544.4 805.8 544.4 810 544.5C814.2 544.6 818.3 544.5 822.5 545.4C826.7 546.2 832.4 548.7 835 549.8C837.6 550.8 836.9 550.5 838.3 551.7C839.7 552.8 841.9 554.7 843.3 556.7C844.7 558.6 845.6 561.2 846.7 563.3C847.8 565.4 848.6 567.5 850 569.2C851.4 570.8 853.1 572.2 855 573.3C856.9 574.5 859.2 575.6 861.7 576.2C864.2 576.9 867.2 577.3 870 577.5C872.8 577.7 875.8 577.8 878.3 577.5C880.8 577.2 883.3 576.5 885 575.8C886.7 575.2 886.5 574.2 888.3 573.8C890.1 573.3 891.9 573.3 895.8 573.3C899.8 573.3 906.4 573.7 912.1 573.8C917.8 573.8 927 573.8 930 573.8L930 612.9C927 612.9 916.4 612.8 912.1 612.9C907.8 613 906.9 612.9 904.2 613.3C901.5 613.8 898.5 614.6 895.8 615.4C893.2 616.2 890.7 617.2 888.3 618.3C886 619.5 883.3 621.1 881.7 622.5C880 623.9 878.6 625.3 878.3 626.7C878.1 628.1 879.3 629.3 880 630.8C880.7 632.4 882.4 634.2 882.5 635.8C882.6 637.5 882.1 639.4 880.8 640.8C879.6 642.2 877.4 643.2 875 644.2C872.6 645.1 869.4 646 866.7 646.7C863.9 647.3 861.1 647.6 858.3 647.9C855.6 648.2 852.8 648.3 850 648.3C847.2 648.3 845 647.5 841.7 647.9C838.3 648.4 833.2 650.1 830 651C826.8 651.9 825.4 652.8 822.5 653.5C819.6 654.2 815.4 654.6 812.5 655.4C809.6 656.1 807.6 657.6 805 657.9C802.4 658.2 800.6 661.5 796.9 657.2C793.1 653 785.7 637.5 782.5 632.2C779.3 627 779.2 627.7 777.5 626C775.8 624.3 774.8 623.5 772.5 622.2C770.2 621 766.9 619.3 763.8 618.5C760.6 617.7 757.3 617.5 753.8 617.2C750.2 617 745.6 614.3 742.5 617.2C739.4 620.2 737.3 631.2 735 634.8C732.7 638.3 730.8 637.2 728.8 638.5C726.7 639.8 725.6 641 722.5 642.2C719.4 643.5 714.2 645.1 710 646C705.8 646.9 701.7 647.5 697.5 647.9C693.3 648.3 689.2 648.4 685 648.5C680.8 648.6 676.7 648.4 672.5 648.2C668.3 648.1 664.2 647.8 660 647.5C655.8 647.2 651.7 646.9 647.5 646.6C643.3 646.3 639.2 646 635 645.8C630.8 645.5 626.7 645.3 622.5 645C618.3 644.7 614.2 644.4 610 644.1C605.8 643.8 601.7 643.6 597.5 643.2C593.3 642.9 589.2 642.7 585 642.2C580.8 641.8 576.7 640.9 572.5 640.4C568.3 639.9 562.7 639.2 560 639.1C557.3 639 557.5 639.2 556.2 639.8C555 640.3 554.4 642.7 552.5 642.2C550.6 641.8 547.9 638.7 545 637.2C542.1 635.8 538.8 634.3 535 633.5C531.2 632.7 526.7 632.4 522.5 632.2C518.3 632.1 513.3 632.7 510 632.9C506.7 633.1 504.6 634 502.5 633.5C500.4 633 500.4 630.5 497.5 629.8C494.6 629 489.2 629 485 629.1C480.8 629.3 476.7 630.1 472.5 630.8C468.3 631.4 464.2 632 460 632.9C455.8 633.7 451.7 634.9 447.5 635.8C443.3 636.6 439.2 637.2 435 637.9C430.8 638.5 426.7 638.9 422.5 639.5C418.3 640.1 412.9 641.2 410 641.6C407.1 642 407.5 641.6 405 642C402.5 642.4 398.3 643.3 395 644C391.7 644.7 387.3 645.5 385 646C382.7 646.5 382.7 646.8 381 647C379.3 647.2 377 647.7 375 647.5C373 647.3 370.5 647.1 369 646C367.5 644.9 367 642.5 366 641C365 639.5 364.5 637.7 363 637C361.5 636.3 358.7 636.5 357 637C355.3 637.5 354.2 638.5 353 640C351.8 641.5 351 644.3 350 646C349 647.7 348 648.8 347 650C346 651.2 345 652.8 344 653C343 653.2 342.2 652.3 341 651C339.8 649.7 338.5 647 337 645C335.5 643 334 640.7 332 639C330 637.3 327.3 636.2 325 635C322.7 633.8 319.9 633 318 632C316.1 631 314.5 630.2 313.5 629C312.5 627.8 312.6 626.3 311.8 625C311 623.7 310 622.3 308.5 621.2C307 620.1 305.2 619.1 303 618.2C300.8 617.3 297.4 616.4 295 615.8C292.6 615.2 292.7 614.7 288.5 614.5C284.3 614.3 273.1 614.5 270 614.5Z" fill="#f0f800" stroke="#000" stroke-width="0.6"/>
<path d="M270 577.9C273 577.9 283.5 577.8 288.1 577.9C292.7 577.9 293.9 577.9 297.5 578.2C301.1 578.6 305.8 579.6 310 580C314.2 580.4 318.3 580.4 322.5 580.4C326.7 580.3 331 580.3 335 579.8C339 579.2 343.3 578.2 346.2 577.2C349.2 576.3 350.8 575 352.5 574.1C354.2 573.3 355 571.9 356.2 572.2C357.5 572.6 358.3 574.6 360 576C361.7 577.4 363.1 579.5 366.2 580.4C369.4 581.2 376.2 580.5 378.8 581C381.2 581.5 379.2 583.7 381.2 583.5C383.3 583.3 387.5 581 391.2 579.8C395 578.5 400 577.2 403.8 576C407.5 574.8 411.5 578.1 413.8 572.2C416 566.4 416.2 545.5 417.5 540.8C418.8 536.2 419.9 543.1 421.7 544.2C423.5 545.3 426.1 546.2 428.3 547.5C430.6 548.8 432.5 551 435 551.7C437.5 552.3 440.6 551.5 443.3 551.2C446.1 551 448.9 550.6 451.7 550C454.4 549.4 457.2 548.3 460 547.5C462.8 546.7 466.4 545.5 468.3 545C470.3 544.5 470.3 544.6 471.7 544.6C473.1 544.6 475 544.9 476.7 545C478.3 545.1 480.3 545.5 481.7 545.4C483.1 545.3 483.2 543.7 485 544.6C486.8 545.5 490 549.6 492.5 551C495 552.4 497.1 552.7 500 552.9C502.9 553.1 506.2 552.5 510 552.2C513.8 552 518.3 551.7 522.5 551.6C526.7 551.5 530.8 551.5 535 551.6C539.2 551.8 543.3 552.1 547.5 552.5C551.7 552.9 555.8 553.5 560 554.1C564.2 554.7 568.3 555.4 572.5 556C576.7 556.6 580.8 557.6 585 557.9C589.2 558.2 593.3 557.6 597.5 557.9C601.7 558.2 605.8 559.1 610 559.8C614.2 560.4 618.3 561.2 622.5 561.6C626.7 562 632.3 562.1 635 562C637.7 561.9 637.1 561 638.8 561C640.4 561 643.1 561.4 645 562.2C646.9 563.1 648.3 565 650 566C651.7 567 652.3 567.8 655 568.5C657.7 569.2 662.3 569.9 666.2 570.4C670.2 570.9 673.5 571.4 678.8 571.6C684 571.9 692.3 572 697.5 572C702.7 572 705.8 571.8 710 571.6C714.2 571.5 718.3 571.3 722.5 571C726.7 570.7 732.3 570.4 735 569.8C737.7 569.1 737.7 568.5 738.8 567.2C739.8 566 741 564.1 741.2 562.2C741.5 560.4 740.4 558.1 740 556C739.6 553.9 738.3 550.8 738.8 549.8C739.2 548.7 741.5 548.7 742.5 549.8C743.5 550.8 744.2 554.6 745 556C745.8 557.4 745 557.7 747.5 557.9C750 558.1 756.2 557.6 760 557.2C763.8 556.9 765.8 556.5 770 556C774.2 555.5 780.4 554.5 785 554.1C789.6 553.8 793.3 553.6 797.5 553.8C801.7 553.9 805.8 554 810 554.8C814.2 555.5 818.3 556.6 822.5 558.5C826.7 560.4 831.2 563.7 835 566C838.8 568.3 842.5 570.5 845 572.2C847.5 574 847.8 575.4 850 576.7C852.2 577.9 855.6 578.9 858.3 579.6C861.1 580.3 863.9 580.7 866.7 580.8C869.4 581 872.5 580.7 875 580.4C877.5 580.1 879.9 579.7 881.7 579.2C883.5 578.7 884.2 577.8 885.8 577.5C887.5 577.2 887.3 577.1 891.7 577.1C896 577.1 905.7 577.4 912.1 577.5C918.5 577.6 927 577.5 930 577.5L930 611.2C927 611.2 916.4 611.3 912.1 611.2C907.8 611.2 906.9 610.8 904.2 610.8C901.5 610.9 898.6 611.2 895.8 611.7C893.1 612.2 890.3 612.9 887.5 613.8C884.7 614.6 881.8 615.6 879.2 616.7C876.5 617.7 873.8 618.9 871.7 620C869.6 621.1 867.8 622.2 866.7 623.3C865.6 624.4 865.1 625.3 865 626.7C864.9 628.1 866.4 630.1 866.2 631.7C866.1 633.2 865.5 634.7 864.2 635.8C862.8 636.9 860.7 637.5 858.3 638.3C856 639.2 852.8 640.1 850 640.8C847.2 641.5 845 641.3 841.7 642.5C838.3 643.7 833.2 646.6 830 647.9C826.8 649.2 825.4 649.6 822.5 650.4C819.6 651.1 815.4 651.5 812.5 652.2C809.6 653 807.5 654.3 805 654.8C802.5 655.2 800.8 658.7 797.5 654.8C794.2 650.8 788.1 636 785 631C781.9 626 780.6 626.6 778.8 624.8C776.9 622.9 775.6 621.3 773.8 619.8C771.9 618.2 769.8 616.5 767.5 615.4C765.2 614.2 763.3 613.5 760 612.9C756.7 612.2 751.7 611.5 747.5 611.6C743.3 611.7 738.1 612.8 735 613.5C731.9 614.2 731.2 614.8 728.8 616C726.2 617.2 722.3 619.5 720 621C717.7 622.5 716.2 623.3 715 624.8C713.8 626.2 713.8 628.1 712.5 629.8C711.2 631.4 710 633.1 707.5 634.8C705 636.4 701.2 638.4 697.5 639.8C693.8 641.1 689.2 642.3 685 642.9C680.8 643.5 676.7 643.2 672.5 643.2C668.3 643.3 664.2 643.4 660 643.2C655.8 643.1 651.7 642.8 647.5 642.5C643.3 642.2 639.2 641.9 635 641.6C630.8 641.4 626.7 641.3 622.5 641C618.3 640.7 614.2 640.2 610 639.8C605.8 639.3 601.7 638.8 597.5 638.5C593.3 638.2 589.2 638.5 585 637.9C580.8 637.2 576.7 635.7 572.5 634.8C568.3 633.8 563.8 632.9 560 632.2C556.2 631.6 552.1 630.9 550 631C547.9 631.1 550 633 547.5 632.9C545 632.8 539.2 631 535 630.4C530.8 629.8 526.7 629.2 522.5 629.1C518.3 629 513.1 629.6 510 629.8C506.9 629.9 505.8 630.4 503.8 629.8C501.7 629.1 500.6 626.7 497.5 626C494.4 625.3 489.2 625.3 485 625.4C480.8 625.5 476.7 626.1 472.5 626.6C468.3 627.1 464.2 627.7 460 628.5C455.8 629.3 451.7 630.5 447.5 631.2C443.3 632 439.2 632.4 435 632.9C430.8 633.4 426.7 633.6 422.5 634.1C418.3 634.6 412.9 635.9 410 636C407.1 636.1 407.5 634.6 405 634.5C402.5 634.4 398.3 635.1 395 635.5C391.7 635.9 387.5 636.2 385 637C382.5 637.8 381.7 639.3 380 640C378.3 640.7 377 640.8 375 641C373 641.2 369.5 641.7 368 641C366.5 640.3 366.8 638.3 366 637C365.2 635.7 364.5 633.5 363 633C361.5 632.5 358.7 633.3 357 634C355.3 634.7 354 635.7 353 637C352 638.3 351.8 640.3 351 642C350.2 643.7 349 645.8 348 647C347 648.2 346 649.5 345 649C344 648.5 343.2 645.8 342 644C340.8 642.2 339.2 639.8 338 638C336.8 636.2 336.8 634.2 335 633C333.2 631.8 329.7 631.8 327 631C324.3 630.2 321.2 629.3 319 628.5C316.8 627.7 315.1 627.1 314 626C312.9 624.9 313.3 623.2 312.5 622C311.7 620.8 310.6 619.6 309 618.5C307.4 617.4 305.3 616.4 303 615.5C300.7 614.6 297.4 613.8 295 613.2C292.6 612.6 292.7 612.2 288.5 612C284.3 611.8 273.1 612 270 612Z" fill="#ffb400" stroke="#000" stroke-width="0.6"/>
<path d="M270 580C273 580 283.5 579.9 288.1 580C292.7 580.1 293.9 580 297.5 580.4C301.1 580.8 306.9 581.6 310 582.2C313.1 582.9 314.2 584 316.2 584.1C318.3 584.2 319.4 583.3 322.5 582.9C325.6 582.5 330.8 582.2 335 581.6C339.2 581 344.4 580.1 347.5 579.1C350.6 578.2 352.3 576.7 353.8 576C355.2 575.3 355.6 573.9 356.2 574.8C356.9 575.6 356.9 579.1 357.5 581C358.1 582.9 358.8 585.6 360 586C361.2 586.4 362.9 583.9 365 583.5C367.1 583.1 370.2 583.7 372.5 583.5C374.8 583.3 377.3 581.8 378.8 582.2C380.2 582.7 379.2 586 381.2 586C383.3 586 387.5 583.5 391.2 582.2C395 581 399.8 579.8 403.8 578.5C407.7 577.2 412.6 578.1 415 574.8C417.4 571.4 416.7 561.6 418.3 558.3C420 555 422.8 556 425 555C427.2 554 429.7 552.5 431.7 552.5C433.6 552.5 434.7 554.9 436.7 555C438.6 555.1 440.8 553.9 443.3 553.3C445.8 552.8 448.9 552.2 451.7 551.7C454.4 551.1 457.2 550.4 460 550C462.8 549.6 466.2 549.2 468.3 549.2C470.4 549.2 471.1 549.8 472.5 550C473.9 550.2 475.1 550.4 476.7 550.4C478.2 550.4 480.3 550.1 481.7 550C483.1 549.9 483.4 549.4 485 550C486.6 550.6 489.2 552.5 491.2 553.5C493.3 554.5 495.6 555.7 497.5 556C499.4 556.3 500.4 555.4 502.5 555.4C504.6 555.4 506.7 555.8 510 556C513.3 556.2 518.3 556.4 522.5 556.6C526.7 556.8 530.8 557 535 557.2C539.2 557.5 543.3 557.8 547.5 558.2C551.7 558.7 555.8 559.2 560 559.8C564.2 560.3 568.3 561 572.5 561.6C576.7 562.2 580.8 562.8 585 563.5C589.2 564.2 593.3 565.2 597.5 566C601.7 566.8 606.2 567.7 610 568.5C613.8 569.3 617.5 570.2 620 571C622.5 571.8 622.5 572.9 625 573.5C627.5 574.1 631.2 574.3 635 574.5C638.8 574.7 643.3 574.7 647.5 574.8C651.7 574.8 653.8 575 660 575C666.2 575 676.7 574.8 685 574.8C693.3 574.7 701.7 574.6 710 574.5C718.3 574.4 730.2 576.6 735 574.1C739.8 571.7 737.5 561.7 738.8 559.8C740 557.8 741 561.8 742.5 562.2C744 562.7 744.6 562.6 747.5 562.2C750.4 561.9 756.5 560.9 760 560.4C763.5 559.9 765.6 559 768.8 559.1C771.9 559.2 775 560.4 778.8 561C782.5 561.6 787.1 562.2 791.2 562.9C795.4 563.5 799.6 563.8 803.8 564.8C807.9 565.7 812.1 567 816.2 568.5C820.4 570 824.6 571.8 828.8 573.5C832.9 575.2 837.7 577.3 841.2 578.5C844.8 579.7 847.2 580.2 850 580.8C852.8 581.5 855.6 582.1 858.3 582.5C861.1 582.9 863.9 583.3 866.7 583.3C869.4 583.4 872.2 583.2 875 582.9C877.8 582.6 881.4 582.3 883.3 581.7C885.3 581 885.8 579.7 886.7 579.2C887.5 578.6 886.8 578.5 888.3 578.3C889.9 578.2 891.9 578.2 895.8 578.3C899.8 578.5 906.4 579 912.1 579.2C917.8 579.3 927 579.2 930 579.2L930 609.6C927 609.6 915.7 609.7 912.1 609.6C908.5 609.5 910.3 609.3 908.3 609.2C906.3 609 902.8 608.7 900 608.8C897.2 608.8 894.4 609.2 891.7 609.6C888.9 610 886.1 610.6 883.3 611.2C880.6 611.9 877.8 612.6 875 613.3C872.2 614 869.4 614.7 866.7 615.4C863.9 616.1 860.7 616.7 858.3 617.5C856 618.3 854 618.8 852.5 620C851 621.2 850.3 622.8 849.2 625C848.1 627.2 847.1 631.4 845.8 633.3C844.6 635.3 843.6 635.4 841.7 636.7C839.7 637.9 836.1 639.4 834.2 640.8C832.2 642.3 831.9 644.2 830 645.4C828.1 646.5 825.4 647.2 822.5 647.9C819.6 648.5 815.4 648.6 812.5 649.1C809.6 649.6 807.3 652.6 805 651C802.7 649.4 800.6 642.2 798.8 639.8C796.9 637.2 795.6 637.5 793.8 636C791.9 634.5 789.4 632.9 787.5 631C785.6 629.1 784.2 626.8 782.5 624.8C780.8 622.7 779.2 620.4 777.5 618.5C775.8 616.6 774.2 614.9 772.5 613.5C770.8 612.1 769.6 611.5 767.5 610.4C765.4 609.2 763.3 607.8 760 606.6C756.7 605.5 751.7 604.4 747.5 603.5C743.3 602.6 739.2 601.5 735 601C730.8 600.5 726.7 600.7 722.5 600.4C718.3 600.1 714.2 599.4 710 599.1C705.8 598.8 702.7 598.6 697.5 598.5C692.3 598.4 684 598.4 678.8 598.5C673.5 598.6 669.9 598.8 666.2 599.1C662.6 599.4 656.9 599.9 656.9 600.4C656.9 600.9 662.6 601.7 666.2 602.2C669.9 602.8 673.5 603.2 678.8 603.5C684 603.8 692.3 603.9 697.5 604.1C702.7 604.3 706.9 604.5 710 604.8C713.1 605 715 605.3 716.2 605.8C717.5 606.2 718.5 606.7 717.5 607.2C716.5 607.8 712.9 608.5 710 609.1C707.1 609.8 702.7 610.3 700 611C697.3 611.7 695.3 612.2 693.8 613.5C692.2 614.8 691.2 616.8 690.6 618.5C690 620.2 690.3 621.6 690 623.5C689.7 625.4 690 628.1 688.8 629.8C687.5 631.4 685.2 632.6 682.5 633.5C679.8 634.4 676.2 634.9 672.5 635.4C668.8 635.9 664.2 636.3 660 636.6C655.8 636.9 651.7 637.2 647.5 637.2C643.3 637.2 641.2 637 635 636.6C628.8 636.2 616.2 635.3 610 634.8C603.8 634.2 601.7 633.5 597.5 633.5C593.3 633.5 589.2 635.1 585 634.8C580.8 634.4 576.7 632.5 572.5 631.6C568.3 630.8 564.2 630.4 560 629.8C555.8 629.1 550.4 628.3 547.5 627.9C544.6 627.5 544.6 626.9 542.5 627.2C540.4 627.6 537.1 629.9 535 629.8C532.9 629.6 532.1 627.6 530 626.6C527.9 625.7 525.4 624.4 522.5 624.1C519.6 623.8 515.4 625 512.5 624.8C509.6 624.5 507.5 623.5 505 622.9C502.5 622.2 500.8 621.2 497.5 621C494.2 620.8 491.2 621 485 621.6C478.8 622.2 468.3 623.4 460 624.8C451.7 626.1 443.3 629 435 629.8C426.7 630.5 415 629.2 410 629.1C405 629.1 407.5 629.6 405 629.5C402.5 629.4 398.3 628.9 395 628.5C391.7 628.1 387.3 627.3 385 627C382.7 626.7 382 626 381 626.5C380 627 380 628.5 379 630C378 631.5 376.3 634.2 375 635.5C373.7 636.8 372.1 637.2 371 637.5C369.9 637.8 369.2 637.6 368.5 637C367.8 636.4 367.6 635.2 367 634C366.4 632.8 365.8 631 365 630C364.2 629 363.3 628 362 628C360.7 628 358.7 629 357 630C355.3 631 353.5 632.8 352 634C350.5 635.2 349.2 637 348 637C346.8 637 346.2 635.2 345 634C343.8 632.8 342.7 630.9 341 630C339.3 629.1 337.3 628.9 335 628.5C332.7 628.1 329.5 627.9 327 627.5C324.5 627.1 322.1 626.7 320 626C317.9 625.3 315.7 624.7 314.5 623.5C313.3 622.3 313.9 620.3 313 619C312.1 617.7 310.7 616.5 309 615.5C307.3 614.5 305.3 613.8 303 613C300.7 612.2 297.4 611.1 295 610.5C292.6 609.9 292.7 609.7 288.5 609.5C284.3 609.3 273.1 609.5 270 609.5Z" fill="#ff6000" stroke="#000" stroke-width="0.6"/>
<path d="M270 582C273 582 283.5 582 288.1 582C292.7 582 293.9 581.8 297.5 582.2C301.1 582.7 306.9 583.9 310 584.5C313.1 585.1 314.2 586 316.2 586C318.3 586 319.4 585.2 322.5 584.8C325.6 584.3 330.8 584.1 335 583.5C339.2 582.9 344.2 582.1 347.5 581C350.8 579.9 353.4 576.6 355 576.6C356.6 576.6 356.2 579.4 356.9 581C357.5 582.6 357.4 585.5 358.8 586C360.1 586.5 362.7 584.1 365 584.1C367.3 584.1 369.6 584.6 372.5 586C375.4 587.4 379.4 591.6 382.5 592.2C385.6 592.9 387.7 590.8 391.2 589.8C394.8 588.7 399.6 587.5 403.8 586C407.9 584.5 413.8 582.9 416.2 581C418.8 579.1 417.9 576.8 418.8 574.8C419.6 572.7 419.6 569.8 421.2 568.5C422.9 567.2 426.5 565.2 428.8 567.2C431 569.3 431.9 579.3 435 581C438.1 582.7 444.2 578.7 447.5 577.2C450.8 575.8 454 574.1 455 572.2C456 570.4 454.4 567.9 453.8 566C453.1 564.1 451.2 562.9 451.2 561C451.2 559.1 452.3 556 453.8 554.8C455.2 553.5 458.3 553.3 460 553.5C461.7 553.7 461.7 555.7 463.8 556C465.8 556.3 469 555.6 472.5 555.4C476 555.2 481.9 554 485 554.8C488.1 555.5 489.2 558.5 491.2 559.8C493.3 561 495.6 562.7 497.5 562.2C499.4 561.8 500.4 557.7 502.5 557.2C504.6 556.8 506.7 559 510 559.8C513.3 560.5 518.3 561.1 522.5 561.6C526.7 562.1 530.8 562.4 535 562.9C539.2 563.4 543.3 564 547.5 564.8C551.7 565.5 555.8 566.2 560 567.2C564.2 568.3 568.3 569.8 572.5 571C576.7 572.2 580.8 573.8 585 574.8C589.2 575.7 593.3 576.1 597.5 576.6C601.7 577.1 605.8 577.6 610 577.9C614.2 578.2 618.3 578.4 622.5 578.5C626.7 578.6 628.8 578.8 635 578.8C641.2 578.8 651.7 578.6 660 578.5C668.3 578.4 676.7 578 685 577.9C693.3 577.7 701.7 577.6 710 577.5C718.3 577.4 730 578.8 735 577.2C740 575.8 738.8 571 740 568.5C741.2 566 742.3 564 742.5 562.2C742.7 560.5 740.8 558.1 741.2 557.9C741.7 557.7 743.5 559.6 745 561C746.5 562.4 747.9 565 750 566C752.1 567 755.6 567.9 757.5 567.2C759.4 566.6 760.2 562.2 761.2 562.2C762.3 562.2 763.5 565.8 763.8 567.2C764 568.7 761.5 570.2 762.5 571C763.5 571.8 767.3 571.5 770 572.2C772.7 573 775.8 574.5 778.8 575.4C781.7 576.2 784.4 576.6 787.5 577.2C790.6 577.9 794.6 579.1 797.5 579.1C800.4 579.1 802.1 577.5 805 577.2C807.9 577 812.1 577.5 815 577.9C817.9 578.3 819.6 579.2 822.5 579.8C825.4 580.3 829.3 580.3 832.5 581C835.7 581.7 838.8 583 841.7 583.8C844.6 584.5 847.2 585 850 585.4C852.8 585.9 855.6 586.3 858.3 586.5C861.1 586.7 863.9 586.7 866.7 586.7C869.4 586.6 872.2 586.5 875 586.2C877.8 586 881.1 585.6 883.3 585C885.6 584.4 887.2 583.2 888.3 582.5C889.4 581.8 888.8 581.2 890 580.8C891.2 580.5 893.5 580.4 895.8 580.4C898.2 580.4 901.5 580.7 904.2 580.8C906.9 581 907.8 581.2 912.1 581.2C916.4 581.3 927 581.2 930 581.2L930 605.7C927 605.7 916.4 605.8 912.1 605.7C907.8 605.5 906.9 605.1 904.2 604.8C901.5 604.6 898.6 604.3 895.8 604.3C893.1 604.3 890.3 604.5 887.5 604.8C884.7 605.2 881.9 605.7 879.2 606.2C876.4 606.8 873.6 607.4 870.8 607.9C868.1 608.4 865 608.8 862.5 609.2C860 609.5 857.2 609 855.8 610C854.4 611 855 613.5 854.2 615C853.3 616.5 851.8 617.8 850.8 619.2C849.9 620.6 849 621.5 848.3 623.3C847.6 625.1 847.4 627.9 846.7 630C846 632.1 845.3 634.4 844.2 635.8C843.1 637.2 842.2 637.7 840 638.3C837.8 639 834.2 639.4 831.2 639.8C828.3 640.1 826 640.1 822.5 640.4C819 640.7 813.1 641 810 641.6C806.9 642.2 804.9 644.9 803.8 644.1C802.6 643.4 803.8 638.8 803.1 637.2C802.5 635.7 801.6 636 800 634.8C798.4 633.5 795.8 631.2 793.8 629.8C791.7 628.3 789.4 627.2 787.5 626C785.6 624.8 784 623.7 782.5 622.2C781 620.8 780 618.9 778.8 617.2C777.5 615.6 776.5 613.7 775 612.2C773.5 610.8 772.5 610 770 608.5C767.5 607 763.8 605 760 603.5C756.2 602 751.7 600.6 747.5 599.8C743.3 598.9 739.2 599.1 735 598.5C730.8 597.9 726.7 596.5 722.5 596C718.3 595.5 714.2 595.5 710 595.4C705.8 595.2 701.7 595 697.5 595C693.3 595 689.2 595.1 685 595.1C680.8 595.2 676.7 595.3 672.5 595.4C668.3 595.5 664.2 595.6 660 595.8C655.8 595.9 651.7 596 647.5 596.2C643.3 596.5 639.2 596.8 635 597.2C630.8 597.7 625.4 598.5 622.5 599.1C619.6 599.8 617.5 600.4 617.5 601C617.5 601.6 619.6 602 622.5 602.9C625.4 603.7 630.8 604.8 635 606C639.2 607.2 643.3 609 647.5 610.4C651.7 611.7 656.5 613 660 614.1C663.5 615.3 667.1 616.3 668.8 617.2C670.4 618.2 670 618.5 670 619.8C670 621 669.6 623.1 668.8 624.8C667.9 626.4 667.3 628.4 665 629.8C662.7 631.1 660 632.5 655 632.9C650 633.3 642.5 632.6 635 632.2C627.5 631.9 616.2 631.3 610 631C603.8 630.7 601.7 630.4 597.5 630.4C593.3 630.4 589.2 631.3 585 631C580.8 630.7 576.7 629.2 572.5 628.5C568.3 627.8 564.2 627.2 560 626.6C555.8 626 550.6 625.3 547.5 624.8C544.4 624.2 542.7 624.1 541.2 623.5C539.8 622.9 539.8 620.6 538.8 621C537.7 621.4 536.5 625.8 535 626C533.5 626.2 532.1 623.2 530 622.2C527.9 621.3 525.8 620.9 522.5 620.4C519.2 619.9 512.9 619.4 510 619.1C507.1 618.8 507.1 618.7 505 618.5C502.9 618.3 500.8 617.9 497.5 617.9C494.2 617.9 489.2 618.2 485 618.5C480.8 618.8 476.7 619.2 472.5 619.8C468.3 620.3 464.2 621 460 621.6C455.8 622.2 451.7 622.9 447.5 623.5C443.3 624.1 439.2 625.1 435 625.4C430.8 625.6 426.7 625.1 422.5 625C418.3 624.9 412.9 624.9 410 624.8C407.1 624.6 408.3 624.4 405 624C401.7 623.6 394.2 622.8 390 622.5C385.8 622.2 383 621.9 380 622C377 622.1 374.5 622.7 372 623C369.5 623.3 367 623.5 365 624C363 624.5 361.7 625.4 360 626C358.3 626.6 356.7 627.4 355 627.5C353.3 627.6 351.7 627 350 626.5C348.3 626 346.5 625.3 345 624.5C343.5 623.7 343 621.8 341 621.5C339 621.2 335.7 622.2 333 622.5C330.3 622.8 327.5 623 325 623C322.5 623 319.7 623 318 622.5C316.3 622 315.8 621.1 315 620C314.2 618.9 314 617.2 313 616C312 614.8 310.7 613.5 309 612.5C307.3 611.5 305.3 610.8 303 610C300.7 609.2 297.4 608.2 295 607.5C292.6 606.8 292.7 606.2 288.5 606C284.3 605.8 273.1 606 270 606Z" fill="#ff0000" stroke="#000" stroke-width="0.6"/>
<path d="M356.2 574.8C357 573.9 359.8 577 362.5 578.5C365.2 580 369.6 582.8 372.5 583.5C375.4 584.2 379 582.2 380 582.9C381 583.5 379.6 585.9 378.8 587.2C377.9 588.6 376.2 589.5 375 591C373.8 592.5 372.7 594.3 371.2 596C369.8 597.7 367.9 599.3 366.2 601C364.6 602.7 362.5 604.3 361.2 606C360 607.7 359 608.9 358.8 611C358.5 613.1 359.5 616.2 360 618.5C360.5 620.8 360.8 623.3 361.9 624.8C362.9 626.2 364.5 627.5 366.2 627.2C368 627 371.2 625 372.5 623.5C373.8 622 373.8 620.2 373.8 618.5C373.8 616.8 372.7 615.2 372.5 613.5C372.3 611.8 372.1 610.2 372.5 608.5C372.9 606.8 373.5 605.6 375 603.5C376.5 601.4 380.8 597.7 381.2 596C381.7 594.3 379 594.5 377.5 593.5C376 592.5 374.2 590.6 372.5 589.8C370.8 588.9 369.4 588.9 367.5 588.5C365.6 588.1 362.8 588.1 361.2 587.2C359.7 586.4 359 585.6 358.1 583.5C357.3 581.4 355.5 575.6 356.2 574.8Z" fill="#ff6000" stroke="#000" stroke-width="0.6"/>
<path d="M368 619C368.2 617.6 370.7 617.3 372 617.5C373.3 617.7 374.8 619.2 376 620C377.2 620.8 378.7 620.8 379 622C379.3 623.2 378.7 625 378 627C377.3 629 376.2 632.5 375 634C373.8 635.5 372.2 636 371 636C369.8 636 368 635 367.5 634C367 633 367.4 631.3 368 630C368.6 628.7 371 627.8 371 626C371 624.2 367.8 620.4 368 619Z" fill="#ff0000" stroke="#000" stroke-width="0.6"/>
<path d="M375 592C373.8 593.5 371.7 595.3 370 597C368.3 598.7 366.5 600.5 365 602C363.5 603.5 362 604.7 361 606C360 607.3 359.2 608.7 359 610C358.8 611.3 359.1 612.5 359.5 614C359.9 615.5 361.1 617.3 361.5 619C361.9 620.7 362.1 622.7 362 624C361.9 625.3 360.5 626 361 627C361.5 628 363.8 628.8 365 630C366.2 631.2 366.8 635.2 368 634C369.2 632.8 371.2 626 372 623C372.8 620 373 618 373 616C373 614 372 612.7 372 611C372 609.3 372.2 607.7 373 606C373.8 604.3 375.5 602.7 377 601C378.5 599.3 380.5 597.5 382 596C383.5 594.5 385.5 593.3 386 592C386.5 590.7 386.5 588.7 385 588C383.5 587.3 378.7 587.3 377 588C375.3 588.7 376.2 590.5 375 592Z" fill="#ff6000" stroke="#000" stroke-width="0.6"/>
<path d="M368 619C368.2 617.6 370.7 617.3 372 617.5C373.3 617.7 374.8 619.2 376 620C377.2 620.8 378.7 620.8 379 622C379.3 623.2 378.7 625 378 627C377.3 629 376.2 632.5 375 634C373.8 635.5 372.2 636 371 636C369.8 636 368 635 367.5 634C367 633 367.4 631.3 368 630C368.6 628.7 371 627.8 371 626C371 624.2 367.8 620.4 368 619Z" fill="#ff0000" stroke="#000" stroke-width="0.6"/>
<path d="M281 640C282.2 635.6 286.7 639 288.5 640C290.3 641 290.6 643.7 292 646C293.4 648.3 295.7 651.8 297 654C298.3 656.2 299.8 657.5 300 659C300.2 660.5 299.2 662 298 663C296.8 664 294.6 664.4 293 665C291.4 665.6 290.5 666.2 288.5 666.5C286.5 666.8 282.2 670.9 281 666.5C279.8 662.1 279.8 644.4 281 640Z" fill="#0a8c3e" stroke="#000" stroke-width="0.6"/>
<path d="M656.9 600.4C656.9 599.9 662.6 599.4 666.2 599.1C669.9 598.8 673.5 598.6 678.8 598.5C684 598.4 692.3 598.4 697.5 598.5C702.7 598.6 706.7 598.8 710 599.1C713.3 599.4 717.5 599.9 717.5 600.4C717.5 600.9 713.3 601.6 710 602C706.7 602.4 702.7 602.7 697.5 602.9C692.3 603 684 603 678.8 602.9C673.5 602.7 669.9 602.4 666.2 602C662.6 601.6 656.9 600.9 656.9 600.4Z" fill="#ffb400" stroke="#000" stroke-width="0.6"/>
<path d="M435 562.2C437.3 561.5 440 560.6 442.5 560.4C445 560.2 448.1 560.1 450 561C451.9 561.9 452.9 564.1 453.8 566C454.6 567.9 456 570.4 455 572.2C454 574.1 450.8 575.8 447.5 577.2C444.2 578.7 438.3 580.4 435 581C431.7 581.6 429.2 582.5 427.5 581C425.8 579.5 424.8 575 425 572.2C425.2 569.5 427.1 566.4 428.8 564.8C430.4 563.1 432.7 563 435 562.2Z" fill="#ff6000" stroke="#000" stroke-width="0.6"/>
<path d="M440 568.5C440.4 567.5 442.3 566 443.8 565.4C445.2 564.8 447.5 564.3 448.8 564.8C450 565.2 451.5 566.8 451.2 567.9C451 568.9 449.2 570.4 447.5 571C445.8 571.6 442.5 572 441.2 571.6C440 571.2 439.6 569.5 440 568.5Z" fill="#ffb400" stroke="#000" stroke-width="0.6"/>
<path d="M470.6 547.2C471.1 546.4 472.5 545.1 473.8 544.8C475 544.4 476.9 544.8 478.1 545.4C479.4 546 481.1 547.5 481.2 548.5C481.4 549.5 480 551 478.8 551.6C477.5 552.2 475.1 552.6 473.8 552.2C472.4 551.9 471.1 550.6 470.6 549.8C470.1 548.9 470.1 548.1 470.6 547.2Z" fill="#ffb400" stroke="#000" stroke-width="0.6"/>
<path d="M424.2 537.5C424.4 536.8 426.9 536.5 428.3 535.8C429.7 535.1 431.4 534.2 432.5 533.3C433.6 532.5 433.8 531.5 435 530.8C436.2 530.1 438.3 529.9 440 529.2C441.7 528.5 443.8 527.5 445 526.7C446.2 525.8 447.8 525 447.5 524.2C447.2 523.3 444.2 522.8 443.3 521.7C442.5 520.6 442.2 518.9 442.5 517.5C442.8 516.1 444 514 445 513.3C446 512.6 447.2 512.8 448.3 513.3C449.4 513.9 450.3 515.9 451.7 516.7C453.1 517.4 454.9 517.9 456.7 517.9C458.5 517.9 460.8 516.5 462.5 516.7C464.2 516.9 465.4 518.2 466.7 519.2C467.9 520.1 468.6 521.7 470 522.5C471.4 523.3 473.6 523.8 475 524.2C476.4 524.6 478.1 524.4 478.3 525C478.6 525.6 477.6 526.8 476.7 527.5C475.7 528.2 473.9 528.6 472.5 529.2C471.1 529.7 469.6 530 468.3 530.8C467.1 531.7 465.8 532.9 465 534.2C464.2 535.4 464.4 537.4 463.3 538.3C462.2 539.3 460.3 539.4 458.3 540C456.4 540.6 453.9 541 451.7 541.7C449.4 542.4 447.2 543.6 445 544.2C442.8 544.7 440.6 545.3 438.3 545C436.1 544.7 433.6 543.3 431.7 542.5C429.7 541.7 427.9 540.8 426.7 540C425.4 539.2 423.9 538.2 424.2 537.5Z" fill="#0000f0" stroke="#000" stroke-width="0.6"/>
<path d="M417.1 533.8C417.2 533.1 418.1 532.2 418.8 532.1C419.4 532 420.6 532.8 420.8 533.3C421.1 533.9 420.8 535 420.4 535.4C420 535.9 418.9 536.3 418.3 536C417.8 535.7 417 534.4 417.1 533.8Z" fill="#0000f0" stroke="#000" stroke-width="0.6"/>
<path d="M277.5 547.2C279.3 544.3 284.8 546.8 288.1 547.2C291.5 547.7 293.9 548.5 297.5 549.8C301.1 551 305.8 553.1 310 554.8C314.2 556.4 319.4 558.7 322.5 559.8C325.6 560.8 326.2 561.2 328.8 561C331.2 560.8 334.8 559.5 337.5 558.5C340.2 557.5 342.7 555.8 345 554.8C347.3 553.7 349.6 552.5 351.2 552.2C352.9 552 353.8 552.9 355 553.5C356.2 554.1 358.8 555.3 358.8 556C358.8 556.7 356.2 557.1 355 557.9C353.8 558.6 352.9 559.2 351.2 560.4C349.6 561.5 347.7 563.6 345 564.8C342.3 565.9 338.8 566.8 335 567.2C331.2 567.7 326.7 567.4 322.5 567.2C318.3 567.1 314.2 566.8 310 566.6C305.8 566.4 301.1 566.3 297.5 566C293.9 565.7 291.5 565 288.1 564.8C284.8 564.5 279.3 567.7 277.5 564.8C275.7 561.8 275.7 550.2 277.5 547.2Z" fill="#074e92" stroke="#000" stroke-width="0.6"/>
<path d="M895.8 554.2C896.1 555.4 897.9 557.2 900 558.3C902.1 559.4 905.6 560.3 908.3 560.8C911.1 561.3 915.3 563.6 916.7 561.2C918.1 558.9 918.1 549.1 916.7 546.7C915.3 544.2 910.6 546.4 908.3 546.7C906.1 546.9 905 547.6 903.3 548.3C901.7 549 899.6 549.9 898.3 550.8C897.1 551.8 895.6 552.9 895.8 554.2Z" fill="#074e92" stroke="#000" stroke-width="0.6"/>
<path d="M333.1 539.8C333.5 538.7 335.7 537.3 337.5 537C339.3 536.7 341.9 537 343.8 537.9C345.6 538.8 348.1 541 348.8 542.2C349.4 543.5 349 544.8 347.5 545.4C346 546 342.1 546.3 340 546C337.9 545.7 336.1 544.5 335 543.5C333.9 542.5 332.7 540.8 333.1 539.8Z" fill="#074e92" stroke="#000" stroke-width="0.6"/>
<path d="M371.2 544.1C371.7 543.3 373.5 542.6 375 543.5C376.5 544.4 378.3 547.9 380 549.8C381.7 551.6 384.6 553.5 385 554.8C385.4 556 383.8 557.5 382.5 557.2C381.2 557 379.2 555 377.5 553.5C375.8 552 373.5 550.1 372.5 548.5C371.5 546.9 370.8 545 371.2 544.1Z" fill="#074e92" stroke="#000" stroke-width="0.6"/>
<path d="M382.5 546C382.7 544.9 386.7 542 388.8 541.6C390.8 541.2 393.1 543.1 395 543.5C396.9 543.9 398.3 543.5 400 544.1C401.7 544.8 404.6 546.1 405 547.2C405.4 548.4 404.2 550.6 402.5 551C400.8 551.4 397.5 550.2 395 549.8C392.5 549.3 389.6 549.1 387.5 548.5C385.4 547.9 382.3 547.1 382.5 546Z" fill="#074e92" stroke="#000" stroke-width="0.6"/>
<path d="M385 542.5C385.8 541.8 388.3 541.4 390 541.7C391.7 541.9 393.1 543.6 395 544.2C396.9 544.7 400 544.6 401.7 545C403.3 545.4 404.7 545.8 405 546.7C405.3 547.5 404.4 549.3 403.3 550C402.2 550.7 400 551 398.3 550.8C396.7 550.7 395 549.9 393.3 549.2C391.7 548.5 389.7 547.2 388.3 546.7C386.9 546.1 385.6 546.5 385 545.8C384.4 545.1 384.2 543.2 385 542.5Z" fill="#074e92" stroke="#000" stroke-width="0.6"/>
<path d="M877.1 560C877.7 558.8 879.8 557.4 881.7 555.8C883.5 554.3 886.7 552.4 888.3 550.8C890 549.3 890.7 548.2 891.7 546.7C892.6 545.1 893.1 543.1 894.2 541.7C895.3 540.3 897.1 538.9 898.3 538.3C899.6 537.8 901 537.9 901.7 538.3C902.4 538.8 902.8 539.6 902.5 540.8C902.2 542.1 901 544.3 900 545.8C899 547.4 898.1 548.8 896.7 550C895.3 551.2 893.1 551.8 891.7 553.3C890.3 554.9 889.2 557.5 888.3 559.2C887.5 560.8 887.8 562.5 886.7 563.3C885.6 564.2 883.1 564.2 881.7 564.2C880.2 564.1 878.7 563.6 877.9 562.9C877.2 562.2 876.5 561.2 877.1 560Z" fill="#074e92" stroke="#000" stroke-width="0.6"/>
<path d="M710 526C711 523.9 715 521.6 717.5 521C720 520.4 722.7 521.2 725 522.2C727.3 523.3 730.2 525.4 731.2 527.2C732.3 529.1 731.9 532.2 731.2 533.5C730.6 534.8 729 535.2 727.5 534.8C726 534.3 724.4 530.8 722.5 531C720.6 531.2 718.1 535.6 716.2 536C714.4 536.4 712.3 535.2 711.2 533.5C710.2 531.8 709 528.1 710 526Z" fill="#074e92" stroke="#000" stroke-width="0.6"/>
<path d="M288.1 524.8C288.9 523.2 291.1 524.6 292.5 525C293.9 525.4 295.8 526 296.2 527.2C296.7 528.5 296 531.1 295 532.2C294 533.4 291.1 533.8 290 534.1C288.9 534.4 288.4 535.7 288.1 534.1C287.8 532.6 287.4 526.3 288.1 524.8Z" fill="#32c010" stroke="#000" stroke-width="0.6"/>
<path d="M322.5 524.1C323.3 523.8 326.7 524.9 328.8 525.4C330.8 525.9 334.4 526.3 335 527.2C335.6 528.2 333.8 530.6 332.5 531C331.2 531.4 329 530.4 327.5 529.8C326 529.1 324.6 528.2 323.8 527.2C322.9 526.3 321.7 524.4 322.5 524.1Z" fill="#32c010" stroke="#000" stroke-width="0.6"/>
<path d="M341.2 531C342.8 530.2 346.9 529.5 350 528.5C353.1 527.5 357.3 525.7 360 524.8C362.7 523.8 364.2 523 366.2 522.9C368.3 522.8 371 522.8 372.5 524.1C374 525.5 374.2 529 375 531C375.8 533 375.4 535.1 377.5 536C379.6 536.9 386.2 536.2 387.5 536.6C388.8 537 387.1 538.3 385 538.5C382.9 538.7 378.1 538.6 375 537.9C371.9 537.1 369.6 534.8 366.2 534.1C362.9 533.5 358.5 533.9 355 534.1C351.5 534.3 347.4 535.5 345 535.4C342.6 535.3 341.2 534.2 340.6 533.5C340 532.8 339.7 531.8 341.2 531Z" fill="#32c010" stroke="#000" stroke-width="0.6"/>
<path d="M288.8 537.9C290.2 537 294.4 536.8 297.5 536.6C300.6 536.4 305.6 536.2 307.5 536.6C309.4 537 310.4 538.4 308.8 539.1C307.1 539.9 300.8 540.6 297.5 541C294.2 541.4 290.2 542.1 288.8 541.6C287.3 541.1 287.3 538.7 288.8 537.9Z" fill="#32c010" stroke="#000" stroke-width="0.6"/>
<path d="M902.5 525.8C904.7 524.8 914.3 523.8 916.7 525.4C919 527.1 918.3 534.2 916.7 535.8C915 537.5 908.9 536.1 906.7 535.4C904.4 534.7 904 533.3 903.3 531.7C902.6 530.1 900.3 526.9 902.5 525.8Z" fill="#32c010" stroke="#000" stroke-width="0.6"/>
<path d="M406.7 530C407.1 529.1 408.5 528.1 410 527.5C411.5 526.9 414.4 526.5 415.8 526.7C417.2 526.9 418.2 527.9 418.3 528.8C418.5 529.6 417.8 530.9 416.7 531.7C415.6 532.4 413.2 533.1 411.7 533.3C410.1 533.5 408.3 533.5 407.5 532.9C406.7 532.4 406.2 530.9 406.7 530Z" fill="#32c010" stroke="#000" stroke-width="0.6"/>
<path d="M542.5 670.4C543 669.8 544.6 669.7 545.6 669.8C546.7 669.8 548.3 669.9 548.8 670.8C549.2 671.6 548.8 673.9 548.1 674.8C547.5 675.6 545.9 676.2 545 676C544.1 675.8 543.2 674.4 542.8 673.5C542.3 672.6 542 671 542.5 670.4Z" fill="#0a8c3e" stroke="#000" stroke-width="0.6"/>
<path d="M580 679.8C580 678.8 581.5 676.9 582.5 676C583.5 675.1 585.2 674.1 586.2 674.1C587.3 674.1 588.8 675.1 588.8 676C588.8 676.9 587.3 678.8 586.2 679.8C585.2 680.7 583.5 681.6 582.5 681.6C581.5 681.6 580 680.7 580 679.8Z" fill="#0a8c3e" stroke="#000" stroke-width="0.6"/>
<path d="M298.8 637.2C299.9 636.5 302.7 634.8 305 635.4C307.3 636 310.4 638.8 312.5 641C314.6 643.2 316.6 646.5 317.5 648.5C318.4 650.5 318.8 651.9 318.1 652.9C317.5 653.8 315.5 654.4 313.8 654.1C312 653.8 309.6 652.6 307.5 651C305.4 649.4 302.8 646.6 301.2 644.8C299.7 642.9 298.5 641 298.1 639.8C297.7 638.5 297.6 638 298.8 637.2Z" fill="#0000f0" stroke="#000" stroke-width="0.6"/>
<path d="M769.4 631.6C769.8 630.4 771.1 628.8 772.5 627.9C773.9 627 775.6 626.3 777.5 626.2C779.4 626.2 781.9 626.6 783.8 627.5C785.6 628.4 787.5 630.1 788.8 631.6C790 633.1 790.7 634.9 791.2 636.6C791.8 638.4 791.9 640.1 791.9 642.2C791.9 644.4 791.8 647 791.2 649.8C790.7 652.5 789.4 656.4 788.8 658.5C788.1 660.6 788.3 662.5 787.5 662.2C786.7 662 785.4 659.5 783.8 657.2C782.1 655 779.4 651.2 777.5 648.5C775.6 645.8 773.8 643.2 772.5 641C771.2 638.8 770.3 636.9 769.8 635.4C769.2 633.8 768.9 632.9 769.4 631.6Z" fill="#0000f0" stroke="#000" stroke-width="0.6"/>
<path d="M780 636C780.5 635.3 782.4 634.4 783.8 634.8C785.1 635.1 787.2 636.7 788.1 637.9C789.1 639 789.6 640.6 789.4 641.6C789.2 642.7 787.9 644 786.9 644.1C785.8 644.2 784.2 643.1 783.1 642.2C782.1 641.4 781.1 640.2 780.6 639.1C780.1 638.1 779.5 636.7 780 636Z" fill="#4646ff" stroke="#000" stroke-width="0.6"/>
<g transform="translate(644.3 479.7) rotate(0)"><rect x="-6.5" y="-8" width="13" height="16" fill="#fff"/><text x="0" y="5" font-size="14" text-anchor="middle">2</text></g>
<g transform="translate(345.6 697.3) rotate(3)"><rect x="-6.5" y="-8" width="13" height="16" fill="#fff"/><text x="0" y="5" font-size="14" text-anchor="middle">2</text></g>
<g transform="translate(589.3 709) rotate(4)"><rect x="-6.5" y="-8" width="13" height="16" fill="#fff"/><text x="0" y="5" font-size="14" text-anchor="middle">2</text></g>
<g transform="translate(517.3 527.7) rotate(-15)"><rect x="-6.5" y="-8" width="13" height="16" fill="#fff"/><text x="0" y="5" font-size="14" text-anchor="middle">4</text></g>
<g transform="translate(717.3 531) rotate(25)"><rect x="-6.5" y="-8" width="13" height="16" fill="#fff"/><text x="0" y="5" font-size="14" text-anchor="middle">4</text></g>
<g transform="translate(535 663.7) rotate(35)"><rect x="-6.5" y="-8" width="13" height="16" fill="#fff"/><text x="0" y="5" font-size="14" text-anchor="middle">4</text></g>
<g transform="translate(766.4 666.4) rotate(-20)"><rect x="-6.5" y="-8" width="13" height="16" fill="#fff"/><text x="0" y="5" font-size="14" text-anchor="middle">4</text></g>
<g transform="translate(545.6 537.3) rotate(0)"><rect x="-6.5" y="-8" width="13" height="16" fill="#fff"/><text x="0" y="5" font-size="14" text-anchor="middle">6</text></g>
<g transform="translate(746.7 534.7) rotate(5)"><rect x="-6.5" y="-8" width="13" height="16" fill="#fff"/><text x="0" y="5" font-size="14" text-anchor="middle">6</text></g>
<g transform="translate(775 550.7) rotate(-12)"><rect x="-6.5" y="-8" width="13" height="16" fill="#fff"/><text x="0" y="5" font-size="14" text-anchor="middle">6</text></g>
<g transform="translate(400.5 650.4) rotate(-5)"><rect x="-6.5" y="-8" width="13" height="16" fill="#fff"/><text x="0" y="5" font-size="14" text-anchor="middle">6</text></g>
<g transform="translate(722.7 653) rotate(-5)"><rect x="-6.5" y="-8" width="13" height="16" fill="#fff"/><text x="0" y="5" font-size="14" text-anchor="middle">6</text></g>
<g transform="translate(487 549.6) rotate(-8)"><rect x="-6.5" y="-8" width="13" height="16" fill="#fff"/><text x="0" y="5" font-size="14" text-anchor="middle">8</text></g>
<g transform="translate(374.4 644) rotate(-10)"><rect x="-6.5" y="-8" width="13" height="16" fill="#fff"/><text x="0" y="5" font-size="14" text-anchor="middle">8</text></g>
<g transform="translate(697 640.3) rotate(-8)"><rect x="-6.5" y="-8" width="13" height="16" fill="#fff"/><text x="0" y="5" font-size="14" text-anchor="middle">8</text></g>
<g transform="translate(443.7 553.3) rotate(0)"><rect x="-9.3" y="-8" width="18.6" height="16" fill="#fff"/><text x="0" y="5" font-size="14" text-anchor="middle">10</text></g>
<g transform="translate(747.7 573.6) rotate(10)"><rect x="-9.3" y="-8" width="18.6" height="16" fill="#fff"/><text x="0" y="5" font-size="14" text-anchor="middle">10</text></g>
<g transform="translate(718.4 595) rotate(0)"><rect x="-9.3" y="-8" width="18.6" height="16" fill="#fff"/><text x="0" y="5" font-size="14" text-anchor="middle">10</text></g>
<g transform="translate(516.3 614.7) rotate(8)"><rect x="-9.3" y="-8" width="18.6" height="16" fill="#fff"/><text x="0" y="5" font-size="14" text-anchor="middle">10</text></g>
<use href="#coast" y="396" fill="none" stroke="#000" stroke-width="1.15" stroke-linejoin="round" stroke-linecap="round"/>

</g>
<defs><pattern id="stip" x="286.16" y="837" width="12.735" height="12.74" patternUnits="userSpaceOnUse"><circle cx="0.5" cy="0.5" r="0.68" fill="#111"/><circle cx="6.87" cy="6.87" r="0.68" fill="#111"/></pattern></defs><clipPath id="clip2"><rect x="288" y="842" width="624" height="307"/></clipPath>
<g clip-path="url(#clip2)" stroke-linejoin="round">
<rect x="280" y="835" width="640" height="322" fill="#ffffff"/>
<path d="M277 970C278.9 966.7 284.8 969.8 288.3 970C291.9 970.2 295.1 971.6 298.3 971.3C301.6 971.1 304.8 970 307.7 968.7C310.6 967.3 312.8 963.8 315.7 963.3C318.6 962.9 321.2 965.6 325 966C328.8 966.4 334.6 966.4 338.3 966C342.1 965.6 344.8 964 347.7 963.3C350.6 962.7 353.7 963.1 355.7 962C357.7 960.9 358.1 959.8 359.7 956.7C361.2 953.6 363.2 947.3 365 943.3C366.8 939.3 368.1 935.8 370.3 932.7C372.6 929.6 374.8 926 378.3 924.7C381.9 923.3 388.8 922.4 391.7 924.7C394.6 926.9 395.2 933.1 395.7 938C396.1 942.9 395.4 950.2 394.3 954C393.2 957.8 391.7 958.7 389 960.7C386.3 962.7 381.4 964.4 378.3 966C375.2 967.6 372.6 968.7 370.3 970C368.1 971.3 365.9 972.2 365 974C364.1 975.8 365.4 978.2 365 980.7C364.6 983.1 363.7 986 362.3 988.7C361 991.3 357.4 994 357 996.7C356.6 999.3 360.1 1002 359.7 1004.7C359.2 1007.3 354.3 1010.7 354.3 1012.7C354.3 1014.7 358.6 1014.9 359.7 1016.7C360.8 1018.4 361.9 1020.9 361 1023.3C360.1 1025.8 356.6 1029.1 354.3 1031.3C352.1 1033.6 350.3 1035.6 347.7 1036.7C345 1037.8 341.4 1038.4 338.3 1038C335.2 1037.6 331.7 1035.8 329 1034C326.3 1032.2 324.1 1030 322.3 1027.3C320.6 1024.7 319.4 1020.9 318.3 1018C317.2 1015.1 316.8 1012.7 315.7 1010C314.6 1007.3 313.4 1003.8 311.7 1002C309.9 1000.2 307.2 1000.7 305 999.3C302.8 998 301.1 995.6 298.3 994C295.6 992.4 291.9 990.7 288.3 990C284.8 989.3 278.9 993.3 277 990C275.1 986.7 275.1 973.3 277 970Z" fill="#d2f5ff" stroke="#000" stroke-width="0.6"/>
<path d="M385 924C386.3 920 389.7 922.4 393 921.3C396.3 920.2 400.8 918.9 405 917.3C409.2 915.8 413.9 913.2 418.3 912C422.8 910.8 427.2 909.6 431.7 910C436.1 910.4 441.2 913 445 914.7C448.8 916.3 451 918.4 454.3 920C457.7 921.6 461 923.1 465 924C469 924.9 474.3 925.3 478.3 925.3C482.3 925.3 486.8 923.3 489 924C491.2 924.7 490.6 927.1 491.7 929.3C492.8 931.6 494.1 935.1 495.7 937.3C497.2 939.6 500.3 940.7 501 942.7C501.7 944.7 499 948 499.7 949.3C500.3 950.7 504.7 950.3 505 950.7C505.3 951.1 499.4 951.2 501.7 951.7C503.9 952.1 512.8 952.9 518.3 953.3C523.9 953.8 529.4 954.4 535 954.2C540.6 953.9 546.1 951.8 551.7 951.7C557.2 951.5 562.8 952.9 568.3 953.3C573.9 953.8 580.8 953.3 585 954.2C589.2 955 590.6 957.4 593.3 958.3C596.1 959.3 600.8 958.9 601.7 960C602.5 961.1 599.7 963.3 598.3 965C596.9 966.7 593.9 968.3 593.3 970C592.8 971.7 592.2 973.8 595 975C597.8 976.2 604.7 976.8 610 977.5C615.3 978.2 619.7 978.8 626.7 979.2C633.6 979.6 644.7 979.9 651.7 980C658.6 980.1 662.8 980.8 668.3 980C673.9 979.2 679.4 975.9 685 975C690.6 974.1 696.1 974.9 701.7 974.7C707.2 974.4 712.8 973.9 718.3 973.7C723.9 973.4 729.4 973 735 973C740.6 973 746.9 973.2 751.7 973.7C756.4 974.1 760 976.2 763.3 975.8C766.7 975.5 769.2 973.8 771.7 971.7C774.2 969.6 776.1 965.8 778.3 963.3C780.6 960.8 781.1 958.6 785 956.7C788.9 954.7 796.1 952.8 801.7 951.7C807.2 950.6 815.6 949.2 818.3 950C821.1 950.8 819.4 954.4 818.3 956.7C817.2 958.9 808.9 961.4 811.7 963.3C814.4 965.3 833.6 967.7 835 968.3C836.4 968.9 820.8 966.6 820 967C819.2 967.4 826.7 969.9 830 971C833.3 972.1 836.7 973 840 973.5C843.3 974 846.7 974 850 974C853.3 974 856.7 973.8 860 973.5C863.3 973.2 866.7 972.9 870 972.5C873.3 972.1 877.2 971.8 880 971C882.8 970.2 884.5 968.5 887 968C889.5 967.5 892 967.9 895 968C898 968.1 902.2 968.3 905 968.5C907.8 968.7 907.8 968.9 912 969C916.2 969.1 927 964.8 930 969C933 973.2 933 990.2 930 994.5C927 998.8 917 994.8 912 994.5C907 994.2 903.7 993.3 900 993C896.3 992.7 893.3 992.5 890 992.5C886.7 992.5 883.3 992.4 880 993C876.7 993.6 872.7 995 870 996C867.3 997 866.3 998.2 864 999C861.7 999.8 858.3 1000.3 856 1000.5C853.7 1000.7 852 999.4 850 1000C848 1000.6 844.3 1002.3 844 1004C843.7 1005.7 847 1007.7 848 1010C849 1012.3 850.2 1015.3 850 1018C849.8 1020.7 848.3 1023.5 847 1026C845.7 1028.5 844.3 1031 842 1033C839.7 1035 835.8 1036.7 833 1038C830.2 1039.3 828 1039.8 825 1041C822 1042.2 818.2 1043.5 815 1045C811.8 1046.5 808.5 1048.3 806 1050C803.5 1051.7 804.1 1053.3 800 1055C795.9 1056.7 785.3 1061.4 781.7 1060C778.1 1058.6 778.3 1051.7 778.3 1046.7C778.3 1041.7 781.7 1035.6 781.7 1030C781.7 1024.4 779.4 1018.3 778.3 1013.3C777.2 1008.3 775.6 1003.3 775 1000C774.4 996.7 776.1 994.6 775 993.3C773.9 992.1 772.2 992.4 768.3 992.5C764.4 992.6 757.2 993.6 751.7 994.2C746.1 994.7 740.6 995.1 735 995.8C729.4 996.5 723.9 997.6 718.3 998.3C712.8 999 707.2 999.6 701.7 1000C696.1 1000.4 690.6 1000.6 685 1000.8C679.4 1001.1 673.9 1001.3 668.3 1001.7C662.8 1002.1 657.2 1002.8 651.7 1003.3C646.1 1003.9 638.9 1004.4 635 1005C631.1 1005.6 628.3 1005.8 628.3 1006.7C628.3 1007.5 632.5 1008.6 635 1010C637.5 1011.4 640.6 1013.3 643.3 1015C646.1 1016.7 648.6 1018.3 651.7 1020C654.7 1021.7 658.9 1023.3 661.7 1025C664.4 1026.7 667.8 1028.5 668.3 1030C668.9 1031.5 667.8 1033.3 665 1034.2C662.2 1035 656.7 1034.9 651.7 1035C646.7 1035.1 640.6 1035 635 1035C629.4 1035 623.9 1035.1 618.3 1035C612.8 1034.9 607.2 1034.7 601.7 1034.2C596.1 1033.6 590.6 1032.9 585 1031.7C579.4 1030.4 573.9 1028.1 568.3 1026.7C562.8 1025.3 557.2 1024.7 551.7 1023.3C546.1 1021.9 540.6 1020 535 1018.3C529.4 1016.7 517.8 1014.2 518.3 1013.3C518.9 1012.5 537.2 1012.7 538.3 1013.3C539.4 1014 529.4 1016.2 525 1017.3C520.6 1018.4 516.1 1019.4 511.7 1020C507.2 1020.6 502.8 1021.1 498.3 1020.7C493.9 1020.2 488.3 1017.4 485 1017.3C481.7 1017.2 481.7 1018.9 478.3 1020C475 1021.1 469.4 1023.1 465 1024C460.6 1024.9 456.1 1025.3 451.7 1025.3C447.2 1025.3 442.8 1024.7 438.3 1024C433.9 1023.3 429.4 1022.4 425 1021.3C420.6 1020.2 416.1 1018.9 411.7 1017.3C407.2 1015.8 401.9 1014.2 398.3 1012C394.8 1009.8 391.2 1007.1 390.3 1004C389.4 1000.9 391.2 996 393 993.3C394.8 990.7 397.9 989.3 401 988C404.1 986.7 408.6 986.2 411.7 985.3C414.8 984.4 418.8 984.9 419.7 982.7C420.6 980.4 417.7 975.3 417 972C416.3 968.7 417 965.3 415.7 962.7C414.3 960 411.9 957.6 409 956C406.1 954.4 401.4 954.4 398.3 953.3C395.2 952.2 392.6 950.7 390.3 949.3C388.1 948 385.9 949.6 385 945.3C384.1 941.1 383.7 928 385 924Z" fill="#d2f5ff" stroke="#000" stroke-width="0.6"/>
<path d="M441 934.7C441.7 932.9 443.7 930.7 446.3 929.3C449 928 453.4 926.8 457 926.7C460.6 926.6 465.4 927.3 467.7 928.7C469.9 930 470.3 932.6 470.3 934.7C470.3 936.8 469.4 939.8 467.7 941.3C465.9 942.9 462.8 943.8 459.7 944C456.6 944.2 451.9 943.3 449 942.7C446.1 942 443.7 941.3 442.3 940C441 938.7 440.3 936.4 441 934.7Z" fill="#ffffff" stroke="#000" stroke-width="0.6"/>
<path d="M422.3 964C423 961.7 426.3 961.3 429 960.7C431.7 960 435.2 959.9 438.3 960C441.4 960.1 445 960.2 447.7 961.3C450.3 962.4 453.7 964.4 454.3 966.7C455 968.9 453.4 972.7 451.7 974.7C449.9 976.7 446.3 976.9 443.7 978.7C441 980.4 438.1 984.7 435.7 985.3C433.2 986 430.8 984.4 429 982.7C427.2 980.9 426.1 977.8 425 974.7C423.9 971.6 421.7 966.3 422.3 964Z" fill="#ffffff" stroke="#000" stroke-width="0.6"/>
<path d="M481 992C481.2 990 484.1 987.8 486.3 986.7C488.6 985.6 492.6 984.7 494.3 985.3C496.1 986 497.2 988.7 497 990.7C496.8 992.7 495 996 493 997.3C491 998.7 487 999.6 485 998.7C483 997.8 480.8 994 481 992Z" fill="#ffffff" stroke="#000" stroke-width="0.6"/>
<path d="M783.3 985C783.9 983.2 785.8 980.6 788.3 980C790.8 979.4 796.4 980.3 798.3 981.7C800.3 983.1 800.8 986.5 800 988.3C799.2 990.1 795.8 992.1 793.3 992.5C790.8 992.9 786.7 992.1 785 990.8C783.3 989.6 782.8 986.8 783.3 985Z" fill="#ffffff" stroke="#000" stroke-width="0.6"/>
<path d="M386.3 1010C386.3 1007.3 390.1 1002.2 391.7 999.3C393.2 996.4 393.4 994.2 395.7 992.7C397.9 991.1 401.2 990.7 405 990C408.8 989.3 413.9 988.9 418.3 988.7C422.8 988.4 427.2 988.6 431.7 988.7C436.1 988.8 440.6 989.1 445 989.3C449.4 989.6 453.9 989.4 458.3 990C462.8 990.6 469.4 987.1 471.7 992.7C473.9 998.2 476.1 1018.2 471.7 1023.3C467.2 1028.4 451.7 1023.2 445 1023.3C438.3 1023.4 436.1 1024 431.7 1024C427.2 1024 422.8 1023.9 418.3 1023.3C413.9 1022.8 409.4 1022 405 1020.7C400.6 1019.3 394.8 1017.1 391.7 1015.3C388.6 1013.6 386.3 1012.7 386.3 1010Z" fill="#d2f5ff" stroke="#000" stroke-width="0.6"/>
<path d="M716.7 930C718.3 927.8 724.2 926.4 728.3 926.7C732.5 926.9 737.8 928.9 741.7 931.7C745.6 934.4 749.4 939.4 751.7 943.3C753.9 947.2 755 951.1 755 955C755 958.9 753.6 965.3 751.7 966.7C749.7 968.1 746.1 965 743.3 963.3C740.6 961.7 738.1 958.9 735 956.7C731.9 954.4 727.8 952.8 725 950C722.2 947.2 719.7 943.3 718.3 940C716.9 936.7 715 932.2 716.7 930Z" fill="#d2f5ff" stroke="#000" stroke-width="0.6"/>
<path d="M277 975.3C278.9 973.1 284.8 975.3 288.3 975.3C291.9 975.3 295.6 974.7 298.3 975.3C301.1 976 301.9 979.6 305 979.3C308.1 979.1 313.7 975.3 317 974C320.3 972.7 321.4 972 325 971.3C328.6 970.7 334.3 971.1 338.3 970C342.3 968.9 346.1 965.6 349 964.7C351.9 963.8 354.1 963.8 355.7 964.7C357.2 965.6 357.7 967.3 358.3 970C359 972.7 359.7 977.3 359.7 980.7C359.7 984 358.8 987.8 358.3 990C357.9 992.2 358.6 992 357 994C355.4 996 351 999.3 349 1002C347 1004.7 345.4 1006.4 345 1010C344.6 1013.6 347 1020.7 346.3 1023.3C345.7 1026 343.7 1025.3 341 1026C338.3 1026.7 333.4 1027.8 330.3 1027.3C327.2 1026.9 323.9 1025.3 322.3 1023.3C320.8 1021.3 320.6 1018 321 1015.3C321.4 1012.7 324.1 1010.4 325 1007.3C325.9 1004.2 327 999.8 326.3 996.7C325.7 993.6 322.6 991.3 321 988.7C319.4 986 318.6 981.6 317 980.7C315.4 979.8 313.2 981.8 311.7 983.3C310.1 984.9 308.8 987.8 307.7 990C306.6 992.2 306.6 996.7 305 996.7C303.4 996.7 301.1 991.3 298.3 990C295.6 988.7 291.9 988.9 288.3 988.7C284.8 988.4 278.9 990.9 277 988.7C275.1 986.4 275.1 977.6 277 975.3Z" fill="#00bfff" stroke="#000" stroke-width="0.6"/>
<path d="M394.3 933.3C395.4 931.3 399.4 928.7 402.3 926.7C405.2 924.7 407.9 922.4 411.7 921.3C415.4 920.2 421 919.6 425 920C429 920.4 434.6 922 435.7 924C436.8 926 433.4 930.2 431.7 932C429.9 933.8 425.4 933.3 425 934.7C424.6 936 426.3 938.2 429 940C431.7 941.8 437.7 943.8 441 945.3C444.3 946.9 447.9 947.8 449 949.3C450.1 950.9 449 953.1 447.7 954.7C446.3 956.2 443 957.3 441 958.7C439 960 438.3 962 435.7 962.7C433 963.3 427.7 963.3 425 962.7C422.3 962 421 960.7 419.7 958.7C418.3 956.7 418.8 952.9 417 950.7C415.2 948.4 411.7 947.1 409 945.3C406.3 943.6 403.2 941.1 401 940C398.8 938.9 396.8 939.8 395.7 938.7C394.6 937.6 393.2 935.3 394.3 933.3Z" fill="#00bfff" stroke="#000" stroke-width="0.6"/>
<path d="M461 956C462.1 953.9 465.2 953.3 467.7 952.7C470.1 952 473.4 951.4 475.7 952C477.9 952.6 480.3 954.2 481 956C481.7 957.8 480.3 960.7 479.7 962.7C479 964.7 477 966 477 968C477 970 479.9 972.9 479.7 974.7C479.4 976.4 477.2 978.2 475.7 978.7C474.1 979.1 472.1 978.4 470.3 977.3C468.6 976.2 466.6 974 465 972C463.4 970 461.7 968 461 965.3C460.3 962.7 459.9 958.1 461 956Z" fill="#00bfff" stroke="#000" stroke-width="0.6"/>
<path d="M414.3 998C414.8 995.6 420.6 994.6 425 993.3C429.4 992.1 436.6 990.7 441 990.7C445.4 990.7 448.6 992 451.7 993.3C454.8 994.7 457 996.7 459.7 998.7C462.3 1000.7 464.6 1003.3 467.7 1005.3C470.8 1007.3 477.9 1009.3 478.3 1010.7C478.8 1012 473.4 1012.9 470.3 1013.3C467.2 1013.8 462.8 1012.9 459.7 1013.3C456.6 1013.8 454.8 1015.3 451.7 1016C448.6 1016.7 444.6 1017.6 441 1017.3C437.4 1017.1 433.4 1016.2 430.3 1014.7C427.2 1013.1 425 1010.8 422.3 1008C419.7 1005.2 413.9 1000.4 414.3 998Z" fill="#00bfff" stroke="#000" stroke-width="0.6"/>
<path d="M413.7 998C414.8 996.4 420.9 996.4 425 995.3C429.1 994.2 433.9 992.2 438.3 991.3C442.8 990.4 449.4 985.3 451.7 990C453.9 994.7 452.8 1014.8 451.7 1019.3C450.6 1023.9 447.9 1018 445 1017.3C442.1 1016.7 437.7 1016.6 434.3 1015.3C431 1014.1 427.7 1011.8 425 1010C422.3 1008.2 420.2 1006.7 418.3 1004.7C416.4 1002.7 412.6 999.6 413.7 998Z" fill="#00bfff" stroke="#000" stroke-width="0.6"/>
<path d="M506.7 970C509.4 967.9 513.6 968.2 518.3 967.5C523.1 966.8 529.4 966.2 535 965.8C540.6 965.4 547.5 964.9 551.7 965C555.8 965.1 556.7 964.4 560 966.7C563.3 968.9 567.5 976.1 571.7 978.3C575.8 980.6 580 979.5 585 980C590 980.5 596.1 981 601.7 981.3C607.2 981.7 612.8 981.8 618.3 982C623.9 982.2 629.4 982.4 635 982.5C640.6 982.6 646.1 982.6 651.7 982.5C657.2 982.4 662.8 982.1 668.3 981.7C673.9 981.2 679.4 980.4 685 980C690.6 979.6 696.1 979.5 701.7 979.2C707.2 978.8 712.8 978.4 718.3 978C723.9 977.6 729.4 977.1 735 977C740.6 976.9 746.1 977.3 751.7 977.5C757.2 977.7 763.9 979 768.3 978.3C772.8 977.6 774.4 974.4 778.3 973.3C782.2 972.2 787.2 971.7 791.7 971.7C796.1 971.7 802.6 973 805 973.3C807.4 973.6 803.5 973.2 806 973.5C808.5 973.8 816 974.5 820 975C824 975.5 826.7 976.1 830 976.5C833.3 976.9 836.7 977.4 840 977.5C843.3 977.6 846.7 977.3 850 977C853.3 976.7 856.7 975.9 860 975.5C863.3 975.1 866.7 974.8 870 974.5C873.3 974.2 877.2 974 880 973.5C882.8 973 884.5 971.9 887 971.5C889.5 971.1 892 971 895 971C898 971 902.2 971.2 905 971.5C907.8 971.8 907.8 972.3 912 972.5C916.2 972.7 927 969.6 930 972.5C933 975.4 933 987.1 930 990C927 992.9 917 990.2 912 990C907 989.8 903.7 988.8 900 988.5C896.3 988.2 893.3 988.4 890 988.5C886.7 988.6 883.3 988.8 880 989C876.7 989.2 873.3 989.5 870 990C866.7 990.5 862.7 991.3 860 992C857.3 992.7 856 993.2 854 994C852 994.8 850 995.7 848 997C846 998.3 842.8 999.8 842 1002C841.2 1004.2 843.3 1007 843 1010C842.7 1013 841.7 1017.3 840 1020C838.3 1022.7 835.5 1024.5 833 1026C830.5 1027.5 828 1028.3 825 1029C822 1029.7 817.8 1030.5 815 1030C812.2 1029.5 810.2 1027.7 808 1026C805.8 1024.3 804 1022.7 802 1020C800 1017.3 797.3 1013.3 796 1010C794.7 1006.7 795.8 1001.1 794 1000C792.2 998.9 787.6 1004.4 785 1003.3C782.4 1002.2 780 995.8 778.3 993.3C776.7 990.8 776.7 988.9 775 988.3C773.3 987.8 770.8 989.9 768.3 990C765.8 990.1 762.8 989.4 760 989.2C757.2 988.9 754.4 988.6 751.7 988.3C748.9 988.1 746.1 987.5 743.3 987.5C740.6 987.5 737.8 987.6 735 988.3C732.2 989 729.4 990.4 726.7 991.7C723.9 992.9 722.5 994.7 718.3 995.8C714.2 996.9 707.2 997.7 701.7 998.3C696.1 999 690.6 999.3 685 999.7C679.4 1000.1 673.9 1000.6 668.3 1000.8C662.8 1001 657.2 1000.7 651.7 1000.8C646.1 1001 640.6 1001.3 635 1001.7C629.4 1002.1 622.8 1002.5 618.3 1003.3C613.9 1004.2 608.3 1005.3 608.3 1006.7C608.3 1008.1 615.8 1010 618.3 1011.7C620.8 1013.3 623.9 1014.9 623.3 1016.7C622.8 1018.5 618.6 1021.5 615 1022.5C611.4 1023.5 606.7 1022.6 601.7 1022.5C596.7 1022.4 590.6 1022.1 585 1021.7C579.4 1021.3 573.9 1020.8 568.3 1020C562.8 1019.2 557.2 1017.5 551.7 1016.7C546.1 1015.8 540.3 1015.8 535 1015C529.7 1014.2 524.2 1013.6 520 1011.7C515.8 1009.7 512.8 1006.4 510 1003.3C507.2 1000.3 504.7 997.2 503.3 993.3C501.9 989.4 501.1 983.9 501.7 980C502.2 976.1 503.9 972.1 506.7 970Z" fill="#00bfff" stroke="#000" stroke-width="0.6"/>
<path d="M791.7 1000C793.3 997.8 798.3 996.7 801.7 996.7C805 996.7 809.4 998.1 811.7 1000C813.9 1001.9 815.6 1006.1 815 1008.3C814.4 1010.6 811.1 1012.2 808.3 1013.3C805.6 1014.4 801.1 1015.6 798.3 1015C795.6 1014.4 792.8 1012.5 791.7 1010C790.6 1007.5 790 1002.2 791.7 1000Z" fill="#d2f5ff" stroke="#000" stroke-width="0.6"/>
<path d="M724.2 941.7C725.3 939.9 729 936.9 731.7 936.7C734.3 936.4 738.1 938.3 740 940C741.9 941.7 743.6 944.6 743.3 946.7C743.1 948.8 740.6 951.7 738.3 952.5C736.1 953.3 732.2 952.5 730 951.7C727.8 950.8 726 949.2 725 947.5C724 945.8 723.1 943.5 724.2 941.7Z" fill="#00bfff" stroke="#000" stroke-width="0.6"/>
<path d="M318.3 978C318.6 976.4 321.7 975.1 325 974C328.3 972.9 334.3 972.4 338.3 971.3C342.3 970.2 346.1 967.8 349 967.3C351.9 966.9 354.2 967.1 355.7 968.7C357.1 970.2 357.3 973.8 357.7 976.7C358 979.6 358.2 983.1 357.7 986C357.1 988.9 355.8 991.8 354.3 994C352.9 996.2 350.8 997.6 349 999.3C347.2 1001.1 345.4 1003.3 343.7 1004.7C341.9 1006 340.1 1007.1 338.3 1007.3C336.6 1007.6 334.1 1007.8 333 1006C331.9 1004.2 332.3 999.6 331.7 996.7C331 993.8 330.3 990.9 329 988.7C327.7 986.4 325.4 985.1 323.7 983.3C321.9 981.6 318.1 979.6 318.3 978Z" fill="#1e90ff" stroke="#000" stroke-width="0.6"/>
<path d="M399.7 932C399.9 930 403.4 927 406.3 925.3C409.2 923.7 413.2 922.4 417 922C420.8 921.6 426.6 921.7 429 922.7C431.4 923.7 432.3 926.4 431.7 928C431 929.6 427.2 930.9 425 932C422.8 933.1 418.3 933.3 418.3 934.7C418.3 936 422.1 938.4 425 940C427.9 941.6 432.3 942.7 435.7 944C439 945.3 443 946.4 445 948C447 949.6 448.3 951.8 447.7 953.3C447 954.9 443.7 956.4 441 957.3C438.3 958.2 434.8 958.9 431.7 958.7C428.6 958.4 424.6 957.6 422.3 956C420.1 954.4 420.1 951.6 418.3 949.3C416.6 947.1 413.9 944.7 411.7 942.7C409.4 940.7 407 939.1 405 937.3C403 935.6 399.4 934 399.7 932Z" fill="#1e90ff" stroke="#000" stroke-width="0.6"/>
<path d="M462.3 957.3C463.1 955.8 465.7 955 467.7 954.7C469.7 954.3 472.8 954.4 474.3 955.3C475.9 956.2 476.8 958.1 477 960C477.2 961.9 476.6 964.9 475.7 966.7C474.8 968.4 473.2 970.2 471.7 970.7C470.1 971.1 467.8 970.4 466.3 969.3C464.9 968.2 463.7 966 463 964C462.3 962 461.6 958.9 462.3 957.3Z" fill="#1e90ff" stroke="#000" stroke-width="0.6"/>
<path d="M446.3 1002C447.2 1000.9 451.7 999.8 454.3 1000C457 1000.2 460.6 1002.1 462.3 1003.3C464.1 1004.6 465.9 1006.4 465 1007.3C464.1 1008.2 459.7 1008.8 457 1008.7C454.3 1008.6 450.8 1007.8 449 1006.7C447.2 1005.6 445.4 1003.1 446.3 1002Z" fill="#1e90ff" stroke="#000" stroke-width="0.6"/>
<path d="M535 995C535 993.9 539.2 992.6 543.3 991.7C547.5 990.7 553.1 989.9 560 989.2C566.9 988.5 575.3 987.9 585 987.5C594.7 987.1 607.2 986.9 618.3 986.7C629.4 986.5 643.3 986.4 651.7 986.3C660 986.2 662.8 986.2 668.3 986C673.9 985.8 679.4 985.3 685 985C690.6 984.7 696.1 984.5 701.7 984.2C707.2 983.8 714.2 983.1 718.3 983C722.5 982.9 723.9 983.1 726.7 983.3C729.4 983.5 732.2 984.4 735 984.2C737.8 983.9 740 982.2 743.3 981.7C746.7 981.1 750.8 981.1 755 980.8C759.2 980.6 765 979.9 768.3 980C771.7 980.1 773.9 980.6 775 981.7C776.1 982.8 776.1 985.7 775 986.7C773.9 987.6 770.8 987.4 768.3 987.5C765.8 987.6 762.8 987.6 760 987.5C757.2 987.4 754.4 986.9 751.7 986.7C748.9 986.4 746.1 985.8 743.3 985.8C740.6 985.8 737.8 986.1 735 986.7C732.2 987.2 729.4 988.2 726.7 989.2C723.9 990.1 722.5 991.4 718.3 992.5C714.2 993.6 707.2 994.9 701.7 995.8C696.1 996.8 690.6 997.9 685 998.3C679.4 998.7 673.9 998.3 668.3 998.3C662.8 998.4 660 998.4 651.7 998.7C643.3 998.9 629.4 999.5 618.3 1000C607.2 1000.5 594.7 1001.5 585 1001.7C575.3 1001.8 566.9 1001.4 560 1000.8C553.1 1000.3 547.5 999.3 543.3 998.3C539.2 997.4 535 996.1 535 995Z" fill="#1e90ff" stroke="#000" stroke-width="0.6"/>
<path d="M823.5 983C824.3 982.5 827.8 983.8 830 984C832.2 984.2 835 984 837 984.5C839 985 841 986.1 842 987C843 987.9 843.7 989.3 843 990C842.3 990.7 840.2 991 838 991C835.8 991 832.2 990.7 830 990C827.8 989.3 826.1 988.2 825 987C823.9 985.8 822.7 983.5 823.5 983Z" fill="#1e90ff" stroke="#000" stroke-width="0.6"/>
<path d="M850.5 983C851 982.1 853.6 980.8 856 980C858.4 979.2 861.8 978.5 865 978C868.2 977.5 871.7 977.1 875 976.8C878.3 976.5 882.5 976 885 976.2C887.5 976.4 888.7 977 890 978C891.3 979 892 980.8 893 982C894 983.2 894.8 984.2 896 985C897.2 985.8 901 986.6 900 987C899 987.4 893.3 987.3 890 987.5C886.7 987.7 883.3 987.8 880 988C876.7 988.2 873.3 988.5 870 988.5C866.7 988.5 862.8 988.5 860 988C857.2 987.5 854.6 986.3 853 985.5C851.4 984.7 850 983.9 850.5 983Z" fill="#1e90ff" stroke="#000" stroke-width="0.6"/>
<path d="M815 1009C815.7 1007.3 821.2 1006.2 825 1005C828.8 1003.8 835.7 1001.5 838 1002C840.3 1002.5 839.5 1005.8 839 1008C838.5 1010.2 836.5 1013 835 1015C833.5 1017 831.5 1018.3 830 1020C828.5 1021.7 827.7 1024.7 826 1025C824.3 1025.3 820.8 1023.7 820 1022C819.2 1020.3 821.8 1017.2 821 1015C820.2 1012.8 814.3 1010.7 815 1009Z" fill="#1e90ff" stroke="#000" stroke-width="0.6"/>
<path d="M335.7 978C336.8 976.4 339.7 975.6 342.3 974C345 972.4 349.3 968.9 351.7 968.7C354 968.4 355.6 970.2 356.3 972.7C357.1 975.1 356.9 980 356.3 983.3C355.8 986.7 354.4 990.4 353 992.7C351.6 994.9 349.4 996.4 347.7 996.7C345.9 996.9 343.9 995.3 342.3 994C340.8 992.7 339.4 990.4 338.3 988.7C337.2 986.9 336.1 985.1 335.7 983.3C335.2 981.6 334.6 979.6 335.7 978Z" fill="#4169e1" stroke="#000" stroke-width="0.6"/>
<path d="M339 980.7C339.6 979.1 341.6 978.4 343.7 976.7C345.8 974.9 349.7 970.4 351.7 970C353.7 969.6 355.1 971.8 355.7 974C356.2 976.2 355.7 980.4 355 983.3C354.3 986.2 352.9 989.6 351.7 991.3C350.4 993.1 349 994 347.7 994C346.3 994 344.9 992.7 343.7 991.3C342.4 990 341.1 987.8 340.3 986C339.6 984.2 338.4 982.2 339 980.7Z" fill="#000096" stroke="#000" stroke-width="0.6"/>
<path d="M343 982C343.7 980.2 346 978.4 347.7 976.7C349.3 974.9 351.7 971.6 353 971.3C354.3 971.1 355.4 973.3 355.7 975.3C355.9 977.3 355.1 980.9 354.3 983.3C353.6 985.8 352.2 988.7 351 990C349.8 991.3 348.2 991.8 347 991.3C345.8 990.9 344.3 988.9 343.7 987.3C343 985.8 342.3 983.8 343 982Z" fill="#8220f0" stroke="#000" stroke-width="0.6"/>
<path d="M410.3 936C411 934.9 413.7 933.3 415.7 933.3C417.7 933.3 420.1 934.7 422.3 936C424.6 937.3 426.3 939.8 429 941.3C431.7 942.9 435.4 944 438.3 945.3C441.2 946.7 445.2 948.1 446.3 949.3C447.4 950.6 446.8 952.4 445 952.7C443.2 952.9 438.8 951.7 435.7 950.7C432.6 949.7 429.2 948 426.3 946.7C423.4 945.3 420.8 943.8 418.3 942.7C415.9 941.6 413 941.1 411.7 940C410.3 938.9 409.7 937.1 410.3 936Z" fill="#4169e1" stroke="#000" stroke-width="0.6"/>
<path d="M413 937.3C413.3 936.4 415.7 935.2 417 935.3C418.3 935.4 420.6 937 421 938C421.4 939 420.7 940.9 419.7 941.3C418.7 941.8 416.1 941.3 415 940.7C413.9 940 412.7 938.2 413 937.3Z" fill="#8220f0" stroke="#000" stroke-width="0.6"/>
<path d="M434.3 947.3C435 947 438.1 947.4 439.7 948C441.2 948.6 443.4 950 443.7 950.7C443.9 951.3 442.3 952.1 441 952C439.7 951.9 436.8 950.8 435.7 950C434.6 949.2 433.7 947.7 434.3 947.3Z" fill="#8220f0" stroke="#000" stroke-width="0.6"/>
<path d="M463.7 958.7C464.1 957.1 466.8 956.7 468.3 956.7C469.9 956.7 472.1 957.4 473 958.7C473.9 959.9 474.1 962.4 473.7 964C473.2 965.6 471.7 967.7 470.3 968C469 968.3 466.8 967.6 465.7 966C464.6 964.4 463.2 960.2 463.7 958.7Z" fill="#4169e1" stroke="#000" stroke-width="0.6"/>
<path d="M465 960C465.3 959 467.3 957.9 468.3 958C469.3 958.1 470.7 959.6 471 960.7C471.3 961.8 471.1 964.1 470.3 964.7C469.6 965.2 467.5 964.8 466.6 964C465.7 963.2 464.7 961 465 960Z" fill="#000096" stroke="#000" stroke-width="0.6"/>
<path d="M550.8 995.8C550.8 995 554.3 994.1 560 993.3C565.7 992.6 575.3 991.8 585 991.3C594.7 990.8 607.2 990.6 618.3 990.3C629.4 990.1 643.3 990.1 651.7 990C660 989.9 662.8 990.1 668.3 990C673.9 989.9 680.6 989.4 685 989.2C689.4 988.9 691.7 988.2 695 988.3C698.3 988.4 701.9 989 705 989.7C708.1 990.4 713.3 991.5 713.3 992.5C713.3 993.5 708.1 995 705 995.8C701.9 996.7 698.3 997.1 695 997.5C691.7 997.9 689.4 998.1 685 998C680.6 997.9 673.9 997.1 668.3 997C662.8 996.9 660 997 651.7 997.2C643.3 997.3 629.4 997.7 618.3 998C607.2 998.3 594.7 999.1 585 999.2C575.3 999.2 565.7 998.9 560 998.3C554.3 997.8 550.8 996.7 550.8 995.8Z" fill="#4169e1" stroke="#000" stroke-width="0.6"/>
<path d="M581.7 995.5C581.7 995 594.2 994.5 601.7 994.2C609.2 993.8 618.3 993.5 626.7 993.3C635 993.2 645.3 993.1 651.7 993.3C658.1 993.6 665 994.4 665 995C665 995.6 658.1 996.3 651.7 996.7C645.3 997 635 996.9 626.7 997C618.3 997.1 609.2 997.2 601.7 997C594.2 996.8 581.7 996 581.7 995.5Z" fill="#000096" stroke="#000" stroke-width="0.6"/>
<path d="M871.5 983C871.7 982.5 874.5 982.1 876 982C877.5 981.9 879.8 982.1 880.5 982.5C881.2 982.9 880.9 984.1 880 984.5C879.1 984.9 876.4 985.2 875 985C873.6 984.8 871.3 983.5 871.5 983Z" fill="#4169e1" stroke="#000" stroke-width="0.6"/>
<path d="M778.3 996.7C779.2 996.9 781 1000.6 782.5 1003.3C784 1006.1 785.7 1010 787.5 1013.3C789.3 1016.7 791.7 1020 793.3 1023.3C795 1026.7 796.9 1029.4 797.5 1033.3C798.1 1037.2 797.1 1042.8 796.7 1046.7C796.2 1050.6 795.6 1055.6 795 1056.7C794.4 1057.8 793.5 1056.1 793.3 1053.3C793.2 1050.6 794.3 1043.9 794.2 1040C794 1036.1 793.9 1033.3 792.5 1030C791.1 1026.7 787.8 1023.3 785.8 1020C783.9 1016.7 782.3 1013.1 780.8 1010C779.4 1006.9 777.6 1003.9 777.2 1001.7C776.8 999.4 777.4 996.4 778.3 996.7Z" fill="#4169e1" stroke="#000" stroke-width="0.6"/>
<path d="M782.5 1008.3C782.9 1008.2 785.4 1011.7 786.7 1013.3C787.9 1015 789.9 1017.4 790 1018.3C790.1 1019.3 788.5 1019.9 787.5 1019.2C786.5 1018.5 785 1016 784.2 1014.2C783.3 1012.4 782.1 1008.5 782.5 1008.3Z" fill="#8220f0" stroke="#000" stroke-width="0.6"/>
<path d="M685 1003.3C691.9 1003.2 696.1 1003.9 701.7 1004.2C707.2 1004.4 712.8 1004.7 718.3 1005C723.9 1005.3 729.4 1005.7 735 1005.8C740.6 1006 746.1 1005.8 751.7 1005.8C757.2 1005.8 764.3 1005.6 768.3 1005.8C772.4 1006.1 773.1 1004.6 775.8 1007.5C778.6 1010.4 782.4 1019.3 785 1023.3C787.6 1027.4 790.8 1029.4 791.7 1031.7C792.5 1033.9 792.2 1035.6 790 1036.7C787.8 1037.8 780.3 1036.7 778.3 1038.3C776.4 1040 778.9 1043.8 778.3 1046.7C777.8 1049.6 777.8 1054.4 775 1055.8C772.2 1057.2 764.7 1056.5 761.7 1055C758.6 1053.5 758.3 1049.7 756.7 1046.7C755 1043.6 753.1 1039.7 751.7 1036.7C750.3 1033.6 751.1 1030.6 748.3 1028.3C745.6 1026.1 740 1024.7 735 1023.3C730 1021.9 723.9 1021.1 718.3 1020C712.8 1018.9 707.2 1017.8 701.7 1016.7C696.1 1015.6 690.6 1014.4 685 1013.3C679.4 1012.2 673.9 1010.8 668.3 1010C662.8 1009.2 653.1 1009.2 651.7 1008.3C650.3 1007.5 654.4 1005.8 660 1005C665.6 1004.2 678.1 1003.5 685 1003.3Z" fill="#ffffc8" stroke="#000" stroke-width="0.6"/>
<path d="M725.8 1011.7C726.7 1010.7 730.7 1009.9 735 1009.2C739.3 1008.5 746.1 1007.8 751.7 1007.5C757.2 1007.2 764.3 1007.1 768.3 1007.5C772.4 1007.9 773.1 1007.4 775.8 1010C778.6 1012.6 782.4 1019.7 785 1023.3C787.6 1026.9 791.1 1029.9 791.7 1031.7C792.2 1033.5 790.6 1034.2 788.3 1034.2C786.1 1034.2 782.2 1032.6 778.3 1031.7C774.4 1030.7 769.4 1029.7 765 1028.3C760.6 1026.9 756.1 1025 751.7 1023.3C747.2 1021.7 741.9 1019.7 738.3 1018.3C734.7 1016.9 732.1 1016.1 730 1015C727.9 1013.9 725 1012.6 725.8 1011.7Z" fill="#ffaa00" stroke="#000" stroke-width="0.6"/>
<path d="M742.5 1015C743.3 1013.9 747.9 1012.6 751.7 1011.7C755.4 1010.8 761.4 1009.8 765 1009.7C768.6 1009.5 771.1 1009.4 773.3 1010.8C775.6 1012.3 776.7 1015.7 778.3 1018.3C780 1021 783.9 1025.6 783.3 1026.7C782.8 1027.8 778.1 1025.6 775 1025C771.9 1024.4 768.3 1024 765 1023.3C761.7 1022.6 758.1 1021.7 755 1020.8C751.9 1020 748.8 1019.3 746.7 1018.3C744.6 1017.4 741.7 1016.1 742.5 1015Z" fill="#ff6e00" stroke="#000" stroke-width="0.6"/>
<path d="M752.5 1017.5C752.8 1016.4 755.7 1014.9 758.3 1014.2C761 1013.4 765.8 1012.6 768.3 1013C770.8 1013.4 771.9 1014.7 773.3 1016.7C774.7 1018.7 776.9 1023.9 776.7 1025C776.4 1026.1 773.9 1023.9 771.7 1023.3C769.4 1022.8 765.8 1022.1 763.3 1021.7C760.8 1021.3 758.5 1021.5 756.7 1020.8C754.9 1020.1 752.2 1018.6 752.5 1017.5Z" fill="#ff0000" stroke="#000" stroke-width="0.6"/>
<path d="M685 928.3C682.5 928.1 679.4 930 676.7 931.7C673.9 933.3 670.4 935.6 668.3 938.3C666.2 941.1 664.4 945 664.2 948.3C663.9 951.7 664.6 955.8 666.7 958.3C668.8 960.8 673.6 962.1 676.7 963.3C679.7 964.6 681.9 965.3 685 965.8C688.1 966.4 691.7 966.7 695 966.7C698.3 966.7 702.4 966.7 705 965.8C707.6 965 710.3 963.5 710.8 961.7C711.4 959.9 710.1 957.8 708.3 955C706.5 952.2 702.8 948.6 700 945C697.2 941.4 694.2 936.1 691.7 933.3C689.2 930.6 687.5 928.6 685 928.3Z" fill="#ffffc8" stroke="#000" stroke-width="0.6"/>
<path d="M675.8 953.3C675.7 951.9 677.6 950.5 679.2 949.7C680.7 948.8 683.2 948 685 948.3C686.8 948.7 688.8 950.3 690 951.7C691.2 953.1 692.5 955.3 692.5 956.7C692.5 958 691.2 959.1 690 959.7C688.8 960.2 686.7 960.2 685 960C683.3 959.8 681.5 959.4 680 958.3C678.5 957.2 676 954.8 675.8 953.3Z" fill="#ffaa00" stroke="#000" stroke-width="0.6"/>
<path d="M719.2 955C719.7 953.2 722.9 951.7 725 951.7C727.1 951.7 730.3 953.3 731.7 955C733.1 956.7 733.9 960 733.3 961.7C732.8 963.3 730.3 964.9 728.3 965C726.4 965.1 723.2 964.2 721.7 962.5C720.1 960.8 718.6 956.8 719.2 955Z" fill="#ffffc8" stroke="#000" stroke-width="0.6"/>
<path d="M865.5 1020C865.5 1018.5 867.6 1016.7 870 1015C872.4 1013.3 876.7 1011.3 880 1010C883.3 1008.7 886.7 1007.7 890 1007C893.3 1006.3 896.3 1005.9 900 1005.8C903.7 1005.7 907.8 1006.3 912 1006.5C916.2 1006.7 922.8 999.6 925 1007C927.2 1014.4 927.2 1043.8 925 1051C922.8 1058.2 915.2 1050.7 912 1050C908.8 1049.3 908 1048.2 906 1047C904 1045.8 902.7 1045 900 1043C897.3 1041 893.3 1037.3 890 1035C886.7 1032.7 883.3 1030.8 880 1029C876.7 1027.2 872.4 1025.5 870 1024C867.6 1022.5 865.5 1021.5 865.5 1020Z" fill="#ffffc8" stroke="#000" stroke-width="0.6"/>
<path d="M878 1020C878 1018.8 881 1017.1 883 1016C885 1014.9 887.2 1014.2 890 1013.5C892.8 1012.8 896.3 1012.2 900 1012C903.7 1011.8 907.8 1011.9 912 1012C916.2 1012.1 922.8 1008.5 925 1012.5C927.2 1016.5 927.2 1032.2 925 1036C922.8 1039.8 916.2 1036 912 1035C907.8 1034 903.7 1031.5 900 1030C896.3 1028.5 892.8 1027.2 890 1026C887.2 1024.8 885 1024 883 1023C881 1022 878 1021.2 878 1020Z" fill="#ffaa00" stroke="#000" stroke-width="0.6"/>
<path d="M889.5 1020C889.5 1019 892.9 1017.8 895 1017C897.1 1016.2 899.2 1015.8 902 1015.5C904.8 1015.2 908.2 1015.4 912 1015.5C915.8 1015.6 922.8 1013.8 925 1016C927.2 1018.2 927.2 1027 925 1029C922.8 1031 915.8 1028.6 912 1028C908.2 1027.4 904.8 1026.3 902 1025.5C899.2 1024.7 897.1 1023.9 895 1023C892.9 1022.1 889.5 1021 889.5 1020Z" fill="#ff6e00" stroke="#000" stroke-width="0.6"/>
<path d="M277 1008C278.9 1000.6 284.8 1007.7 288.3 1008.7C291.9 1009.7 294.9 1012 298.3 1014C301.8 1016 306.6 1018.2 309 1020.7C311.4 1023.1 311.4 1026 313 1028.7C314.6 1031.3 316.3 1034.2 318.3 1036.7C320.3 1039.1 321.7 1041.6 325 1043.3C328.3 1045.1 335 1047.1 338.3 1047.3C341.7 1047.6 343.2 1044.7 345 1044.7C346.8 1044.7 347.9 1046.4 349 1047.3C350.1 1048.2 351 1048.4 351.7 1050C352.3 1051.6 354.8 1054.7 353 1056.7C351.2 1058.7 345.7 1061.1 341 1062C336.3 1062.9 329.9 1062.7 325 1062C320.1 1061.3 316.1 1059.1 311.7 1058C307.2 1056.9 302.2 1056 298.3 1055.3C294.4 1054.7 291.9 1054.3 288.3 1054C284.8 1053.7 278.9 1061 277 1053.3C275.1 1045.7 275.1 1015.4 277 1008Z" fill="#ffffc8" stroke="#000" stroke-width="0.6"/>
<path d="M277 1012.4C278.9 1008.3 285.2 1012.4 288.3 1012.7C291.4 1012.9 293.3 1012.9 295.7 1014C298 1015.1 300.7 1017.3 302.3 1019.3C304 1021.3 305.2 1023.8 305.7 1026C306.1 1028.2 306 1030.9 305 1032.7C304 1034.4 301.7 1035.8 299.7 1036.7C297.7 1037.6 294.9 1037.9 293 1038C291.1 1038.1 291 1037.4 288.3 1037.3C285.7 1037.2 278.9 1041.5 277 1037.3C275.1 1033.2 275.1 1016.5 277 1012.4Z" fill="#ffaa00" stroke="#000" stroke-width="0.6"/>
<path d="M277 1015.3C278.9 1012.9 285.7 1015.1 288.3 1015.3C291 1015.6 291.6 1015.8 293 1016.7C294.4 1017.6 296.2 1019.3 297 1020.7C297.8 1022 298.1 1023.3 297.7 1024.7C297.2 1026 295.9 1027.8 294.3 1028.7C292.8 1029.6 291.2 1029.8 288.3 1030C285.4 1030.2 278.9 1032.4 277 1030C275.1 1027.6 275.1 1017.8 277 1015.3Z" fill="#ff6e00" stroke="#000" stroke-width="0.6"/>
<path d="M435 1054C434.8 1051 440.8 1045 445 1042C449.2 1039 454.5 1037.8 460 1036C465.5 1034.2 473 1032.3 478 1031C483 1029.7 487.5 1027.5 490 1028C492.5 1028.5 492.7 1030.7 493 1034C493.3 1037.3 490.8 1044.7 492 1048C493.2 1051.3 500.3 1052 500 1054C499.7 1056 493.7 1058.5 490 1060C486.3 1061.5 482.7 1062.3 478 1063C473.3 1063.7 467.3 1064.5 462 1064C456.7 1063.5 450.5 1061.7 446 1060C441.5 1058.3 435.2 1057 435 1054Z" fill="#ffffc8" stroke="#000" stroke-width="0.6"/>
<path d="M542.5 1063.3C543.9 1061.3 549 1058.1 551.7 1057.5C554.3 1056.9 556.8 1058.5 558.3 1060C559.9 1061.5 561.1 1064.4 560.8 1066.7C560.6 1068.9 558.8 1071.9 556.7 1073.3C554.6 1074.7 550.6 1075.6 548.3 1075C546.1 1074.4 544.3 1071.9 543.3 1070C542.4 1068.1 541.1 1065.4 542.5 1063.3Z" fill="#ffffc8" stroke="#000" stroke-width="0.6"/>
<path d="M289 922C289.7 920 291.5 916.8 293 915C294.5 913.2 296.3 911.8 298 911C299.7 910.2 301.3 909.7 303 910C304.7 910.3 307.5 911.7 308 913C308.5 914.3 305.5 916.5 306 918C306.5 919.5 309.3 920.3 311 922C312.7 923.7 314.7 926.2 316 928C317.3 929.8 319.3 931.8 319 933C318.7 934.2 315.7 935.5 314 935C312.3 934.5 310.5 931.7 309 930C307.5 928.3 306.7 926.2 305 925C303.3 923.8 300.8 923 299 923C297.2 923 295.7 924.3 294 925C292.3 925.7 289.8 927.5 289 927C288.2 926.5 288.3 924 289 922Z" fill="#ffffc8" stroke="#000" stroke-width="0.6"/>
<path d="M787 901C788 899.2 792 897.3 795 897C798 896.7 802.2 897.7 805 899C807.8 900.3 811.5 903 812 905C812.5 907 810.5 909.8 808 911C805.5 912.2 800.2 912.5 797 912C793.8 911.5 790.7 909.8 789 908C787.3 906.2 786 902.8 787 901Z" fill="#ffffc8" stroke="#000" stroke-width="0.6"/>
<rect x="288" y="840" width="624" height="312" fill="url(#stip)"/>
<path d="M327.5 912C328.3 910.3 329.2 904.7 332.5 902C335.8 899.3 341.7 897.1 347.5 895.8C353.3 894.4 360.4 893.8 367.5 894C374.6 894.2 382.9 896.8 390 897C397.1 897.2 403.3 895.1 410 895C416.7 894.9 423.8 895.8 430 896.5C436.2 897.2 442.5 898.2 447.5 899.5C452.5 900.8 455.4 903 460 904.5C464.6 906 470.8 906.6 475 908.2C479.2 909.9 482.1 912 485 914.5C487.9 917 490 921 492.5 923.2C495 925.5 498.3 926.4 500 928.2C501.7 930.1 502.1 933.5 502.5 934.5M290 908.2C291.7 907.5 296.7 905.5 300 904C303.3 902.5 306.2 900.7 310 899.5C313.8 898.3 319.2 896.5 322.5 897C325.8 897.5 329.1 900 330 902.5C330.9 905 328.3 910.4 328 912M290 942C291.7 941.2 296.7 937.4 300 937C303.3 936.6 305.8 938.2 310 939.5C314.2 940.8 320 943.2 325 944.5C330 945.8 336.2 945.3 340 947C343.8 948.7 346.7 952 347.5 954.5C348.3 957 347.1 959.9 345 962C342.9 964.1 339.2 966.6 335 967C330.8 967.4 324.2 964.1 320 964.5C315.8 964.9 313.3 969.9 310 969.5C306.7 969.1 303.3 963 300 962C296.7 961 291.7 963 290 963.2M290 860C291.7 859.7 295.8 857.8 300 858C304.2 858.2 309.6 860.2 315 861.5C320.4 862.8 326.7 864.2 332.5 865.5C338.3 866.8 344.2 867.8 350 869C355.8 870.2 362.1 871.6 367.5 872.5C372.9 873.4 377.5 874.3 382.5 874.5C387.5 874.7 392.9 874 397.5 873.5C402.1 873 407.9 871.8 410 871.5M502.5 937C504.6 937.4 509.6 939.5 515 939.5C520.4 939.5 527.5 937.2 535 937C542.5 936.8 551.7 937.8 560 938.2C568.3 938.7 580.8 939.3 585 939.5M615 939.5C617.5 939.7 625 939.9 630 940.8C635 941.6 641.2 942.6 645 944.5C648.8 946.4 651.7 949.1 652.5 952C653.3 954.9 652.1 959.1 650 962C647.9 964.9 643.3 968.7 640 969.5C636.7 970.3 630.8 966.6 630 967C629.2 967.4 631.7 971 635 972C638.3 973 645 973.7 650 973.2C655 972.8 660 970.3 665 969.5C670 968.7 674.6 968.2 680 968.2C685.4 968.2 691.7 969.7 697.5 969.5C703.3 969.3 712.1 967.4 715 967M807.5 932C809.6 930.3 814.6 925.8 820 922C825.4 918.2 834.2 912.2 840 909.5C845.8 906.8 849.6 906.2 855 905.8C860.4 905.3 868.3 906 872.5 907C876.7 908 879.2 909.5 880 912C880.8 914.5 880 919.1 877.5 922C875 924.9 868.8 927.4 865 929.5C861.2 931.6 857.9 932 855 934.5C852.1 937 849.2 941.2 847.5 944.5C845.8 947.8 844.2 951.6 845 954.5C845.8 957.4 849.2 959.9 852.5 962C855.8 964.1 860.4 966.6 865 967C869.6 967.4 876.2 966.6 880 964.5C883.8 962.4 886.2 956.2 887.5 954.5M790 944.5C791.7 943.9 796.7 942 800 940.8C803.3 939.5 807.5 938.5 810 937C812.5 935.5 814.2 932.8 815 932M822.5 859.5C825.4 859.1 834.6 857.2 840 857C845.4 856.8 850 857.4 855 858.2C860 859.1 866.7 860.1 870 862C873.3 863.9 875.8 867.4 875 869.5C874.2 871.6 869.2 873.2 865 874.5C860.8 875.8 855 876.2 850 877C845 877.8 838.8 880.8 835 879.5C831.2 878.2 829.6 872.8 827.5 869.5C825.4 866.2 823.3 861.2 822.5 859.5M705 922C706.7 920.8 711.7 916.2 715 914.5C718.3 912.8 721.7 911.6 725 912C728.3 912.4 731.7 914.9 735 917C738.3 919.1 741.7 922.4 745 924.5C748.3 926.6 750.8 928.2 755 929.5C759.2 930.8 765.8 932 770 932C774.2 932 778.3 929.9 780 929.5M717.5 907C718.8 906.4 722.1 903.7 725 903.2C727.9 902.8 732.9 903.5 735 904.5C737.1 905.5 738.8 908.2 737.5 909.5C736.2 910.8 730.6 911.8 727.5 912C724.4 912.2 720.4 911.6 718.8 910.8C717.1 909.9 717.7 907.6 717.5 907M365 1035C365.4 1036.7 365.8 1042.7 367.5 1045C369.2 1047.3 371.2 1048.8 375 1048.8C378.8 1048.8 385 1046.5 390 1045C395 1043.5 400 1041.7 405 1040C410 1038.3 415 1036.7 420 1035C425 1033.3 429.2 1031.7 435 1030C440.8 1028.3 448.3 1026.2 455 1025C461.7 1023.8 470 1023.8 475 1022.5C480 1021.2 480.8 1018.8 485 1017.5C489.2 1016.2 497.5 1015.4 500 1015M505 1042.5C505.8 1041.7 507.5 1037.9 510 1037.5C512.5 1037.1 518.8 1038.8 520 1040C521.2 1041.2 519.6 1044 517.5 1045C515.4 1046 509.6 1046.7 507.5 1046.2C505.4 1045.8 505.4 1043.1 505 1042.5M520 1027.5C522.5 1027.9 530 1028.3 535 1030C540 1031.7 546.2 1035 550 1037.5C553.8 1040 556.2 1043.8 557.5 1045M290 1015C291.7 1015.8 296.7 1017.5 300 1020C303.3 1022.5 307.1 1026.2 310 1030C312.9 1033.8 315 1039.2 317.5 1042.5C320 1045.8 322.1 1048.1 325 1050C327.9 1051.9 333.3 1053.1 335 1053.8M290 1011.2C292.1 1012.1 298.5 1013.5 302.5 1016.2C306.5 1019 310.8 1023.5 313.8 1027.5C316.7 1031.5 317.5 1036.7 320 1040C322.5 1043.3 325.4 1045.8 328.8 1047.5C332.1 1049.2 338.1 1049.6 340 1050M615 1043.8C619.2 1044.2 631.7 1045.2 640 1046.2C648.3 1047.3 656.7 1048.9 665 1050C673.3 1051.1 683.3 1052.5 690 1053C696.7 1053.5 700.8 1053.3 705 1053C709.2 1052.7 712.1 1053 715 1051.2C717.9 1049.5 720.8 1045.2 722.5 1042.5C724.2 1039.8 725 1037.5 725 1035C725 1032.5 725 1029.2 722.5 1027.5C720 1025.8 715.4 1026 710 1025C704.6 1024 695.4 1022.5 690 1021.2C684.6 1020 681.7 1019 677.5 1017.5C673.3 1016 669.2 1014.2 665 1012.5C660.8 1010.8 656.7 1008.8 652.5 1007.5C648.3 1006.2 644.2 1005.4 640 1005C635.8 1004.6 629.6 1005 627.5 1005M832.5 1050C834.6 1050.8 840.4 1053.3 845 1055C849.6 1056.7 854.6 1058.8 860 1060C865.4 1061.2 874.2 1063.3 877.5 1062.5C880.8 1061.7 880.4 1057.9 880 1055C879.6 1052.1 877.1 1048.3 875 1045C872.9 1041.7 870 1038.3 867.5 1035C865 1031.7 862.5 1028.3 860 1025C857.5 1021.7 854.2 1017.9 852.5 1015C850.8 1012.1 850.4 1008.8 850 1007.5M795 1142.5C798.3 1142.2 807.5 1140.6 815 1140.5C822.5 1140.4 833.3 1141.2 840 1142C846.7 1142.8 855 1144.1 855 1145C855 1145.9 846.7 1147.3 840 1147.5C833.3 1147.7 822.5 1147.1 815 1146.2C807.5 1145.4 798.3 1143.1 795 1142.5M535 1117.5C536.7 1117.9 541.7 1119.7 545 1120C548.3 1120.3 552.5 1119.1 555 1119.5C557.5 1119.9 560.8 1121.6 560 1122.5C559.2 1123.4 552.9 1124.8 550 1125C547.1 1125.2 543.8 1124 542.5 1123.8M555 1135C556.7 1134.6 560.8 1132.5 565 1132.5C569.2 1132.5 576.7 1133.8 580 1135C583.3 1136.2 584.2 1139.2 585 1140" fill="none" stroke="#000" stroke-width="0.6"/>
<g transform="translate(564.3 973.3) rotate(25)"><rect x="-8.8" y="-8" width="17.5" height="16" fill="#fff"/><text x="0" y="5" font-size="14" text-anchor="middle">-1</text></g>
<g transform="translate(663 981.3) rotate(0)"><rect x="-8.8" y="-8" width="17.5" height="16" fill="#fff"/><text x="0" y="5" font-size="14" text-anchor="middle">-1</text></g>
<g transform="translate(594.7 991) rotate(0)"><rect x="-8.8" y="-8" width="17.5" height="16" fill="#fff"/><text x="0" y="5" font-size="14" text-anchor="middle">-2</text></g>
<g transform="translate(611.7 991) rotate(0)"><rect x="-8.8" y="-8" width="17.5" height="16" fill="#fff"/><text x="0" y="5" font-size="14" text-anchor="middle">-2</text></g>
<g transform="translate(621.3 1025) rotate(30)"><rect x="-8.8" y="-8" width="17.5" height="16" fill="#fff"/><text x="0" y="5" font-size="14" text-anchor="middle">-1</text></g>
<g transform="translate(821.3 1037.3) rotate(-5)"><rect x="-8.8" y="-8" width="17.5" height="16" fill="#fff"/><text x="0" y="5" font-size="14" text-anchor="middle">-1</text></g>
<g transform="translate(464 906.7) rotate(0)"><text x="0" y="5" font-size="14" text-anchor="middle">0</text></g>
<g transform="translate(697.6 1051.7) rotate(0)"><text x="0" y="5" font-size="14" text-anchor="middle">0</text></g>
<g transform="translate(865 1005) rotate(0)"><text x="0" y="5" font-size="14" text-anchor="middle">0</text></g>
<g transform="translate(784 942.4) rotate(0)"><text x="0" y="5" font-size="14" text-anchor="middle">0</text></g>
<g transform="translate(301.3 1122.7) rotate(0)"><text x="0" y="5" font-size="14" text-anchor="middle">0</text></g>
<g transform="translate(536 1118.4) rotate(0)"><text x="0" y="5" font-size="14" text-anchor="middle">0</text></g>
<g transform="translate(300.3 962.7) rotate(0)"><text x="0" y="5" font-size="14" text-anchor="middle">0</text></g>
<g transform="translate(507.7 1021.3) rotate(0)"><text x="0" y="5" font-size="14" text-anchor="middle">0</text></g>
<g transform="translate(637.3 960) rotate(0)"><text x="0" y="5" font-size="14" text-anchor="middle">0</text></g>
<use href="#coast" y="792" fill="none" stroke="#000" stroke-width="1.5" stroke-linejoin="round" stroke-linecap="round"/>

</g>
<text x="599.5" y="29.2" font-size="23" text-anchor="middle" font-weight="bold">PCPLx39 hus 850hPa ANN 202001_204912</text>
<text x="599.5" y="425.2" font-size="23" text-anchor="middle" font-weight="bold">ERAI hus 850hPa ANN 197901_201212</text>
<text x="599.5" y="821.2" font-size="23" text-anchor="middle" font-weight="bold">PCPLx39 minus ERAI hus 850hPa ANN (Rxy=0.99, RMSE=0.6)</text>
<path d="M291.7 48v-10.5M291.7 360v10.5M309 48v-5.5M309 360v5.5M326.4 48v-5.5M326.4 360v5.5M343.7 48v-10.5M343.7 360v10.5M361 48v-5.5M361 360v5.5M378.4 48v-5.5M378.4 360v5.5M395.7 48v-10.5M395.7 360v10.5M413 48v-5.5M413 360v5.5M430.4 48v-5.5M430.4 360v5.5M447.7 48v-10.5M447.7 360v10.5M465 48v-5.5M465 360v5.5M482.4 48v-5.5M482.4 360v5.5M499.7 48v-10.5M499.7 360v10.5M517 48v-5.5M517 360v5.5M534.4 48v-5.5M534.4 360v5.5M551.7 48v-10.5M551.7 360v10.5M569 48v-5.5M569 360v5.5M586.4 48v-5.5M586.4 360v5.5M603.7 48v-10.5M603.7 360v10.5M621 48v-5.5M621 360v5.5M638.4 48v-5.5M638.4 360v5.5M655.7 48v-10.5M655.7 360v10.5M673 48v-5.5M673 360v5.5M690.4 48v-5.5M690.4 360v5.5M707.7 48v-10.5M707.7 360v10.5M725 48v-5.5M725 360v5.5M742.4 48v-5.5M742.4 360v5.5M759.7 48v-10.5M759.7 360v10.5M777 48v-5.5M777 360v5.5M794.4 48v-5.5M794.4 360v5.5M811.7 48v-10.5M811.7 360v10.5M829 48v-5.5M829 360v5.5M846.4 48v-5.5M846.4 360v5.5M863.7 48v-10.5M863.7 360v10.5M881 48v-5.5M881 360v5.5M898.4 48v-5.5M898.4 360v5.5M288 360h-10.5M912 360h10.5M288 342.7h-5.5M912 342.7h5.5M288 325.3h-5.5M912 325.3h5.5M288 308h-10.5M912 308h10.5M288 290.7h-5.5M912 290.7h5.5M288 273.3h-5.5M912 273.3h5.5M288 256h-10.5M912 256h10.5M288 238.7h-5.5M912 238.7h5.5M288 221.3h-5.5M912 221.3h5.5M288 204h-10.5M912 204h10.5M288 186.7h-5.5M912 186.7h5.5M288 169.3h-5.5M912 169.3h5.5M288 152h-10.5M912 152h10.5M288 134.7h-5.5M912 134.7h5.5M288 117.3h-5.5M912 117.3h5.5M288 100h-10.5M912 100h10.5M288 82.7h-5.5M912 82.7h5.5M288 65.3h-5.5M912 65.3h5.5M288 48h-10.5M912 48h10.5" stroke="#000" stroke-width="1.0" fill="none"/>
<rect x="288" y="48" width="624" height="312" fill="none" stroke="#000" stroke-width="1.3"/>
<text x="268.5" y="52.7" font-size="13" text-anchor="end">90N</text>
<text x="268.5" y="104.7" font-size="13" text-anchor="end">60N</text>
<text x="268.5" y="156.7" font-size="13" text-anchor="end">30N</text>
<text x="268.5" y="208.7" font-size="13" text-anchor="end">0</text>
<text x="268.5" y="260.7" font-size="13" text-anchor="end">30S</text>
<text x="268.5" y="312.7" font-size="13" text-anchor="end">60S</text>
<text x="268.5" y="364.7" font-size="13" text-anchor="end">90S</text>
<text x="291.7" y="389.7" font-size="13" text-anchor="middle">0</text>
<text x="343.7" y="389.7" font-size="13" text-anchor="middle">30E</text>
<text x="395.7" y="389.7" font-size="13" text-anchor="middle">60E</text>
<text x="447.7" y="389.7" font-size="13" text-anchor="middle">90E</text>
<text x="499.7" y="389.7" font-size="13" text-anchor="middle">120E</text>
<text x="551.7" y="389.7" font-size="13" text-anchor="middle">150E</text>
<text x="603.7" y="389.7" font-size="13" text-anchor="middle">180</text>
<text x="655.7" y="389.7" font-size="13" text-anchor="middle">150W</text>
<text x="707.7" y="389.7" font-size="13" text-anchor="middle">120W</text>
<text x="759.7" y="389.7" font-size="13" text-anchor="middle">90W</text>
<text x="811.7" y="389.7" font-size="13" text-anchor="middle">60W</text>
<text x="863.7" y="389.7" font-size="13" text-anchor="middle">30W</text>
<path d="M291.7 444v-10.5M291.7 756v10.5M309 444v-5.5M309 756v5.5M326.4 444v-5.5M326.4 756v5.5M343.7 444v-10.5M343.7 756v10.5M361 444v-5.5M361 756v5.5M378.4 444v-5.5M378.4 756v5.5M395.7 444v-10.5M395.7 756v10.5M413 444v-5.5M413 756v5.5M430.4 444v-5.5M430.4 756v5.5M447.7 444v-10.5M447.7 756v10.5M465 444v-5.5M465 756v5.5M482.4 444v-5.5M482.4 756v5.5M499.7 444v-10.5M499.7 756v10.5M517 444v-5.5M517 756v5.5M534.4 444v-5.5M534.4 756v5.5M551.7 444v-10.5M551.7 756v10.5M569 444v-5.5M569 756v5.5M586.4 444v-5.5M586.4 756v5.5M603.7 444v-10.5M603.7 756v10.5M621 444v-5.5M621 756v5.5M638.4 444v-5.5M638.4 756v5.5M655.7 444v-10.5M655.7 756v10.5M673 444v-5.5M673 756v5.5M690.4 444v-5.5M690.4 756v5.5M707.7 444v-10.5M707.7 756v10.5M725 444v-5.5M725 756v5.5M742.4 444v-5.5M742.4 756v5.5M759.7 444v-10.5M759.7 756v10.5M777 444v-5.5M777 756v5.5M794.4 444v-5.5M794.4 756v5.5M811.7 444v-10.5M811.7 756v10.5M829 444v-5.5M829 756v5.5M846.4 444v-5.5M846.4 756v5.5M863.7 444v-10.5M863.7 756v10.5M881 444v-5.5M881 756v5.5M898.4 444v-5.5M898.4 756v5.5M288 756h-10.5M912 756h10.5M288 738.7h-5.5M912 738.7h5.5M288 721.3h-5.5M912 721.3h5.5M288 704h-10.5M912 704h10.5M288 686.7h-5.5M912 686.7h5.5M288 669.3h-5.5M912 669.3h5.5M288 652h-10.5M912 652h10.5M288 634.7h-5.5M912 634.7h5.5M288 617.3h-5.5M912 617.3h5.5M288 600h-10.5M912 600h10.5M288 582.7h-5.5M912 582.7h5.5M288 565.3h-5.5M912 565.3h5.5M288 548h-10.5M912 548h10.5M288 530.7h-5.5M912 530.7h5.5M288 513.3h-5.5M912 513.3h5.5M288 496h-10.5M912 496h10.5M288 478.7h-5.5M912 478.7h5.5M288 461.3h-5.5M912 461.3h5.5M288 444h-10.5M912 444h10.5" stroke="#000" stroke-width="1.0" fill="none"/>
<rect x="288" y="444" width="624" height="312" fill="none" stroke="#000" stroke-width="1.3"/>
<text x="268.5" y="448.7" font-size="13" text-anchor="end">90N</text>
<text x="268.5" y="500.7" font-size="13" text-anchor="end">60N</text>
<text x="268.5" y="552.7" font-size="13" text-anchor="end">30N</text>
<text x="268.5" y="604.7" font-size="13" text-anchor="end">0</text>
<text x="268.5" y="656.7" font-size="13" text-anchor="end">30S</text>
<text x="268.5" y="708.7" font-size="13" text-anchor="end">60S</text>
<text x="268.5" y="760.7" font-size="13" text-anchor="end">90S</text>
<text x="291.7" y="785.7" font-size="13" text-anchor="middle">0</text>
<text x="343.7" y="785.7" font-size="13" text-anchor="middle">30E</text>
<text x="395.7" y="785.7" font-size="13" text-anchor="middle">60E</text>
<text x="447.7" y="785.7" font-size="13" text-anchor="middle">90E</text>
<text x="499.7" y="785.7" font-size="13" text-anchor="middle">120E</text>
<text x="551.7" y="785.7" font-size="13" text-anchor="middle">150E</text>
<text x="603.7" y="785.7" font-size="13" text-anchor="middle">180</text>
<text x="655.7" y="785.7" font-size="13" text-anchor="middle">150W</text>
<text x="707.7" y="785.7" font-size="13" text-anchor="middle">120W</text>
<text x="759.7" y="785.7" font-size="13" text-anchor="middle">90W</text>
<text x="811.7" y="785.7" font-size="13" text-anchor="middle">60W</text>
<text x="863.7" y="785.7" font-size="13" text-anchor="middle">30W</text>
<path d="M291.7 840v-10.5M291.7 1152v10.5M309 840v-5.5M309 1152v5.5M326.4 840v-5.5M326.4 1152v5.5M343.7 840v-10.5M343.7 1152v10.5M361 840v-5.5M361 1152v5.5M378.4 840v-5.5M378.4 1152v5.5M395.7 840v-10.5M395.7 1152v10.5M413 840v-5.5M413 1152v5.5M430.4 840v-5.5M430.4 1152v5.5M447.7 840v-10.5M447.7 1152v10.5M465 840v-5.5M465 1152v5.5M482.4 840v-5.5M482.4 1152v5.5M499.7 840v-10.5M499.7 1152v10.5M517 840v-5.5M517 1152v5.5M534.4 840v-5.5M534.4 1152v5.5M551.7 840v-10.5M551.7 1152v10.5M569 840v-5.5M569 1152v5.5M586.4 840v-5.5M586.4 1152v5.5M603.7 840v-10.5M603.7 1152v10.5M621 840v-5.5M621 1152v5.5M638.4 840v-5.5M638.4 1152v5.5M655.7 840v-10.5M655.7 1152v10.5M673 840v-5.5M673 1152v5.5M690.4 840v-5.5M690.4 1152v5.5M707.7 840v-10.5M707.7 1152v10.5M725 840v-5.5M725 1152v5.5M742.4 840v-5.5M742.4 1152v5.5M759.7 840v-10.5M759.7 1152v10.5M777 840v-5.5M777 1152v5.5M794.4 840v-5.5M794.4 1152v5.5M811.7 840v-10.5M811.7 1152v10.5M829 840v-5.5M829 1152v5.5M846.4 840v-5.5M846.4 1152v5.5M863.7 840v-10.5M863.7 1152v10.5M881 840v-5.5M881 1152v5.5M898.4 840v-5.5M898.4 1152v5.5M288 1152h-10.5M912 1152h10.5M288 1134.7h-5.5M912 1134.7h5.5M288 1117.3h-5.5M912 1117.3h5.5M288 1100h-10.5M912 1100h10.5M288 1082.7h-5.5M912 1082.7h5.5M288 1065.3h-5.5M912 1065.3h5.5M288 1048h-10.5M912 1048h10.5M288 1030.7h-5.5M912 1030.7h5.5M288 1013.3h-5.5M912 1013.3h5.5M288 996h-10.5M912 996h10.5M288 978.7h-5.5M912 978.7h5.5M288 961.3h-5.5M912 961.3h5.5M288 944h-10.5M912 944h10.5M288 926.7h-5.5M912 926.7h5.5M288 909.3h-5.5M912 909.3h5.5M288 892h-10.5M912 892h10.5M288 874.7h-5.5M912 874.7h5.5M288 857.3h-5.5M912 857.3h5.5M288 840h-10.5M912 840h10.5" stroke="#000" stroke-width="1.6" fill="none"/>
<rect x="288" y="840" width="624" height="312" fill="none" stroke="#000" stroke-width="2.0"/>
<text x="268.5" y="844.7" font-size="13" text-anchor="end">90N</text>
<text x="268.5" y="896.7" font-size="13" text-anchor="end">60N</text>
<text x="268.5" y="948.7" font-size="13" text-anchor="end">30N</text>
<text x="268.5" y="1000.7" font-size="13" text-anchor="end">0</text>
<text x="268.5" y="1052.7" font-size="13" text-anchor="end">30S</text>
<text x="268.5" y="1104.7" font-size="13" text-anchor="end">60S</text>
<text x="268.5" y="1156.7" font-size="13" text-anchor="end">90S</text>
<text x="291.7" y="1181.7" font-size="13" text-anchor="middle">0</text>
<text x="343.7" y="1181.7" font-size="13" text-anchor="middle">30E</text>
<text x="395.7" y="1181.7" font-size="13" text-anchor="middle">60E</text>
<text x="447.7" y="1181.7" font-size="13" text-anchor="middle">90E</text>
<text x="499.7" y="1181.7" font-size="13" text-anchor="middle">120E</text>
<text x="551.7" y="1181.7" font-size="13" text-anchor="middle">150E</text>
<text x="603.7" y="1181.7" font-size="13" text-anchor="middle">180</text>
<text x="655.7" y="1181.7" font-size="13" text-anchor="middle">150W</text>
<text x="707.7" y="1181.7" font-size="13" text-anchor="middle">120W</text>
<text x="759.7" y="1181.7" font-size="13" text-anchor="middle">90W</text>
<text x="811.7" y="1181.7" font-size="13" text-anchor="middle">60W</text>
<text x="863.7" y="1181.7" font-size="13" text-anchor="middle">30W</text>
<g fill="none" stroke-linejoin="round">
<path d="M202.8 445.8C202.8 447.4 202.9 452.6 202.8 455.8C202.7 459 202.5 462.2 202.1 465C201.6 467.8 200.9 470 200.1 472.3C199.2 474.6 197.9 476.9 196.8 478.8C195.6 480.6 194.2 481.7 193.1 483.3C192 485 190.9 486.7 190 488.8C189.1 491 188.4 493.7 187.6 496.2C186.7 498.6 185.8 500.9 184.8 503.5C183.8 506.1 182.7 509.2 181.5 511.8C180.4 514.3 179 516.9 177.9 519.1C176.7 521.2 176 522.6 174.8 524.6C173.5 526.6 172.1 528.9 170.5 531C169 533.1 167.3 535.3 165.6 537.4C163.8 539.6 161.9 541.8 160.1 543.8C158.2 545.8 156.3 547.8 154.6 549.3C152.9 550.9 151.5 551.6 150 553C148.5 554.4 147.1 555.8 145.4 557.6C143.7 559.4 141.9 562 139.9 564C137.9 566 135.8 567.8 133.5 569.5C131.2 571.2 128.6 572.7 126.2 574.1C123.7 575.5 121.6 576.5 118.8 577.8C116.1 579 112.4 580.2 109.7 581.4C106.9 582.6 104.1 583.9 102.3 585.1C100.6 586.3 99.7 587.7 99 588.8C98.4 589.8 98.1 590.4 98.3 591.5C98.5 592.6 99.2 593.9 100.1 595.2C101.1 596.4 102.9 598 103.8 598.8C104.7 599.6 105.4 598.9 105.6 600C105.8 601.1 104.9 603.8 105.1 605.5C105.3 607.2 105.8 608.4 106.9 610.1C108 611.8 109.5 613.8 111.5 615.6C113.5 617.4 116.1 619.1 118.8 621.1C121.6 623.1 124.9 625.7 128 627.5C131.1 629.3 134.1 630.2 137.2 632.1C140.2 633.9 143.3 636.2 146.3 638.5C149.4 640.8 152.4 643.4 155.5 645.8C158.6 648.3 161.9 650.7 164.7 653.2C167.4 655.6 169.6 657.8 172 660.5C174.4 663.2 177.2 666.6 179.3 669.7C181.5 672.7 183 675.8 184.8 678.8C186.7 681.9 188.8 684.9 190.3 688C191.9 691.1 192.8 694.1 194 697.2C195.2 700.2 196.4 703.7 197.7 706.3C198.9 708.9 200 710.6 201.3 712.8C202.7 714.9 204.7 717.2 205.9 719.2C207.1 721.2 207.8 722.5 208.7 724.7C209.6 726.8 210.8 729.6 211.4 732C212 734.4 211.9 736.9 212.3 739.3C212.7 741.8 213.3 744.2 213.8 746.7C214.3 749.1 214.8 752.5 215.1 754C215.4 755.5 215.5 755.5 215.6 755.8" stroke="#000" stroke-width="1.6" stroke-dasharray="5.5 1.8"/>
<path d="M201.7 445.8C201.6 447.4 201.5 452.6 201.3 455.8C201.2 459 201.2 462.2 200.8 465C200.4 467.8 199.7 470.2 198.8 472.3C197.9 474.5 196.7 476 195.5 477.8C194.2 479.7 192.5 481.5 191.2 483.3C190 485.2 189.1 486.7 188.1 488.8C187.2 491 186.6 493.7 185.8 496.2C184.9 498.6 183.9 501.1 183 503.5C182.1 505.9 181.2 508.4 180.2 510.8C179.3 513.3 178.4 516 177.5 518.2C176.6 520.4 175.9 521.9 174.8 524C173.6 526.2 172.2 528.6 170.7 531C169.3 533.4 167.9 535.7 166.1 538.3C164.4 540.9 162 544.1 160.1 546.6C158.2 549 156.4 551 154.6 553C152.8 555 151 556.7 149.1 558.5C147.2 560.3 145.3 562.1 143 564C140.7 565.9 138.1 568 135.3 570C132.5 572.1 128.9 574.5 126.2 576.3C123.4 578.1 121 579.5 118.8 580.9C116.7 582.2 114.7 583.2 113.3 584.5C112 585.8 111.1 587.6 110.6 588.8C110.1 589.9 109.9 590.4 110.2 591.5C110.5 592.6 111.4 594.1 112.4 595.2C113.4 596.2 115.1 597 116.1 597.9C117.1 598.8 118.7 599.4 118.3 600.5C117.8 601.7 114.5 603.3 113.3 604.6C112.2 605.9 111.7 607 111.5 608.2C111.3 609.5 111.5 610.4 112.4 611.9C113.3 613.4 115.2 615.6 117 617.4C118.8 619.2 121 621.1 123.4 622.9C125.9 624.8 129.1 626.7 131.7 628.4C134.3 630.1 136.4 631.2 139 633C141.6 634.8 144.4 637 147.2 639.4C150.1 641.9 153 644.8 155.9 647.7C158.7 650.6 161.7 653.8 164.3 656.8C166.9 659.9 169.3 662.6 171.6 666C174 669.4 176.3 673.5 178.4 677C180.6 680.5 182.5 683.6 184.5 687.1C186.4 690.6 188.4 694.9 190 698.1C191.5 701.3 192.2 703.9 193.6 706.3C195.1 708.8 196.9 710.6 198.8 712.8C200.6 714.9 203.1 717.2 204.6 719.2C206.1 721.2 206.7 722.5 207.8 724.7C208.8 726.8 210.1 729.6 210.9 732C211.6 734.4 211.8 736.9 212.3 739.3C212.8 741.8 213.3 744.2 213.8 746.7C214.3 749.1 214.9 752.8 215.1 754" stroke="#f00" stroke-width="1.15"/>
<path d="M121.6 842.5L122.5 851.3L122.5 860.5L120.7 869.7L117 877L115.7 882.5L116.6 891.7L119.8 900.8L123.4 907.2L126.2 910.9L127.1 915.5L128.9 921L130.8 923.8L134.4 925.6L135 928.3L133.9 932L134.4 934.8L139 940.2L143.6 945.8L147.2 948.5L144.5 951.2L143.6 954L147.2 958.6L148.2 961.3L151.8 965L159.2 968.7L168.3 972L179.3 975.1L190.3 978.8L197.7 981.5L200.4 987L203.7 992.5L201.3 996.2L194 998.4L189.4 1000L179.3 1001.8L168.3 1003.7L157.3 1005.9L152.8 1007.7L151.8 1011L148.2 1015.6L142.7 1018.3L136.2 1021.1L137.2 1024.8L134.4 1029.3L131.7 1033.9L128 1038.5L122.5 1044L117 1050.4L112.4 1055.9L111.9 1062.3L113 1069.7L111.1 1075.2L111.9 1082.5L114.2 1091.7L116.1 1099L117 1105.4L120.7 1111.8L124.3 1118.2L125.2 1125.6L128.9 1131.1L129.5 1139.3L130.2 1144.8L132.6 1148.1L130.8 1149.4" stroke="#f00" stroke-width="1.15"/>
<path d="M130.2 841.5V1151" stroke="#000" stroke-width="1.5" stroke-dasharray="5.5 1.8"/>
</g>
<path d="M96 756h-7.5M216 756h7.5M96 738.7h-4M216 738.7h4M96 721.3h-4M216 721.3h4M96 704h-7.5M216 704h7.5M96 686.7h-4M216 686.7h4M96 669.3h-4M216 669.3h4M96 652h-7.5M216 652h7.5M96 634.7h-4M216 634.7h4M96 617.3h-4M216 617.3h4M96 600h-7.5M216 600h7.5M96 582.7h-4M216 582.7h4M96 565.3h-4M216 565.3h4M96 548h-7.5M216 548h7.5M96 530.7h-4M216 530.7h4M96 513.3h-4M216 513.3h4M96 496h-7.5M216 496h7.5M96 478.7h-4M216 478.7h4M96 461.3h-4M216 461.3h4M96 444h-7.5M216 444h7.5M216 444v-7.5M216 756v7.5M196 444v-7.5M196 756v7.5M176 444v-7.5M176 756v7.5M156 444v-7.5M156 756v7.5M136 444v-7.5M136 756v7.5M116 444v-7.5M116 756v7.5M96 444v-7.5M96 756v7.5" stroke="#000" stroke-width="1.0" fill="none"/>
<path d="M212 444v-4M212 756v4M208 444v-4M208 756v4M204 444v-4M204 756v4M200 444v-4M200 756v4M192 444v-4M192 756v4M188 444v-4M188 756v4M184 444v-4M184 756v4M180 444v-4M180 756v4M172 444v-4M172 756v4M168 444v-4M168 756v4M164 444v-4M164 756v4M160 444v-4M160 756v4M152 444v-4M152 756v4M148 444v-4M148 756v4M144 444v-4M144 756v4M140 444v-4M140 756v4M132 444v-4M132 756v4M128 444v-4M128 756v4M124 444v-4M124 756v4M120 444v-4M120 756v4M112 444v-4M112 756v4M108 444v-4M108 756v4M104 444v-4M104 756v4M100 444v-4M100 756v4" stroke="#444" stroke-width="0.7" fill="none"/>
<rect x="96" y="444" width="120" height="312" fill="none" stroke="#000" stroke-width="1.3"/>
<text x="79.5" y="448.7" font-size="13" text-anchor="end">90N</text>
<text x="79.5" y="500.7" font-size="13" text-anchor="end">60N</text>
<text x="79.5" y="552.7" font-size="13" text-anchor="end">30N</text>
<text x="79.5" y="604.7" font-size="13" text-anchor="end">0</text>
<text x="79.5" y="656.7" font-size="13" text-anchor="end">30S</text>
<text x="79.5" y="708.7" font-size="13" text-anchor="end">60S</text>
<text x="79.5" y="760.7" font-size="13" text-anchor="end">90S</text>
<text x="216" y="783.5" font-size="13" text-anchor="middle">0</text>
<text x="196" y="783.5" font-size="13" text-anchor="middle">2</text>
<text x="176" y="783.5" font-size="13" text-anchor="middle">4</text>
<text x="156" y="783.5" font-size="13" text-anchor="middle">6</text>
<text x="136" y="783.5" font-size="13" text-anchor="middle">8</text>
<text x="116" y="783.5" font-size="13" text-anchor="middle">10</text>
<text x="96" y="783.5" font-size="13" text-anchor="middle">12</text>
<text x="156.3" y="435.2" font-size="16.3" text-anchor="middle">Zonal mean</text>
<path d="M96 1152h-7.5M216 1152h7.5M96 1134.7h-4M216 1134.7h4M96 1117.3h-4M216 1117.3h4M96 1100h-7.5M216 1100h7.5M96 1082.7h-4M216 1082.7h4M96 1065.3h-4M216 1065.3h4M96 1048h-7.5M216 1048h7.5M96 1030.7h-4M216 1030.7h4M96 1013.3h-4M216 1013.3h4M96 996h-7.5M216 996h7.5M96 978.7h-4M216 978.7h4M96 961.3h-4M216 961.3h4M96 944h-7.5M216 944h7.5M96 926.7h-4M216 926.7h4M96 909.3h-4M216 909.3h4M96 892h-7.5M216 892h7.5M96 874.7h-4M216 874.7h4M96 857.3h-4M216 857.3h4M96 840h-7.5M216 840h7.5M107.3 840v-7.5M107.3 1152v7.5M130.2 840v-7.5M130.2 1152v7.5M153.1 840v-7.5M153.1 1152v7.5M175.9 840v-7.5M175.9 1152v7.5M198.8 840v-7.5M198.8 1152v7.5" stroke="#000" stroke-width="1.0" fill="none"/>
<path d="M215.9 840v-4M215.9 1152v4M210.2 840v-4M210.2 1152v4M204.5 840v-4M204.5 1152v4M193.1 840v-4M193.1 1152v4M187.3 840v-4M187.3 1152v4M181.6 840v-4M181.6 1152v4M170.2 840v-4M170.2 1152v4M164.5 840v-4M164.5 1152v4M158.8 840v-4M158.8 1152v4M147.3 840v-4M147.3 1152v4M141.6 840v-4M141.6 1152v4M135.9 840v-4M135.9 1152v4M124.5 840v-4M124.5 1152v4M118.8 840v-4M118.8 1152v4M113.1 840v-4M113.1 1152v4M101.6 840v-4M101.6 1152v4M95.9 840v-4M95.9 1152v4" stroke="#444" stroke-width="0.7" fill="none"/>
<rect x="96" y="840" width="120" height="312" fill="none" stroke="#000" stroke-width="1.3"/>
<text x="79.5" y="844.7" font-size="13" text-anchor="end">90N</text>
<text x="79.5" y="896.7" font-size="13" text-anchor="end">60N</text>
<text x="79.5" y="948.7" font-size="13" text-anchor="end">30N</text>
<text x="79.5" y="1000.7" font-size="13" text-anchor="end">0</text>
<text x="79.5" y="1052.7" font-size="13" text-anchor="end">30S</text>
<text x="79.5" y="1104.7" font-size="13" text-anchor="end">60S</text>
<text x="79.5" y="1156.7" font-size="13" text-anchor="end">90S</text>
<text x="107.3" y="1179.5" font-size="13" text-anchor="middle">0.4</text>
<text x="130.2" y="1179.5" font-size="13" text-anchor="middle">0.0</text>
<text x="153.1" y="1179.5" font-size="13" text-anchor="middle">-0.4</text>
<text x="175.9" y="1179.5" font-size="13" text-anchor="middle">-0.8</text>
<text x="198.8" y="1179.5" font-size="13" text-anchor="middle">-1.2</text>
<text x="156.3" y="831.2" font-size="16.3" text-anchor="middle">Zonal mean</text>
<rect x="959.5" y="332.86" width="37" height="20.44" fill="#ffffff" stroke="#000" stroke-width="0.7"/>
<rect x="959.5" y="312.42" width="37" height="20.44" fill="#a0a0ff" stroke="#000" stroke-width="0.7"/>
<rect x="959.5" y="291.98" width="37" height="20.44" fill="#4646ff" stroke="#000" stroke-width="0.7"/>
<rect x="959.5" y="271.53" width="37" height="20.44" fill="#0000f0" stroke="#000" stroke-width="0.7"/>
<rect x="959.5" y="251.09" width="37" height="20.44" fill="#074e92" stroke="#000" stroke-width="0.7"/>
<rect x="959.5" y="230.65" width="37" height="20.44" fill="#0a8c3e" stroke="#000" stroke-width="0.7"/>
<rect x="959.5" y="210.21" width="37" height="20.44" fill="#32c010" stroke="#000" stroke-width="0.7"/>
<rect x="959.5" y="189.77" width="37" height="20.44" fill="#92e00c" stroke="#000" stroke-width="0.7"/>
<rect x="959.5" y="169.33" width="37" height="20.44" fill="#f0f800" stroke="#000" stroke-width="0.7"/>
<rect x="959.5" y="148.88" width="37" height="20.44" fill="#ffb400" stroke="#000" stroke-width="0.7"/>
<rect x="959.5" y="128.44" width="37" height="20.44" fill="#ff6000" stroke="#000" stroke-width="0.7"/>
<rect x="959.5" y="108.00" width="37" height="20.44" fill="#ff0000" stroke="#000" stroke-width="0.7"/>
<text x="1017.5" y="339.9" font-size="19.5" text-anchor="middle">0</text>
<text x="1017.5" y="319.4" font-size="19.5" text-anchor="middle">1</text>
<text x="1017.5" y="299" font-size="19.5" text-anchor="middle">2</text>
<text x="1017.5" y="278.5" font-size="19.5" text-anchor="middle">3</text>
<text x="1017.5" y="258.1" font-size="19.5" text-anchor="middle">4</text>
<text x="1017.5" y="237.7" font-size="19.5" text-anchor="middle">5</text>
<text x="1017.5" y="217.2" font-size="19.5" text-anchor="middle">6</text>
<text x="1017.5" y="196.8" font-size="19.5" text-anchor="middle">7</text>
<text x="1017.5" y="176.3" font-size="19.5" text-anchor="middle">8</text>
<text x="1017.5" y="155.9" font-size="19.5" text-anchor="middle">9</text>
<text x="1017.5" y="135.4" font-size="19.5" text-anchor="middle">10</text>
<text x="993" y="82" font-size="19.5" text-anchor="middle">kg/kg</text>
<rect x="959.5" y="728.86" width="37" height="20.44" fill="#ffffff" stroke="#000" stroke-width="0.7"/>
<rect x="959.5" y="708.42" width="37" height="20.44" fill="#a0a0ff" stroke="#000" stroke-width="0.7"/>
<rect x="959.5" y="687.97" width="37" height="20.44" fill="#4646ff" stroke="#000" stroke-width="0.7"/>
<rect x="959.5" y="667.53" width="37" height="20.44" fill="#0000f0" stroke="#000" stroke-width="0.7"/>
<rect x="959.5" y="647.09" width="37" height="20.44" fill="#074e92" stroke="#000" stroke-width="0.7"/>
<rect x="959.5" y="626.65" width="37" height="20.44" fill="#0a8c3e" stroke="#000" stroke-width="0.7"/>
<rect x="959.5" y="606.21" width="37" height="20.44" fill="#32c010" stroke="#000" stroke-width="0.7"/>
<rect x="959.5" y="585.77" width="37" height="20.44" fill="#92e00c" stroke="#000" stroke-width="0.7"/>
<rect x="959.5" y="565.33" width="37" height="20.44" fill="#f0f800" stroke="#000" stroke-width="0.7"/>
<rect x="959.5" y="544.88" width="37" height="20.44" fill="#ffb400" stroke="#000" stroke-width="0.7"/>
<rect x="959.5" y="524.44" width="37" height="20.44" fill="#ff6000" stroke="#000" stroke-width="0.7"/>
<rect x="959.5" y="504.00" width="37" height="20.44" fill="#ff0000" stroke="#000" stroke-width="0.7"/>
<text x="1017.5" y="735.9" font-size="19.5" text-anchor="middle">0</text>
<text x="1017.5" y="715.4" font-size="19.5" text-anchor="middle">1</text>
<text x="1017.5" y="695" font-size="19.5" text-anchor="middle">2</text>
<text x="1017.5" y="674.5" font-size="19.5" text-anchor="middle">3</text>
<text x="1017.5" y="654.1" font-size="19.5" text-anchor="middle">4</text>
<text x="1017.5" y="633.6" font-size="19.5" text-anchor="middle">5</text>
<text x="1017.5" y="613.2" font-size="19.5" text-anchor="middle">6</text>
<text x="1017.5" y="592.8" font-size="19.5" text-anchor="middle">7</text>
<text x="1017.5" y="572.3" font-size="19.5" text-anchor="middle">8</text>
<text x="1017.5" y="551.9" font-size="19.5" text-anchor="middle">9</text>
<text x="1017.5" y="531.4" font-size="19.5" text-anchor="middle">10</text>
<text x="993" y="478" font-size="19.5" text-anchor="middle">kg/kg</text>
<rect x="961" y="1127.96" width="37.2" height="17.54" fill="#8220f0" stroke="#000" stroke-width="0.7"/>
<rect x="961" y="1110.43" width="37.2" height="17.54" fill="#000096" stroke="#000" stroke-width="0.7"/>
<rect x="961" y="1092.89" width="37.2" height="17.54" fill="#4169e1" stroke="#000" stroke-width="0.7"/>
<rect x="961" y="1075.36" width="37.2" height="17.54" fill="#1e90ff" stroke="#000" stroke-width="0.7"/>
<rect x="961" y="1057.82" width="37.2" height="17.54" fill="#00bfff" stroke="#000" stroke-width="0.7"/>
<rect x="961" y="1040.29" width="37.2" height="17.54" fill="#d2f5ff" stroke="#000" stroke-width="0.7"/>
<rect x="961" y="1022.75" width="37.2" height="17.54" fill="#ffffff" stroke="#000" stroke-width="0.7"/>
<rect x="961" y="1005.21" width="37.2" height="17.54" fill="#ffffff" stroke="#000" stroke-width="0.7"/>
<rect x="961" y="987.68" width="37.2" height="17.54" fill="#ffffc8" stroke="#000" stroke-width="0.7"/>
<rect x="961" y="970.14" width="37.2" height="17.54" fill="#ffaa00" stroke="#000" stroke-width="0.7"/>
<rect x="961" y="952.61" width="37.2" height="17.54" fill="#ff6e00" stroke="#000" stroke-width="0.7"/>
<rect x="961" y="935.07" width="37.2" height="17.54" fill="#ff0000" stroke="#000" stroke-width="0.7"/>
<rect x="961" y="917.54" width="37.2" height="17.54" fill="#a02323" stroke="#000" stroke-width="0.7"/>
<rect x="961" y="900.00" width="37.2" height="17.54" fill="#ff69b4" stroke="#000" stroke-width="0.7"/>
<text x="1017.5" y="1135" font-size="19.5" text-anchor="middle">-3</text>
<text x="1017.5" y="1099.9" font-size="19.5" text-anchor="middle">-2</text>
<text x="1017.5" y="1064.8" font-size="19.5" text-anchor="middle">-1</text>
<text x="1017.5" y="1029.8" font-size="19.5" text-anchor="middle">0</text>
<text x="1017.5" y="994.7" font-size="19.5" text-anchor="middle">1</text>
<text x="1017.5" y="959.6" font-size="19.5" text-anchor="middle">2</text>
<text x="1017.5" y="924.5" font-size="19.5" text-anchor="middle">3</text>
<text x="993" y="874" font-size="19.5" text-anchor="middle">kg/kg</text>
<text x="1060" y="1122.5" font-size="19.5" text-anchor="start">Max=2.46</text>
<text x="1060" y="1146.2" font-size="19.5" text-anchor="start">Min=-4.47</text>
</svg>
</body>
</html>
